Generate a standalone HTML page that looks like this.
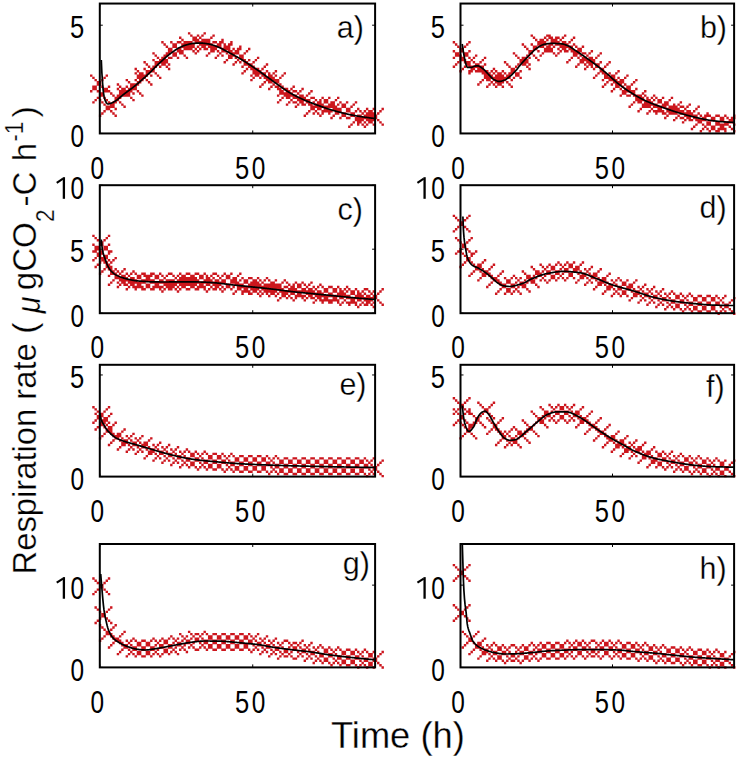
<!DOCTYPE html>
<html><head><meta charset="utf-8"><style>
html,body{margin:0;padding:0;background:#fff;overflow:hidden}
svg{display:block}
text{font-family:"Liberation Sans",sans-serif}
.thin text,text.thin{stroke:#fff;stroke-width:0.3px}
.pl{font-size:30.5px}
</style></head><body>
<svg width="742" height="758" viewBox="0 0 742 758">
<defs><filter id="bl" x="-5%" y="-5%" width="110%" height="110%"><feGaussianBlur stdDeviation="0.2"/></filter></defs>
<rect width="742" height="758" fill="#fff"/>
<g fill="#cc161e" filter="url(#bl)">
<path d="M98.92 94.47h2.4v2.4h-2.4zM101.15 94.47h2.4v2.4h-2.4zM112.28 94.47h2.4v2.4h-2.4zM116.73 94.47h2.4v2.4h-2.4zM118.95 94.47h2.4v2.4h-2.4zM121.17 94.47h2.4v2.4h-2.4zM123.4 94.47h2.4v2.4h-2.4zM125.62 94.47h2.4v2.4h-2.4zM127.85 94.47h2.4v2.4h-2.4zM141.2 94.47h2.4v2.4h-2.4zM276.93 94.47h2.4v2.4h-2.4zM283.6 94.47h2.4v2.4h-2.4zM285.83 94.47h2.4v2.4h-2.4zM288.05 94.47h2.4v2.4h-2.4zM290.28 94.47h2.4v2.4h-2.4zM292.5 94.47h2.4v2.4h-2.4zM294.73 94.47h2.4v2.4h-2.4zM299.18 94.47h2.4v2.4h-2.4zM301.4 94.47h2.4v2.4h-2.4zM305.85 94.47h2.4v2.4h-2.4zM152.33 52.2h2.4v2.4h-2.4zM165.68 52.2h2.4v2.4h-2.4zM167.9 52.2h2.4v2.4h-2.4zM172.35 52.2h2.4v2.4h-2.4zM174.58 52.2h2.4v2.4h-2.4zM179.03 52.2h2.4v2.4h-2.4zM181.25 52.2h2.4v2.4h-2.4zM194.6 52.2h2.4v2.4h-2.4zM207.95 52.2h2.4v2.4h-2.4zM219.08 52.2h2.4v2.4h-2.4zM225.75 52.2h2.4v2.4h-2.4zM230.2 52.2h2.4v2.4h-2.4zM232.43 52.2h2.4v2.4h-2.4zM234.65 52.2h2.4v2.4h-2.4zM236.88 52.2h2.4v2.4h-2.4zM243.55 52.2h2.4v2.4h-2.4zM92.25 85.58h2.4v2.4h-2.4zM94.47 85.58h2.4v2.4h-2.4zM101.15 85.58h2.4v2.4h-2.4zM107.83 85.58h2.4v2.4h-2.4zM118.95 85.58h2.4v2.4h-2.4zM125.62 85.58h2.4v2.4h-2.4zM130.08 85.58h2.4v2.4h-2.4zM132.3 85.58h2.4v2.4h-2.4zM134.53 85.58h2.4v2.4h-2.4zM259.12 85.58h2.4v2.4h-2.4zM270.25 85.58h2.4v2.4h-2.4zM274.7 85.58h2.4v2.4h-2.4zM276.93 85.58h2.4v2.4h-2.4zM281.38 85.58h2.4v2.4h-2.4zM292.5 85.58h2.4v2.4h-2.4zM145.65 63.33h2.4v2.4h-2.4zM154.55 63.33h2.4v2.4h-2.4zM156.78 63.33h2.4v2.4h-2.4zM161.23 63.33h2.4v2.4h-2.4zM163.45 63.33h2.4v2.4h-2.4zM167.9 63.33h2.4v2.4h-2.4zM232.43 63.33h2.4v2.4h-2.4zM243.55 63.33h2.4v2.4h-2.4zM245.78 63.33h2.4v2.4h-2.4zM248 63.33h2.4v2.4h-2.4zM250.23 63.33h2.4v2.4h-2.4zM265.8 63.33h2.4v2.4h-2.4zM190.15 34.4h2.4v2.4h-2.4zM196.83 34.4h2.4v2.4h-2.4zM201.28 34.4h2.4v2.4h-2.4zM212.4 34.4h2.4v2.4h-2.4zM90.03 74.45h2.4v2.4h-2.4zM105.6 74.45h2.4v2.4h-2.4zM136.75 74.45h2.4v2.4h-2.4zM138.98 74.45h2.4v2.4h-2.4zM141.2 74.45h2.4v2.4h-2.4zM143.43 74.45h2.4v2.4h-2.4zM145.65 74.45h2.4v2.4h-2.4zM150.1 74.45h2.4v2.4h-2.4zM156.78 74.45h2.4v2.4h-2.4zM250.23 74.45h2.4v2.4h-2.4zM254.68 74.45h2.4v2.4h-2.4zM256.9 74.45h2.4v2.4h-2.4zM261.35 74.45h2.4v2.4h-2.4zM263.58 74.45h2.4v2.4h-2.4zM268.03 74.45h2.4v2.4h-2.4zM270.25 74.45h2.4v2.4h-2.4zM274.7 74.45h2.4v2.4h-2.4zM281.38 74.45h2.4v2.4h-2.4zM103.38 110.05h2.4v2.4h-2.4zM110.05 110.05h2.4v2.4h-2.4zM308.08 110.05h2.4v2.4h-2.4zM314.75 110.05h2.4v2.4h-2.4zM321.43 110.05h2.4v2.4h-2.4zM323.65 110.05h2.4v2.4h-2.4zM325.88 110.05h2.4v2.4h-2.4zM328.1 110.05h2.4v2.4h-2.4zM330.33 110.05h2.4v2.4h-2.4zM334.78 110.05h2.4v2.4h-2.4zM337 110.05h2.4v2.4h-2.4zM339.23 110.05h2.4v2.4h-2.4zM345.9 110.05h2.4v2.4h-2.4zM348.12 110.05h2.4v2.4h-2.4zM354.8 110.05h2.4v2.4h-2.4zM359.25 110.05h2.4v2.4h-2.4zM363.7 110.05h2.4v2.4h-2.4zM368.15 110.05h2.4v2.4h-2.4zM370.38 110.05h2.4v2.4h-2.4zM379.28 110.05h2.4v2.4h-2.4zM354.8 118.95h2.4v2.4h-2.4zM357.03 118.95h2.4v2.4h-2.4zM359.25 118.95h2.4v2.4h-2.4zM361.48 118.95h2.4v2.4h-2.4zM365.93 118.95h2.4v2.4h-2.4zM368.15 118.95h2.4v2.4h-2.4zM370.38 118.95h2.4v2.4h-2.4zM372.6 118.95h2.4v2.4h-2.4zM377.05 118.95h2.4v2.4h-2.4zM94.47 98.92h2.4v2.4h-2.4zM98.92 98.92h2.4v2.4h-2.4zM105.6 98.92h2.4v2.4h-2.4zM114.5 98.92h2.4v2.4h-2.4zM116.73 98.92h2.4v2.4h-2.4zM132.3 98.92h2.4v2.4h-2.4zM279.15 98.92h2.4v2.4h-2.4zM290.28 98.92h2.4v2.4h-2.4zM296.95 98.92h2.4v2.4h-2.4zM299.18 98.92h2.4v2.4h-2.4zM301.4 98.92h2.4v2.4h-2.4zM303.62 98.92h2.4v2.4h-2.4zM305.85 98.92h2.4v2.4h-2.4zM308.08 98.92h2.4v2.4h-2.4zM314.75 98.92h2.4v2.4h-2.4zM319.2 98.92h2.4v2.4h-2.4zM323.65 98.92h2.4v2.4h-2.4zM325.88 98.92h2.4v2.4h-2.4zM334.78 98.92h2.4v2.4h-2.4zM165.68 45.52h2.4v2.4h-2.4zM172.35 45.52h2.4v2.4h-2.4zM174.58 45.52h2.4v2.4h-2.4zM181.25 45.52h2.4v2.4h-2.4zM183.48 45.52h2.4v2.4h-2.4zM185.7 45.52h2.4v2.4h-2.4zM187.93 45.52h2.4v2.4h-2.4zM190.15 45.52h2.4v2.4h-2.4zM192.38 45.52h2.4v2.4h-2.4zM196.83 45.52h2.4v2.4h-2.4zM201.28 45.52h2.4v2.4h-2.4zM203.5 45.52h2.4v2.4h-2.4zM207.95 45.52h2.4v2.4h-2.4zM210.18 45.52h2.4v2.4h-2.4zM212.4 45.52h2.4v2.4h-2.4zM214.63 45.52h2.4v2.4h-2.4zM216.85 45.52h2.4v2.4h-2.4zM219.08 45.52h2.4v2.4h-2.4zM223.53 45.52h2.4v2.4h-2.4zM225.75 45.52h2.4v2.4h-2.4zM227.98 45.52h2.4v2.4h-2.4zM239.1 45.52h2.4v2.4h-2.4zM352.58 121.17h2.4v2.4h-2.4zM357.03 121.17h2.4v2.4h-2.4zM359.25 121.17h2.4v2.4h-2.4zM363.7 121.17h2.4v2.4h-2.4zM368.15 121.17h2.4v2.4h-2.4zM370.38 121.17h2.4v2.4h-2.4zM379.28 121.17h2.4v2.4h-2.4zM101.15 112.28h2.4v2.4h-2.4zM112.28 112.28h2.4v2.4h-2.4zM305.85 112.28h2.4v2.4h-2.4zM312.53 112.28h2.4v2.4h-2.4zM316.98 112.28h2.4v2.4h-2.4zM321.43 112.28h2.4v2.4h-2.4zM328.1 112.28h2.4v2.4h-2.4zM334.78 112.28h2.4v2.4h-2.4zM337 112.28h2.4v2.4h-2.4zM341.45 112.28h2.4v2.4h-2.4zM343.68 112.28h2.4v2.4h-2.4zM350.35 112.28h2.4v2.4h-2.4zM352.58 112.28h2.4v2.4h-2.4zM361.48 112.28h2.4v2.4h-2.4zM365.93 112.28h2.4v2.4h-2.4zM368.15 112.28h2.4v2.4h-2.4zM370.38 112.28h2.4v2.4h-2.4zM372.6 112.28h2.4v2.4h-2.4zM377.05 112.28h2.4v2.4h-2.4zM167.9 47.75h2.4v2.4h-2.4zM170.13 47.75h2.4v2.4h-2.4zM176.8 47.75h2.4v2.4h-2.4zM179.03 47.75h2.4v2.4h-2.4zM183.48 47.75h2.4v2.4h-2.4zM185.7 47.75h2.4v2.4h-2.4zM187.93 47.75h2.4v2.4h-2.4zM190.15 47.75h2.4v2.4h-2.4zM194.6 47.75h2.4v2.4h-2.4zM199.05 47.75h2.4v2.4h-2.4zM203.5 47.75h2.4v2.4h-2.4zM205.73 47.75h2.4v2.4h-2.4zM210.18 47.75h2.4v2.4h-2.4zM212.4 47.75h2.4v2.4h-2.4zM214.63 47.75h2.4v2.4h-2.4zM221.3 47.75h2.4v2.4h-2.4zM223.53 47.75h2.4v2.4h-2.4zM225.75 47.75h2.4v2.4h-2.4zM227.98 47.75h2.4v2.4h-2.4zM232.43 47.75h2.4v2.4h-2.4zM236.88 47.75h2.4v2.4h-2.4zM239.1 47.75h2.4v2.4h-2.4zM248 47.75h2.4v2.4h-2.4zM96.7 83.35h2.4v2.4h-2.4zM98.92 83.35h2.4v2.4h-2.4zM116.73 83.35h2.4v2.4h-2.4zM130.08 83.35h2.4v2.4h-2.4zM132.3 83.35h2.4v2.4h-2.4zM134.53 83.35h2.4v2.4h-2.4zM136.75 83.35h2.4v2.4h-2.4zM150.1 83.35h2.4v2.4h-2.4zM261.35 83.35h2.4v2.4h-2.4zM272.48 83.35h2.4v2.4h-2.4zM279.15 83.35h2.4v2.4h-2.4zM181.25 38.85h2.4v2.4h-2.4zM192.38 38.85h2.4v2.4h-2.4zM194.6 38.85h2.4v2.4h-2.4zM196.83 38.85h2.4v2.4h-2.4zM201.28 38.85h2.4v2.4h-2.4zM203.5 38.85h2.4v2.4h-2.4zM205.73 38.85h2.4v2.4h-2.4zM207.95 38.85h2.4v2.4h-2.4zM221.3 38.85h2.4v2.4h-2.4zM134.53 72.22h2.4v2.4h-2.4zM138.98 72.22h2.4v2.4h-2.4zM141.2 72.22h2.4v2.4h-2.4zM145.65 72.22h2.4v2.4h-2.4zM147.88 72.22h2.4v2.4h-2.4zM154.55 72.22h2.4v2.4h-2.4zM241.33 72.22h2.4v2.4h-2.4zM252.45 72.22h2.4v2.4h-2.4zM254.68 72.22h2.4v2.4h-2.4zM256.9 72.22h2.4v2.4h-2.4zM259.12 72.22h2.4v2.4h-2.4zM261.35 72.22h2.4v2.4h-2.4zM263.58 72.22h2.4v2.4h-2.4zM268.03 72.22h2.4v2.4h-2.4zM272.48 72.22h2.4v2.4h-2.4zM283.6 72.22h2.4v2.4h-2.4zM92.25 101.15h2.4v2.4h-2.4zM101.15 101.15h2.4v2.4h-2.4zM107.83 101.15h2.4v2.4h-2.4zM112.28 101.15h2.4v2.4h-2.4zM114.5 101.15h2.4v2.4h-2.4zM118.95 101.15h2.4v2.4h-2.4zM276.93 101.15h2.4v2.4h-2.4zM288.05 101.15h2.4v2.4h-2.4zM292.5 101.15h2.4v2.4h-2.4zM294.73 101.15h2.4v2.4h-2.4zM299.18 101.15h2.4v2.4h-2.4zM301.4 101.15h2.4v2.4h-2.4zM305.85 101.15h2.4v2.4h-2.4zM308.08 101.15h2.4v2.4h-2.4zM312.53 101.15h2.4v2.4h-2.4zM316.98 101.15h2.4v2.4h-2.4zM319.2 101.15h2.4v2.4h-2.4zM323.65 101.15h2.4v2.4h-2.4zM325.88 101.15h2.4v2.4h-2.4zM330.33 101.15h2.4v2.4h-2.4zM332.55 101.15h2.4v2.4h-2.4zM339.23 101.15h2.4v2.4h-2.4zM345.9 101.15h2.4v2.4h-2.4zM354.8 101.15h2.4v2.4h-2.4zM98.92 114.5h2.4v2.4h-2.4zM114.5 114.5h2.4v2.4h-2.4zM303.62 114.5h2.4v2.4h-2.4zM319.2 114.5h2.4v2.4h-2.4zM332.55 114.5h2.4v2.4h-2.4zM341.45 114.5h2.4v2.4h-2.4zM343.68 114.5h2.4v2.4h-2.4zM350.35 114.5h2.4v2.4h-2.4zM352.58 114.5h2.4v2.4h-2.4zM357.03 114.5h2.4v2.4h-2.4zM359.25 114.5h2.4v2.4h-2.4zM363.7 114.5h2.4v2.4h-2.4zM365.93 114.5h2.4v2.4h-2.4zM368.15 114.5h2.4v2.4h-2.4zM370.38 114.5h2.4v2.4h-2.4zM372.6 114.5h2.4v2.4h-2.4zM374.83 114.5h2.4v2.4h-2.4zM90.03 90.03h2.4v2.4h-2.4zM96.7 90.03h2.4v2.4h-2.4zM103.38 90.03h2.4v2.4h-2.4zM105.6 90.03h2.4v2.4h-2.4zM107.83 90.03h2.4v2.4h-2.4zM118.95 90.03h2.4v2.4h-2.4zM121.17 90.03h2.4v2.4h-2.4zM123.4 90.03h2.4v2.4h-2.4zM125.62 90.03h2.4v2.4h-2.4zM127.85 90.03h2.4v2.4h-2.4zM130.08 90.03h2.4v2.4h-2.4zM136.75 90.03h2.4v2.4h-2.4zM279.15 90.03h2.4v2.4h-2.4zM281.38 90.03h2.4v2.4h-2.4zM285.83 90.03h2.4v2.4h-2.4zM288.05 90.03h2.4v2.4h-2.4zM292.5 90.03h2.4v2.4h-2.4zM294.73 90.03h2.4v2.4h-2.4zM299.18 90.03h2.4v2.4h-2.4zM310.3 90.03h2.4v2.4h-2.4zM167.9 49.98h2.4v2.4h-2.4zM170.13 49.98h2.4v2.4h-2.4zM176.8 49.98h2.4v2.4h-2.4zM179.03 49.98h2.4v2.4h-2.4zM181.25 49.98h2.4v2.4h-2.4zM192.38 49.98h2.4v2.4h-2.4zM196.83 49.98h2.4v2.4h-2.4zM210.18 49.98h2.4v2.4h-2.4zM212.4 49.98h2.4v2.4h-2.4zM216.85 49.98h2.4v2.4h-2.4zM221.3 49.98h2.4v2.4h-2.4zM223.53 49.98h2.4v2.4h-2.4zM227.98 49.98h2.4v2.4h-2.4zM230.2 49.98h2.4v2.4h-2.4zM234.65 49.98h2.4v2.4h-2.4zM236.88 49.98h2.4v2.4h-2.4zM245.78 49.98h2.4v2.4h-2.4zM161.23 41.07h2.4v2.4h-2.4zM170.13 41.07h2.4v2.4h-2.4zM176.8 41.07h2.4v2.4h-2.4zM179.03 41.07h2.4v2.4h-2.4zM183.48 41.07h2.4v2.4h-2.4zM185.7 41.07h2.4v2.4h-2.4zM187.93 41.07h2.4v2.4h-2.4zM190.15 41.07h2.4v2.4h-2.4zM194.6 41.07h2.4v2.4h-2.4zM196.83 41.07h2.4v2.4h-2.4zM199.05 41.07h2.4v2.4h-2.4zM201.28 41.07h2.4v2.4h-2.4zM203.5 41.07h2.4v2.4h-2.4zM205.73 41.07h2.4v2.4h-2.4zM207.95 41.07h2.4v2.4h-2.4zM212.4 41.07h2.4v2.4h-2.4zM214.63 41.07h2.4v2.4h-2.4zM219.08 41.07h2.4v2.4h-2.4zM221.3 41.07h2.4v2.4h-2.4zM230.2 41.07h2.4v2.4h-2.4zM143.43 61.1h2.4v2.4h-2.4zM154.55 61.1h2.4v2.4h-2.4zM156.78 61.1h2.4v2.4h-2.4zM159 61.1h2.4v2.4h-2.4zM161.23 61.1h2.4v2.4h-2.4zM163.45 61.1h2.4v2.4h-2.4zM165.68 61.1h2.4v2.4h-2.4zM223.53 61.1h2.4v2.4h-2.4zM234.65 61.1h2.4v2.4h-2.4zM239.1 61.1h2.4v2.4h-2.4zM243.55 61.1h2.4v2.4h-2.4zM245.78 61.1h2.4v2.4h-2.4zM252.45 61.1h2.4v2.4h-2.4zM147.88 65.55h2.4v2.4h-2.4zM152.33 65.55h2.4v2.4h-2.4zM154.55 65.55h2.4v2.4h-2.4zM159 65.55h2.4v2.4h-2.4zM165.68 65.55h2.4v2.4h-2.4zM241.33 65.55h2.4v2.4h-2.4zM248 65.55h2.4v2.4h-2.4zM250.23 65.55h2.4v2.4h-2.4zM252.45 65.55h2.4v2.4h-2.4zM263.58 65.55h2.4v2.4h-2.4zM330.33 116.73h2.4v2.4h-2.4zM339.23 116.73h2.4v2.4h-2.4zM345.9 116.73h2.4v2.4h-2.4zM348.12 116.73h2.4v2.4h-2.4zM354.8 116.73h2.4v2.4h-2.4zM357.03 116.73h2.4v2.4h-2.4zM359.25 116.73h2.4v2.4h-2.4zM361.48 116.73h2.4v2.4h-2.4zM363.7 116.73h2.4v2.4h-2.4zM365.93 116.73h2.4v2.4h-2.4zM368.15 116.73h2.4v2.4h-2.4zM370.38 116.73h2.4v2.4h-2.4zM372.6 116.73h2.4v2.4h-2.4zM374.83 116.73h2.4v2.4h-2.4zM105.6 107.83h2.4v2.4h-2.4zM107.83 107.83h2.4v2.4h-2.4zM114.5 107.83h2.4v2.4h-2.4zM310.3 107.83h2.4v2.4h-2.4zM312.53 107.83h2.4v2.4h-2.4zM316.98 107.83h2.4v2.4h-2.4zM319.2 107.83h2.4v2.4h-2.4zM323.65 107.83h2.4v2.4h-2.4zM325.88 107.83h2.4v2.4h-2.4zM332.55 107.83h2.4v2.4h-2.4zM334.78 107.83h2.4v2.4h-2.4zM337 107.83h2.4v2.4h-2.4zM339.23 107.83h2.4v2.4h-2.4zM345.9 107.83h2.4v2.4h-2.4zM348.12 107.83h2.4v2.4h-2.4zM357.03 107.83h2.4v2.4h-2.4zM365.93 107.83h2.4v2.4h-2.4zM372.6 107.83h2.4v2.4h-2.4zM381.5 107.83h2.4v2.4h-2.4zM92.25 87.8h2.4v2.4h-2.4zM94.47 87.8h2.4v2.4h-2.4zM103.38 87.8h2.4v2.4h-2.4zM105.6 87.8h2.4v2.4h-2.4zM116.73 87.8h2.4v2.4h-2.4zM121.17 87.8h2.4v2.4h-2.4zM123.4 87.8h2.4v2.4h-2.4zM127.85 87.8h2.4v2.4h-2.4zM130.08 87.8h2.4v2.4h-2.4zM132.3 87.8h2.4v2.4h-2.4zM134.53 87.8h2.4v2.4h-2.4zM268.03 87.8h2.4v2.4h-2.4zM276.93 87.8h2.4v2.4h-2.4zM279.15 87.8h2.4v2.4h-2.4zM283.6 87.8h2.4v2.4h-2.4zM285.83 87.8h2.4v2.4h-2.4zM290.28 87.8h2.4v2.4h-2.4zM301.4 87.8h2.4v2.4h-2.4zM163.45 43.3h2.4v2.4h-2.4zM172.35 43.3h2.4v2.4h-2.4zM174.58 43.3h2.4v2.4h-2.4zM181.25 43.3h2.4v2.4h-2.4zM183.48 43.3h2.4v2.4h-2.4zM185.7 43.3h2.4v2.4h-2.4zM187.93 43.3h2.4v2.4h-2.4zM190.15 43.3h2.4v2.4h-2.4zM192.38 43.3h2.4v2.4h-2.4zM199.05 43.3h2.4v2.4h-2.4zM201.28 43.3h2.4v2.4h-2.4zM203.5 43.3h2.4v2.4h-2.4zM205.73 43.3h2.4v2.4h-2.4zM207.95 43.3h2.4v2.4h-2.4zM210.18 43.3h2.4v2.4h-2.4zM216.85 43.3h2.4v2.4h-2.4zM219.08 43.3h2.4v2.4h-2.4zM223.53 43.3h2.4v2.4h-2.4zM227.98 43.3h2.4v2.4h-2.4zM230.2 43.3h2.4v2.4h-2.4zM154.55 54.42h2.4v2.4h-2.4zM163.45 54.42h2.4v2.4h-2.4zM165.68 54.42h2.4v2.4h-2.4zM172.35 54.42h2.4v2.4h-2.4zM174.58 54.42h2.4v2.4h-2.4zM183.48 54.42h2.4v2.4h-2.4zM205.73 54.42h2.4v2.4h-2.4zM216.85 54.42h2.4v2.4h-2.4zM221.3 54.42h2.4v2.4h-2.4zM227.98 54.42h2.4v2.4h-2.4zM230.2 54.42h2.4v2.4h-2.4zM232.43 54.42h2.4v2.4h-2.4zM239.1 54.42h2.4v2.4h-2.4zM241.33 54.42h2.4v2.4h-2.4zM134.53 67.78h2.4v2.4h-2.4zM143.43 67.78h2.4v2.4h-2.4zM150.1 67.78h2.4v2.4h-2.4zM152.33 67.78h2.4v2.4h-2.4zM167.9 67.78h2.4v2.4h-2.4zM245.78 67.78h2.4v2.4h-2.4zM250.23 67.78h2.4v2.4h-2.4zM252.45 67.78h2.4v2.4h-2.4zM254.68 67.78h2.4v2.4h-2.4zM256.9 67.78h2.4v2.4h-2.4zM261.35 67.78h2.4v2.4h-2.4zM96.7 96.7h2.4v2.4h-2.4zM103.38 96.7h2.4v2.4h-2.4zM114.5 96.7h2.4v2.4h-2.4zM116.73 96.7h2.4v2.4h-2.4zM118.95 96.7h2.4v2.4h-2.4zM130.08 96.7h2.4v2.4h-2.4zM281.38 96.7h2.4v2.4h-2.4zM285.83 96.7h2.4v2.4h-2.4zM288.05 96.7h2.4v2.4h-2.4zM292.5 96.7h2.4v2.4h-2.4zM294.73 96.7h2.4v2.4h-2.4zM296.95 96.7h2.4v2.4h-2.4zM299.18 96.7h2.4v2.4h-2.4zM301.4 96.7h2.4v2.4h-2.4zM303.62 96.7h2.4v2.4h-2.4zM310.3 96.7h2.4v2.4h-2.4zM312.53 96.7h2.4v2.4h-2.4zM321.43 96.7h2.4v2.4h-2.4zM328.1 96.7h2.4v2.4h-2.4zM337 96.7h2.4v2.4h-2.4zM105.6 105.6h2.4v2.4h-2.4zM107.83 105.6h2.4v2.4h-2.4zM110.05 105.6h2.4v2.4h-2.4zM112.28 105.6h2.4v2.4h-2.4zM123.4 105.6h2.4v2.4h-2.4zM294.73 105.6h2.4v2.4h-2.4zM310.3 105.6h2.4v2.4h-2.4zM312.53 105.6h2.4v2.4h-2.4zM314.75 105.6h2.4v2.4h-2.4zM316.98 105.6h2.4v2.4h-2.4zM319.2 105.6h2.4v2.4h-2.4zM321.43 105.6h2.4v2.4h-2.4zM323.65 105.6h2.4v2.4h-2.4zM325.88 105.6h2.4v2.4h-2.4zM328.1 105.6h2.4v2.4h-2.4zM330.33 105.6h2.4v2.4h-2.4zM332.55 105.6h2.4v2.4h-2.4zM334.78 105.6h2.4v2.4h-2.4zM341.45 105.6h2.4v2.4h-2.4zM343.68 105.6h2.4v2.4h-2.4zM350.35 105.6h2.4v2.4h-2.4zM136.75 70h2.4v2.4h-2.4zM145.65 70h2.4v2.4h-2.4zM147.88 70h2.4v2.4h-2.4zM150.1 70h2.4v2.4h-2.4zM152.33 70h2.4v2.4h-2.4zM243.55 70h2.4v2.4h-2.4zM252.45 70h2.4v2.4h-2.4zM254.68 70h2.4v2.4h-2.4zM256.9 70h2.4v2.4h-2.4zM259.12 70h2.4v2.4h-2.4zM265.8 70h2.4v2.4h-2.4zM274.7 70h2.4v2.4h-2.4zM156.78 56.65h2.4v2.4h-2.4zM161.23 56.65h2.4v2.4h-2.4zM163.45 56.65h2.4v2.4h-2.4zM167.9 56.65h2.4v2.4h-2.4zM170.13 56.65h2.4v2.4h-2.4zM176.8 56.65h2.4v2.4h-2.4zM185.7 56.65h2.4v2.4h-2.4zM214.63 56.65h2.4v2.4h-2.4zM227.98 56.65h2.4v2.4h-2.4zM230.2 56.65h2.4v2.4h-2.4zM234.65 56.65h2.4v2.4h-2.4zM239.1 56.65h2.4v2.4h-2.4zM241.33 56.65h2.4v2.4h-2.4zM256.9 56.65h2.4v2.4h-2.4zM103.38 103.38h2.4v2.4h-2.4zM110.05 103.38h2.4v2.4h-2.4zM112.28 103.38h2.4v2.4h-2.4zM121.17 103.38h2.4v2.4h-2.4zM285.83 103.38h2.4v2.4h-2.4zM296.95 103.38h2.4v2.4h-2.4zM301.4 103.38h2.4v2.4h-2.4zM303.62 103.38h2.4v2.4h-2.4zM308.08 103.38h2.4v2.4h-2.4zM310.3 103.38h2.4v2.4h-2.4zM314.75 103.38h2.4v2.4h-2.4zM316.98 103.38h2.4v2.4h-2.4zM319.2 103.38h2.4v2.4h-2.4zM321.43 103.38h2.4v2.4h-2.4zM328.1 103.38h2.4v2.4h-2.4zM330.33 103.38h2.4v2.4h-2.4zM332.55 103.38h2.4v2.4h-2.4zM337 103.38h2.4v2.4h-2.4zM341.45 103.38h2.4v2.4h-2.4zM343.68 103.38h2.4v2.4h-2.4zM352.58 103.38h2.4v2.4h-2.4zM350.35 123.4h2.4v2.4h-2.4zM357.03 123.4h2.4v2.4h-2.4zM361.48 123.4h2.4v2.4h-2.4zM365.93 123.4h2.4v2.4h-2.4zM372.6 123.4h2.4v2.4h-2.4zM381.5 123.4h2.4v2.4h-2.4zM98.92 92.25h2.4v2.4h-2.4zM101.15 92.25h2.4v2.4h-2.4zM110.05 92.25h2.4v2.4h-2.4zM118.95 92.25h2.4v2.4h-2.4zM121.17 92.25h2.4v2.4h-2.4zM123.4 92.25h2.4v2.4h-2.4zM125.62 92.25h2.4v2.4h-2.4zM127.85 92.25h2.4v2.4h-2.4zM132.3 92.25h2.4v2.4h-2.4zM138.98 92.25h2.4v2.4h-2.4zM279.15 92.25h2.4v2.4h-2.4zM281.38 92.25h2.4v2.4h-2.4zM283.6 92.25h2.4v2.4h-2.4zM285.83 92.25h2.4v2.4h-2.4zM288.05 92.25h2.4v2.4h-2.4zM290.28 92.25h2.4v2.4h-2.4zM296.95 92.25h2.4v2.4h-2.4zM308.08 92.25h2.4v2.4h-2.4zM96.7 81.12h2.4v2.4h-2.4zM98.92 81.12h2.4v2.4h-2.4zM127.85 81.12h2.4v2.4h-2.4zM136.75 81.12h2.4v2.4h-2.4zM138.98 81.12h2.4v2.4h-2.4zM147.88 81.12h2.4v2.4h-2.4zM263.58 81.12h2.4v2.4h-2.4zM268.03 81.12h2.4v2.4h-2.4zM270.25 81.12h2.4v2.4h-2.4zM274.7 81.12h2.4v2.4h-2.4zM276.93 81.12h2.4v2.4h-2.4zM94.47 78.9h2.4v2.4h-2.4zM101.15 78.9h2.4v2.4h-2.4zM125.62 78.9h2.4v2.4h-2.4zM134.53 78.9h2.4v2.4h-2.4zM138.98 78.9h2.4v2.4h-2.4zM141.2 78.9h2.4v2.4h-2.4zM145.65 78.9h2.4v2.4h-2.4zM250.23 78.9h2.4v2.4h-2.4zM265.8 78.9h2.4v2.4h-2.4zM268.03 78.9h2.4v2.4h-2.4zM270.25 78.9h2.4v2.4h-2.4zM272.48 78.9h2.4v2.4h-2.4zM274.7 78.9h2.4v2.4h-2.4zM276.93 78.9h2.4v2.4h-2.4zM152.33 58.88h2.4v2.4h-2.4zM159 58.88h2.4v2.4h-2.4zM161.23 58.88h2.4v2.4h-2.4zM163.45 58.88h2.4v2.4h-2.4zM165.68 58.88h2.4v2.4h-2.4zM225.75 58.88h2.4v2.4h-2.4zM236.88 58.88h2.4v2.4h-2.4zM241.33 58.88h2.4v2.4h-2.4zM243.55 58.88h2.4v2.4h-2.4zM248 58.88h2.4v2.4h-2.4zM254.68 58.88h2.4v2.4h-2.4zM92.25 76.67h2.4v2.4h-2.4zM103.38 76.67h2.4v2.4h-2.4zM136.75 76.67h2.4v2.4h-2.4zM138.98 76.67h2.4v2.4h-2.4zM141.2 76.67h2.4v2.4h-2.4zM143.43 76.67h2.4v2.4h-2.4zM159 76.67h2.4v2.4h-2.4zM252.45 76.67h2.4v2.4h-2.4zM259.12 76.67h2.4v2.4h-2.4zM263.58 76.67h2.4v2.4h-2.4zM265.8 76.67h2.4v2.4h-2.4zM268.03 76.67h2.4v2.4h-2.4zM270.25 76.67h2.4v2.4h-2.4zM272.48 76.67h2.4v2.4h-2.4zM279.15 76.67h2.4v2.4h-2.4zM179.03 36.62h2.4v2.4h-2.4zM192.38 36.62h2.4v2.4h-2.4zM194.6 36.62h2.4v2.4h-2.4zM199.05 36.62h2.4v2.4h-2.4zM210.18 36.62h2.4v2.4h-2.4zM348.12 125.62h2.4v2.4h-2.4zM363.7 125.62h2.4v2.4h-2.4zM187.93 32.17h2.4v2.4h-2.4zM203.5 32.17h2.4v2.4h-2.4z"/>
<path d="M452.7 65.55h2.4v2.4h-2.4zM463.83 65.55h2.4v2.4h-2.4zM468.28 65.55h2.4v2.4h-2.4zM470.5 65.55h2.4v2.4h-2.4zM472.73 65.55h2.4v2.4h-2.4zM474.95 65.55h2.4v2.4h-2.4zM477.18 65.55h2.4v2.4h-2.4zM479.4 65.55h2.4v2.4h-2.4zM481.63 65.55h2.4v2.4h-2.4zM508.33 65.55h2.4v2.4h-2.4zM515 65.55h2.4v2.4h-2.4zM526.12 65.55h2.4v2.4h-2.4zM575.07 65.55h2.4v2.4h-2.4zM586.2 65.55h2.4v2.4h-2.4zM590.65 65.55h2.4v2.4h-2.4zM595.1 65.55h2.4v2.4h-2.4zM597.32 65.55h2.4v2.4h-2.4zM604 65.55h2.4v2.4h-2.4zM610.67 90.03h2.4v2.4h-2.4zM621.8 90.03h2.4v2.4h-2.4zM624.02 90.03h2.4v2.4h-2.4zM626.25 90.03h2.4v2.4h-2.4zM628.48 90.03h2.4v2.4h-2.4zM630.7 90.03h2.4v2.4h-2.4zM632.92 90.03h2.4v2.4h-2.4zM644.05 90.03h2.4v2.4h-2.4zM672.98 118.95h2.4v2.4h-2.4zM684.1 118.95h2.4v2.4h-2.4zM688.55 118.95h2.4v2.4h-2.4zM690.77 118.95h2.4v2.4h-2.4zM695.23 118.95h2.4v2.4h-2.4zM697.45 118.95h2.4v2.4h-2.4zM699.67 118.95h2.4v2.4h-2.4zM701.9 118.95h2.4v2.4h-2.4zM704.12 118.95h2.4v2.4h-2.4zM710.8 118.95h2.4v2.4h-2.4zM713.02 118.95h2.4v2.4h-2.4zM719.7 118.95h2.4v2.4h-2.4zM721.92 118.95h2.4v2.4h-2.4zM728.6 118.95h2.4v2.4h-2.4zM730.82 118.95h2.4v2.4h-2.4zM695.23 123.4h2.4v2.4h-2.4zM701.9 123.4h2.4v2.4h-2.4zM706.35 123.4h2.4v2.4h-2.4zM708.57 123.4h2.4v2.4h-2.4zM715.25 123.4h2.4v2.4h-2.4zM717.48 123.4h2.4v2.4h-2.4zM719.7 123.4h2.4v2.4h-2.4zM721.92 123.4h2.4v2.4h-2.4zM724.15 123.4h2.4v2.4h-2.4zM726.38 123.4h2.4v2.4h-2.4zM733.05 123.4h2.4v2.4h-2.4zM459.38 58.88h2.4v2.4h-2.4zM461.6 58.88h2.4v2.4h-2.4zM463.83 58.88h2.4v2.4h-2.4zM470.5 58.88h2.4v2.4h-2.4zM481.63 58.88h2.4v2.4h-2.4zM519.45 58.88h2.4v2.4h-2.4zM521.67 58.88h2.4v2.4h-2.4zM523.9 58.88h2.4v2.4h-2.4zM526.12 58.88h2.4v2.4h-2.4zM537.25 58.88h2.4v2.4h-2.4zM568.4 58.88h2.4v2.4h-2.4zM579.52 58.88h2.4v2.4h-2.4zM581.75 58.88h2.4v2.4h-2.4zM583.98 58.88h2.4v2.4h-2.4zM586.2 58.88h2.4v2.4h-2.4zM588.42 58.88h2.4v2.4h-2.4zM590.65 58.88h2.4v2.4h-2.4zM592.88 58.88h2.4v2.4h-2.4zM452.7 49.98h2.4v2.4h-2.4zM459.38 49.98h2.4v2.4h-2.4zM461.6 49.98h2.4v2.4h-2.4zM468.28 49.98h2.4v2.4h-2.4zM528.35 49.98h2.4v2.4h-2.4zM530.57 49.98h2.4v2.4h-2.4zM537.25 49.98h2.4v2.4h-2.4zM543.92 49.98h2.4v2.4h-2.4zM546.15 49.98h2.4v2.4h-2.4zM548.38 49.98h2.4v2.4h-2.4zM550.6 49.98h2.4v2.4h-2.4zM559.5 49.98h2.4v2.4h-2.4zM563.95 49.98h2.4v2.4h-2.4zM566.17 49.98h2.4v2.4h-2.4zM570.62 49.98h2.4v2.4h-2.4zM572.85 49.98h2.4v2.4h-2.4zM575.07 49.98h2.4v2.4h-2.4zM577.3 49.98h2.4v2.4h-2.4zM579.52 49.98h2.4v2.4h-2.4zM590.65 49.98h2.4v2.4h-2.4zM477.18 83.35h2.4v2.4h-2.4zM488.3 83.35h2.4v2.4h-2.4zM492.75 83.35h2.4v2.4h-2.4zM497.2 83.35h2.4v2.4h-2.4zM499.43 83.35h2.4v2.4h-2.4zM508.33 83.35h2.4v2.4h-2.4zM604 83.35h2.4v2.4h-2.4zM610.67 83.35h2.4v2.4h-2.4zM615.12 83.35h2.4v2.4h-2.4zM617.35 83.35h2.4v2.4h-2.4zM619.57 83.35h2.4v2.4h-2.4zM624.02 83.35h2.4v2.4h-2.4zM630.7 83.35h2.4v2.4h-2.4zM646.27 112.28h2.4v2.4h-2.4zM655.17 112.28h2.4v2.4h-2.4zM661.85 112.28h2.4v2.4h-2.4zM664.07 112.28h2.4v2.4h-2.4zM668.52 112.28h2.4v2.4h-2.4zM670.75 112.28h2.4v2.4h-2.4zM672.98 112.28h2.4v2.4h-2.4zM675.2 112.28h2.4v2.4h-2.4zM679.65 112.28h2.4v2.4h-2.4zM681.88 112.28h2.4v2.4h-2.4zM684.1 112.28h2.4v2.4h-2.4zM686.32 112.28h2.4v2.4h-2.4zM688.55 112.28h2.4v2.4h-2.4zM690.77 112.28h2.4v2.4h-2.4zM697.45 112.28h2.4v2.4h-2.4zM706.35 112.28h2.4v2.4h-2.4zM630.7 103.38h2.4v2.4h-2.4zM641.82 103.38h2.4v2.4h-2.4zM644.05 103.38h2.4v2.4h-2.4zM646.27 103.38h2.4v2.4h-2.4zM648.5 103.38h2.4v2.4h-2.4zM650.73 103.38h2.4v2.4h-2.4zM652.95 103.38h2.4v2.4h-2.4zM655.17 103.38h2.4v2.4h-2.4zM661.85 103.38h2.4v2.4h-2.4zM664.07 103.38h2.4v2.4h-2.4zM666.3 103.38h2.4v2.4h-2.4zM672.98 103.38h2.4v2.4h-2.4zM677.42 103.38h2.4v2.4h-2.4zM688.55 103.38h2.4v2.4h-2.4zM457.15 61.1h2.4v2.4h-2.4zM463.83 61.1h2.4v2.4h-2.4zM466.05 61.1h2.4v2.4h-2.4zM468.28 61.1h2.4v2.4h-2.4zM472.73 61.1h2.4v2.4h-2.4zM479.4 61.1h2.4v2.4h-2.4zM503.88 61.1h2.4v2.4h-2.4zM519.45 61.1h2.4v2.4h-2.4zM521.67 61.1h2.4v2.4h-2.4zM523.9 61.1h2.4v2.4h-2.4zM526.12 61.1h2.4v2.4h-2.4zM566.17 61.1h2.4v2.4h-2.4zM579.52 61.1h2.4v2.4h-2.4zM581.75 61.1h2.4v2.4h-2.4zM586.2 61.1h2.4v2.4h-2.4zM588.42 61.1h2.4v2.4h-2.4zM590.65 61.1h2.4v2.4h-2.4zM592.88 61.1h2.4v2.4h-2.4zM599.55 61.1h2.4v2.4h-2.4zM608.45 61.1h2.4v2.4h-2.4zM486.08 85.58h2.4v2.4h-2.4zM494.98 85.58h2.4v2.4h-2.4zM501.65 85.58h2.4v2.4h-2.4zM510.55 85.58h2.4v2.4h-2.4zM601.77 85.58h2.4v2.4h-2.4zM615.12 85.58h2.4v2.4h-2.4zM617.35 85.58h2.4v2.4h-2.4zM621.8 85.58h2.4v2.4h-2.4zM626.25 85.58h2.4v2.4h-2.4zM628.48 85.58h2.4v2.4h-2.4zM693 125.62h2.4v2.4h-2.4zM704.12 125.62h2.4v2.4h-2.4zM710.8 125.62h2.4v2.4h-2.4zM713.02 125.62h2.4v2.4h-2.4zM719.7 125.62h2.4v2.4h-2.4zM721.92 125.62h2.4v2.4h-2.4zM728.6 125.62h2.4v2.4h-2.4zM664.07 116.73h2.4v2.4h-2.4zM675.2 116.73h2.4v2.4h-2.4zM679.65 116.73h2.4v2.4h-2.4zM681.88 116.73h2.4v2.4h-2.4zM686.32 116.73h2.4v2.4h-2.4zM688.55 116.73h2.4v2.4h-2.4zM693 116.73h2.4v2.4h-2.4zM695.23 116.73h2.4v2.4h-2.4zM701.9 116.73h2.4v2.4h-2.4zM704.12 116.73h2.4v2.4h-2.4zM710.8 116.73h2.4v2.4h-2.4zM713.02 116.73h2.4v2.4h-2.4zM719.7 116.73h2.4v2.4h-2.4zM721.92 116.73h2.4v2.4h-2.4zM726.38 116.73h2.4v2.4h-2.4zM730.82 116.73h2.4v2.4h-2.4zM733.05 116.73h2.4v2.4h-2.4zM454.93 52.2h2.4v2.4h-2.4zM457.15 52.2h2.4v2.4h-2.4zM463.83 52.2h2.4v2.4h-2.4zM466.05 52.2h2.4v2.4h-2.4zM512.77 52.2h2.4v2.4h-2.4zM528.35 52.2h2.4v2.4h-2.4zM530.57 52.2h2.4v2.4h-2.4zM541.7 52.2h2.4v2.4h-2.4zM552.82 52.2h2.4v2.4h-2.4zM557.27 52.2h2.4v2.4h-2.4zM572.85 52.2h2.4v2.4h-2.4zM575.07 52.2h2.4v2.4h-2.4zM577.3 52.2h2.4v2.4h-2.4zM581.75 52.2h2.4v2.4h-2.4zM583.98 52.2h2.4v2.4h-2.4zM588.42 52.2h2.4v2.4h-2.4zM599.55 52.2h2.4v2.4h-2.4zM479.4 81.12h2.4v2.4h-2.4zM490.53 81.12h2.4v2.4h-2.4zM494.98 81.12h2.4v2.4h-2.4zM497.2 81.12h2.4v2.4h-2.4zM499.43 81.12h2.4v2.4h-2.4zM501.65 81.12h2.4v2.4h-2.4zM506.1 81.12h2.4v2.4h-2.4zM606.23 81.12h2.4v2.4h-2.4zM612.9 81.12h2.4v2.4h-2.4zM615.12 81.12h2.4v2.4h-2.4zM617.35 81.12h2.4v2.4h-2.4zM619.57 81.12h2.4v2.4h-2.4zM621.8 81.12h2.4v2.4h-2.4zM632.92 81.12h2.4v2.4h-2.4zM461.6 67.78h2.4v2.4h-2.4zM470.5 67.78h2.4v2.4h-2.4zM472.73 67.78h2.4v2.4h-2.4zM477.18 67.78h2.4v2.4h-2.4zM479.4 67.78h2.4v2.4h-2.4zM481.63 67.78h2.4v2.4h-2.4zM492.75 67.78h2.4v2.4h-2.4zM510.55 67.78h2.4v2.4h-2.4zM512.77 67.78h2.4v2.4h-2.4zM528.35 67.78h2.4v2.4h-2.4zM583.98 67.78h2.4v2.4h-2.4zM592.88 67.78h2.4v2.4h-2.4zM599.55 67.78h2.4v2.4h-2.4zM601.77 67.78h2.4v2.4h-2.4zM481.63 78.9h2.4v2.4h-2.4zM486.08 78.9h2.4v2.4h-2.4zM488.3 78.9h2.4v2.4h-2.4zM492.75 78.9h2.4v2.4h-2.4zM494.98 78.9h2.4v2.4h-2.4zM497.2 78.9h2.4v2.4h-2.4zM499.43 78.9h2.4v2.4h-2.4zM501.65 78.9h2.4v2.4h-2.4zM503.88 78.9h2.4v2.4h-2.4zM510.55 78.9h2.4v2.4h-2.4zM601.77 78.9h2.4v2.4h-2.4zM608.45 78.9h2.4v2.4h-2.4zM610.67 78.9h2.4v2.4h-2.4zM612.9 78.9h2.4v2.4h-2.4zM615.12 78.9h2.4v2.4h-2.4zM619.57 78.9h2.4v2.4h-2.4zM621.8 78.9h2.4v2.4h-2.4zM635.15 78.9h2.4v2.4h-2.4zM459.38 70h2.4v2.4h-2.4zM468.28 70h2.4v2.4h-2.4zM470.5 70h2.4v2.4h-2.4zM474.95 70h2.4v2.4h-2.4zM477.18 70h2.4v2.4h-2.4zM479.4 70h2.4v2.4h-2.4zM481.63 70h2.4v2.4h-2.4zM483.85 70h2.4v2.4h-2.4zM486.08 70h2.4v2.4h-2.4zM490.53 70h2.4v2.4h-2.4zM494.98 70h2.4v2.4h-2.4zM501.65 70h2.4v2.4h-2.4zM510.55 70h2.4v2.4h-2.4zM512.77 70h2.4v2.4h-2.4zM519.45 70h2.4v2.4h-2.4zM599.55 70h2.4v2.4h-2.4zM601.77 70h2.4v2.4h-2.4zM617.35 70h2.4v2.4h-2.4zM628.48 105.6h2.4v2.4h-2.4zM641.82 105.6h2.4v2.4h-2.4zM644.05 105.6h2.4v2.4h-2.4zM646.27 105.6h2.4v2.4h-2.4zM648.5 105.6h2.4v2.4h-2.4zM652.95 105.6h2.4v2.4h-2.4zM655.17 105.6h2.4v2.4h-2.4zM657.4 105.6h2.4v2.4h-2.4zM659.62 105.6h2.4v2.4h-2.4zM661.85 105.6h2.4v2.4h-2.4zM664.07 105.6h2.4v2.4h-2.4zM668.52 105.6h2.4v2.4h-2.4zM670.75 105.6h2.4v2.4h-2.4zM672.98 105.6h2.4v2.4h-2.4zM675.2 105.6h2.4v2.4h-2.4zM679.65 105.6h2.4v2.4h-2.4zM681.88 105.6h2.4v2.4h-2.4zM686.32 105.6h2.4v2.4h-2.4zM697.45 105.6h2.4v2.4h-2.4zM457.15 45.52h2.4v2.4h-2.4zM463.83 45.52h2.4v2.4h-2.4zM523.9 45.52h2.4v2.4h-2.4zM532.8 45.52h2.4v2.4h-2.4zM535.02 45.52h2.4v2.4h-2.4zM539.48 45.52h2.4v2.4h-2.4zM541.7 45.52h2.4v2.4h-2.4zM546.15 45.52h2.4v2.4h-2.4zM548.38 45.52h2.4v2.4h-2.4zM552.82 45.52h2.4v2.4h-2.4zM559.5 45.52h2.4v2.4h-2.4zM561.73 45.52h2.4v2.4h-2.4zM563.95 45.52h2.4v2.4h-2.4zM566.17 45.52h2.4v2.4h-2.4zM568.4 45.52h2.4v2.4h-2.4zM570.62 45.52h2.4v2.4h-2.4zM575.07 45.52h2.4v2.4h-2.4zM581.75 45.52h2.4v2.4h-2.4zM532.8 36.62h2.4v2.4h-2.4zM543.92 36.62h2.4v2.4h-2.4zM548.38 36.62h2.4v2.4h-2.4zM550.6 36.62h2.4v2.4h-2.4zM555.05 36.62h2.4v2.4h-2.4zM557.27 36.62h2.4v2.4h-2.4zM561.73 36.62h2.4v2.4h-2.4zM572.85 36.62h2.4v2.4h-2.4zM468.28 72.22h2.4v2.4h-2.4zM481.63 72.22h2.4v2.4h-2.4zM483.85 72.22h2.4v2.4h-2.4zM486.08 72.22h2.4v2.4h-2.4zM488.3 72.22h2.4v2.4h-2.4zM492.75 72.22h2.4v2.4h-2.4zM497.2 72.22h2.4v2.4h-2.4zM499.43 72.22h2.4v2.4h-2.4zM503.88 72.22h2.4v2.4h-2.4zM508.33 72.22h2.4v2.4h-2.4zM510.55 72.22h2.4v2.4h-2.4zM515 72.22h2.4v2.4h-2.4zM517.23 72.22h2.4v2.4h-2.4zM597.32 72.22h2.4v2.4h-2.4zM601.77 72.22h2.4v2.4h-2.4zM604 72.22h2.4v2.4h-2.4zM608.45 72.22h2.4v2.4h-2.4zM615.12 72.22h2.4v2.4h-2.4zM483.85 74.45h2.4v2.4h-2.4zM486.08 74.45h2.4v2.4h-2.4zM488.3 74.45h2.4v2.4h-2.4zM490.53 74.45h2.4v2.4h-2.4zM494.98 74.45h2.4v2.4h-2.4zM497.2 74.45h2.4v2.4h-2.4zM499.43 74.45h2.4v2.4h-2.4zM501.65 74.45h2.4v2.4h-2.4zM506.1 74.45h2.4v2.4h-2.4zM508.33 74.45h2.4v2.4h-2.4zM515 74.45h2.4v2.4h-2.4zM517.23 74.45h2.4v2.4h-2.4zM595.1 74.45h2.4v2.4h-2.4zM604 74.45h2.4v2.4h-2.4zM606.23 74.45h2.4v2.4h-2.4zM610.67 74.45h2.4v2.4h-2.4zM612.9 74.45h2.4v2.4h-2.4zM626.25 74.45h2.4v2.4h-2.4zM635.15 98.92h2.4v2.4h-2.4zM637.38 98.92h2.4v2.4h-2.4zM639.6 98.92h2.4v2.4h-2.4zM641.82 98.92h2.4v2.4h-2.4zM646.27 98.92h2.4v2.4h-2.4zM648.5 98.92h2.4v2.4h-2.4zM652.95 98.92h2.4v2.4h-2.4zM657.4 98.92h2.4v2.4h-2.4zM659.62 98.92h2.4v2.4h-2.4zM668.52 98.92h2.4v2.4h-2.4zM530.57 34.4h2.4v2.4h-2.4zM546.15 34.4h2.4v2.4h-2.4zM548.38 34.4h2.4v2.4h-2.4zM563.95 34.4h2.4v2.4h-2.4zM459.38 47.75h2.4v2.4h-2.4zM461.6 47.75h2.4v2.4h-2.4zM526.12 47.75h2.4v2.4h-2.4zM532.8 47.75h2.4v2.4h-2.4zM535.02 47.75h2.4v2.4h-2.4zM543.92 47.75h2.4v2.4h-2.4zM546.15 47.75h2.4v2.4h-2.4zM548.38 47.75h2.4v2.4h-2.4zM550.6 47.75h2.4v2.4h-2.4zM557.27 47.75h2.4v2.4h-2.4zM561.73 47.75h2.4v2.4h-2.4zM563.95 47.75h2.4v2.4h-2.4zM568.4 47.75h2.4v2.4h-2.4zM570.62 47.75h2.4v2.4h-2.4zM577.3 47.75h2.4v2.4h-2.4zM579.52 47.75h2.4v2.4h-2.4zM621.8 92.25h2.4v2.4h-2.4zM624.02 92.25h2.4v2.4h-2.4zM630.7 92.25h2.4v2.4h-2.4zM632.92 92.25h2.4v2.4h-2.4zM641.82 92.25h2.4v2.4h-2.4zM637.38 110.05h2.4v2.4h-2.4zM648.5 110.05h2.4v2.4h-2.4zM652.95 110.05h2.4v2.4h-2.4zM655.17 110.05h2.4v2.4h-2.4zM657.4 110.05h2.4v2.4h-2.4zM659.62 110.05h2.4v2.4h-2.4zM661.85 110.05h2.4v2.4h-2.4zM666.3 110.05h2.4v2.4h-2.4zM668.52 110.05h2.4v2.4h-2.4zM670.75 110.05h2.4v2.4h-2.4zM672.98 110.05h2.4v2.4h-2.4zM675.2 110.05h2.4v2.4h-2.4zM677.42 110.05h2.4v2.4h-2.4zM679.65 110.05h2.4v2.4h-2.4zM681.88 110.05h2.4v2.4h-2.4zM686.32 110.05h2.4v2.4h-2.4zM688.55 110.05h2.4v2.4h-2.4zM693 110.05h2.4v2.4h-2.4zM452.7 41.07h2.4v2.4h-2.4zM468.28 41.07h2.4v2.4h-2.4zM537.25 41.07h2.4v2.4h-2.4zM539.48 41.07h2.4v2.4h-2.4zM541.7 41.07h2.4v2.4h-2.4zM543.92 41.07h2.4v2.4h-2.4zM550.6 41.07h2.4v2.4h-2.4zM552.82 41.07h2.4v2.4h-2.4zM555.05 41.07h2.4v2.4h-2.4zM557.27 41.07h2.4v2.4h-2.4zM561.73 41.07h2.4v2.4h-2.4zM563.95 41.07h2.4v2.4h-2.4zM568.4 41.07h2.4v2.4h-2.4zM483.85 76.67h2.4v2.4h-2.4zM486.08 76.67h2.4v2.4h-2.4zM488.3 76.67h2.4v2.4h-2.4zM490.53 76.67h2.4v2.4h-2.4zM492.75 76.67h2.4v2.4h-2.4zM494.98 76.67h2.4v2.4h-2.4zM497.2 76.67h2.4v2.4h-2.4zM499.43 76.67h2.4v2.4h-2.4zM501.65 76.67h2.4v2.4h-2.4zM503.88 76.67h2.4v2.4h-2.4zM506.1 76.67h2.4v2.4h-2.4zM508.33 76.67h2.4v2.4h-2.4zM512.77 76.67h2.4v2.4h-2.4zM519.45 76.67h2.4v2.4h-2.4zM592.88 76.67h2.4v2.4h-2.4zM604 76.67h2.4v2.4h-2.4zM606.23 76.67h2.4v2.4h-2.4zM608.45 76.67h2.4v2.4h-2.4zM610.67 76.67h2.4v2.4h-2.4zM612.9 76.67h2.4v2.4h-2.4zM617.35 76.67h2.4v2.4h-2.4zM624.02 76.67h2.4v2.4h-2.4zM619.57 94.47h2.4v2.4h-2.4zM626.25 94.47h2.4v2.4h-2.4zM628.48 94.47h2.4v2.4h-2.4zM632.92 94.47h2.4v2.4h-2.4zM635.15 94.47h2.4v2.4h-2.4zM637.38 94.47h2.4v2.4h-2.4zM639.6 94.47h2.4v2.4h-2.4zM644.05 94.47h2.4v2.4h-2.4zM652.95 94.47h2.4v2.4h-2.4zM454.93 63.33h2.4v2.4h-2.4zM466.05 63.33h2.4v2.4h-2.4zM468.28 63.33h2.4v2.4h-2.4zM474.95 63.33h2.4v2.4h-2.4zM477.18 63.33h2.4v2.4h-2.4zM483.85 63.33h2.4v2.4h-2.4zM506.1 63.33h2.4v2.4h-2.4zM517.23 63.33h2.4v2.4h-2.4zM521.67 63.33h2.4v2.4h-2.4zM523.9 63.33h2.4v2.4h-2.4zM528.35 63.33h2.4v2.4h-2.4zM577.3 63.33h2.4v2.4h-2.4zM583.98 63.33h2.4v2.4h-2.4zM588.42 63.33h2.4v2.4h-2.4zM590.65 63.33h2.4v2.4h-2.4zM595.1 63.33h2.4v2.4h-2.4zM597.32 63.33h2.4v2.4h-2.4zM606.23 63.33h2.4v2.4h-2.4zM666.3 114.5h2.4v2.4h-2.4zM677.42 114.5h2.4v2.4h-2.4zM684.1 114.5h2.4v2.4h-2.4zM686.32 114.5h2.4v2.4h-2.4zM688.55 114.5h2.4v2.4h-2.4zM690.77 114.5h2.4v2.4h-2.4zM693 114.5h2.4v2.4h-2.4zM695.23 114.5h2.4v2.4h-2.4zM699.67 114.5h2.4v2.4h-2.4zM704.12 114.5h2.4v2.4h-2.4zM706.35 114.5h2.4v2.4h-2.4zM708.57 114.5h2.4v2.4h-2.4zM715.25 114.5h2.4v2.4h-2.4zM717.48 114.5h2.4v2.4h-2.4zM724.15 114.5h2.4v2.4h-2.4zM733.05 114.5h2.4v2.4h-2.4zM639.6 107.83h2.4v2.4h-2.4zM650.73 107.83h2.4v2.4h-2.4zM657.4 107.83h2.4v2.4h-2.4zM659.62 107.83h2.4v2.4h-2.4zM666.3 107.83h2.4v2.4h-2.4zM668.52 107.83h2.4v2.4h-2.4zM670.75 107.83h2.4v2.4h-2.4zM672.98 107.83h2.4v2.4h-2.4zM675.2 107.83h2.4v2.4h-2.4zM677.42 107.83h2.4v2.4h-2.4zM684.1 107.83h2.4v2.4h-2.4zM695.23 107.83h2.4v2.4h-2.4zM632.92 101.15h2.4v2.4h-2.4zM637.38 101.15h2.4v2.4h-2.4zM639.6 101.15h2.4v2.4h-2.4zM644.05 101.15h2.4v2.4h-2.4zM646.27 101.15h2.4v2.4h-2.4zM648.5 101.15h2.4v2.4h-2.4zM650.73 101.15h2.4v2.4h-2.4zM657.4 101.15h2.4v2.4h-2.4zM659.62 101.15h2.4v2.4h-2.4zM664.07 101.15h2.4v2.4h-2.4zM666.3 101.15h2.4v2.4h-2.4zM679.65 101.15h2.4v2.4h-2.4zM452.7 56.65h2.4v2.4h-2.4zM459.38 56.65h2.4v2.4h-2.4zM461.6 56.65h2.4v2.4h-2.4zM468.28 56.65h2.4v2.4h-2.4zM472.73 56.65h2.4v2.4h-2.4zM483.85 56.65h2.4v2.4h-2.4zM517.23 56.65h2.4v2.4h-2.4zM521.67 56.65h2.4v2.4h-2.4zM523.9 56.65h2.4v2.4h-2.4zM528.35 56.65h2.4v2.4h-2.4zM535.02 56.65h2.4v2.4h-2.4zM570.62 56.65h2.4v2.4h-2.4zM577.3 56.65h2.4v2.4h-2.4zM581.75 56.65h2.4v2.4h-2.4zM583.98 56.65h2.4v2.4h-2.4zM588.42 56.65h2.4v2.4h-2.4zM590.65 56.65h2.4v2.4h-2.4zM595.1 56.65h2.4v2.4h-2.4zM690.77 127.85h2.4v2.4h-2.4zM701.9 127.85h2.4v2.4h-2.4zM706.35 127.85h2.4v2.4h-2.4zM710.8 127.85h2.4v2.4h-2.4zM713.02 127.85h2.4v2.4h-2.4zM717.48 127.85h2.4v2.4h-2.4zM719.7 127.85h2.4v2.4h-2.4zM721.92 127.85h2.4v2.4h-2.4zM724.15 127.85h2.4v2.4h-2.4zM730.82 127.85h2.4v2.4h-2.4zM635.15 96.7h2.4v2.4h-2.4zM637.38 96.7h2.4v2.4h-2.4zM639.6 96.7h2.4v2.4h-2.4zM641.82 96.7h2.4v2.4h-2.4zM646.27 96.7h2.4v2.4h-2.4zM650.73 96.7h2.4v2.4h-2.4zM655.17 96.7h2.4v2.4h-2.4zM661.85 96.7h2.4v2.4h-2.4zM670.75 96.7h2.4v2.4h-2.4zM612.9 87.8h2.4v2.4h-2.4zM619.57 87.8h2.4v2.4h-2.4zM624.02 87.8h2.4v2.4h-2.4zM626.25 87.8h2.4v2.4h-2.4zM628.48 87.8h2.4v2.4h-2.4zM635.15 87.8h2.4v2.4h-2.4zM681.88 121.17h2.4v2.4h-2.4zM697.45 121.17h2.4v2.4h-2.4zM699.67 121.17h2.4v2.4h-2.4zM706.35 121.17h2.4v2.4h-2.4zM708.57 121.17h2.4v2.4h-2.4zM715.25 121.17h2.4v2.4h-2.4zM717.48 121.17h2.4v2.4h-2.4zM724.15 121.17h2.4v2.4h-2.4zM726.38 121.17h2.4v2.4h-2.4zM728.6 121.17h2.4v2.4h-2.4zM730.82 121.17h2.4v2.4h-2.4zM535.02 38.85h2.4v2.4h-2.4zM539.48 38.85h2.4v2.4h-2.4zM541.7 38.85h2.4v2.4h-2.4zM546.15 38.85h2.4v2.4h-2.4zM550.6 38.85h2.4v2.4h-2.4zM552.82 38.85h2.4v2.4h-2.4zM555.05 38.85h2.4v2.4h-2.4zM559.5 38.85h2.4v2.4h-2.4zM570.62 38.85h2.4v2.4h-2.4zM454.93 54.42h2.4v2.4h-2.4zM457.15 54.42h2.4v2.4h-2.4zM459.38 54.42h2.4v2.4h-2.4zM463.83 54.42h2.4v2.4h-2.4zM466.05 54.42h2.4v2.4h-2.4zM474.95 54.42h2.4v2.4h-2.4zM515 54.42h2.4v2.4h-2.4zM526.12 54.42h2.4v2.4h-2.4zM532.8 54.42h2.4v2.4h-2.4zM539.48 54.42h2.4v2.4h-2.4zM555.05 54.42h2.4v2.4h-2.4zM572.85 54.42h2.4v2.4h-2.4zM575.07 54.42h2.4v2.4h-2.4zM579.52 54.42h2.4v2.4h-2.4zM586.2 54.42h2.4v2.4h-2.4zM597.32 54.42h2.4v2.4h-2.4zM454.93 43.3h2.4v2.4h-2.4zM466.05 43.3h2.4v2.4h-2.4zM521.67 43.3h2.4v2.4h-2.4zM530.57 43.3h2.4v2.4h-2.4zM537.25 43.3h2.4v2.4h-2.4zM539.48 43.3h2.4v2.4h-2.4zM541.7 43.3h2.4v2.4h-2.4zM543.92 43.3h2.4v2.4h-2.4zM548.38 43.3h2.4v2.4h-2.4zM550.6 43.3h2.4v2.4h-2.4zM555.05 43.3h2.4v2.4h-2.4zM557.27 43.3h2.4v2.4h-2.4zM559.5 43.3h2.4v2.4h-2.4zM561.73 43.3h2.4v2.4h-2.4zM563.95 43.3h2.4v2.4h-2.4zM566.17 43.3h2.4v2.4h-2.4zM572.85 43.3h2.4v2.4h-2.4zM699.67 130.08h2.4v2.4h-2.4zM708.57 130.08h2.4v2.4h-2.4zM715.25 130.08h2.4v2.4h-2.4zM717.48 130.08h2.4v2.4h-2.4zM724.15 130.08h2.4v2.4h-2.4zM733.05 130.08h2.4v2.4h-2.4z"/>
<path d="M112.28 279.15h2.4v2.4h-2.4zM118.95 279.15h2.4v2.4h-2.4zM121.17 279.15h2.4v2.4h-2.4zM123.4 279.15h2.4v2.4h-2.4zM125.62 279.15h2.4v2.4h-2.4zM127.85 279.15h2.4v2.4h-2.4zM130.08 279.15h2.4v2.4h-2.4zM132.3 279.15h2.4v2.4h-2.4zM134.53 279.15h2.4v2.4h-2.4zM141.2 279.15h2.4v2.4h-2.4zM143.43 279.15h2.4v2.4h-2.4zM145.65 279.15h2.4v2.4h-2.4zM147.88 279.15h2.4v2.4h-2.4zM150.1 279.15h2.4v2.4h-2.4zM152.33 279.15h2.4v2.4h-2.4zM159 279.15h2.4v2.4h-2.4zM161.23 279.15h2.4v2.4h-2.4zM165.68 279.15h2.4v2.4h-2.4zM167.9 279.15h2.4v2.4h-2.4zM170.13 279.15h2.4v2.4h-2.4zM172.35 279.15h2.4v2.4h-2.4zM176.8 279.15h2.4v2.4h-2.4zM179.03 279.15h2.4v2.4h-2.4zM181.25 279.15h2.4v2.4h-2.4zM183.48 279.15h2.4v2.4h-2.4zM185.7 279.15h2.4v2.4h-2.4zM187.93 279.15h2.4v2.4h-2.4zM190.15 279.15h2.4v2.4h-2.4zM192.38 279.15h2.4v2.4h-2.4zM194.6 279.15h2.4v2.4h-2.4zM196.83 279.15h2.4v2.4h-2.4zM203.5 279.15h2.4v2.4h-2.4zM205.73 279.15h2.4v2.4h-2.4zM207.95 279.15h2.4v2.4h-2.4zM210.18 279.15h2.4v2.4h-2.4zM214.63 279.15h2.4v2.4h-2.4zM216.85 279.15h2.4v2.4h-2.4zM221.3 279.15h2.4v2.4h-2.4zM223.53 279.15h2.4v2.4h-2.4zM230.2 279.15h2.4v2.4h-2.4zM232.43 279.15h2.4v2.4h-2.4zM234.65 279.15h2.4v2.4h-2.4zM239.1 279.15h2.4v2.4h-2.4zM243.55 279.15h2.4v2.4h-2.4zM245.78 279.15h2.4v2.4h-2.4zM252.45 279.15h2.4v2.4h-2.4zM254.68 279.15h2.4v2.4h-2.4zM259.12 279.15h2.4v2.4h-2.4zM263.58 279.15h2.4v2.4h-2.4zM268.03 279.15h2.4v2.4h-2.4zM274.7 279.15h2.4v2.4h-2.4zM283.6 279.15h2.4v2.4h-2.4zM232.43 292.5h2.4v2.4h-2.4zM241.33 292.5h2.4v2.4h-2.4zM248 292.5h2.4v2.4h-2.4zM250.23 292.5h2.4v2.4h-2.4zM256.9 292.5h2.4v2.4h-2.4zM261.35 292.5h2.4v2.4h-2.4zM265.8 292.5h2.4v2.4h-2.4zM270.25 292.5h2.4v2.4h-2.4zM272.48 292.5h2.4v2.4h-2.4zM276.93 292.5h2.4v2.4h-2.4zM281.38 292.5h2.4v2.4h-2.4zM283.6 292.5h2.4v2.4h-2.4zM285.83 292.5h2.4v2.4h-2.4zM290.28 292.5h2.4v2.4h-2.4zM292.5 292.5h2.4v2.4h-2.4zM296.95 292.5h2.4v2.4h-2.4zM299.18 292.5h2.4v2.4h-2.4zM305.85 292.5h2.4v2.4h-2.4zM308.08 292.5h2.4v2.4h-2.4zM310.3 292.5h2.4v2.4h-2.4zM312.53 292.5h2.4v2.4h-2.4zM314.75 292.5h2.4v2.4h-2.4zM316.98 292.5h2.4v2.4h-2.4zM319.2 292.5h2.4v2.4h-2.4zM321.43 292.5h2.4v2.4h-2.4zM328.1 292.5h2.4v2.4h-2.4zM330.33 292.5h2.4v2.4h-2.4zM337 292.5h2.4v2.4h-2.4zM339.23 292.5h2.4v2.4h-2.4zM341.45 292.5h2.4v2.4h-2.4zM343.68 292.5h2.4v2.4h-2.4zM350.35 292.5h2.4v2.4h-2.4zM352.58 292.5h2.4v2.4h-2.4zM357.03 292.5h2.4v2.4h-2.4zM359.25 292.5h2.4v2.4h-2.4zM363.7 292.5h2.4v2.4h-2.4zM370.38 292.5h2.4v2.4h-2.4zM377.05 292.5h2.4v2.4h-2.4zM110.05 281.38h2.4v2.4h-2.4zM116.73 281.38h2.4v2.4h-2.4zM121.17 281.38h2.4v2.4h-2.4zM123.4 281.38h2.4v2.4h-2.4zM127.85 281.38h2.4v2.4h-2.4zM130.08 281.38h2.4v2.4h-2.4zM132.3 281.38h2.4v2.4h-2.4zM134.53 281.38h2.4v2.4h-2.4zM136.75 281.38h2.4v2.4h-2.4zM138.98 281.38h2.4v2.4h-2.4zM141.2 281.38h2.4v2.4h-2.4zM143.43 281.38h2.4v2.4h-2.4zM150.1 281.38h2.4v2.4h-2.4zM152.33 281.38h2.4v2.4h-2.4zM154.55 281.38h2.4v2.4h-2.4zM156.78 281.38h2.4v2.4h-2.4zM159 281.38h2.4v2.4h-2.4zM161.23 281.38h2.4v2.4h-2.4zM163.45 281.38h2.4v2.4h-2.4zM165.68 281.38h2.4v2.4h-2.4zM167.9 281.38h2.4v2.4h-2.4zM170.13 281.38h2.4v2.4h-2.4zM172.35 281.38h2.4v2.4h-2.4zM174.58 281.38h2.4v2.4h-2.4zM176.8 281.38h2.4v2.4h-2.4zM179.03 281.38h2.4v2.4h-2.4zM181.25 281.38h2.4v2.4h-2.4zM183.48 281.38h2.4v2.4h-2.4zM185.7 281.38h2.4v2.4h-2.4zM187.93 281.38h2.4v2.4h-2.4zM190.15 281.38h2.4v2.4h-2.4zM192.38 281.38h2.4v2.4h-2.4zM194.6 281.38h2.4v2.4h-2.4zM196.83 281.38h2.4v2.4h-2.4zM199.05 281.38h2.4v2.4h-2.4zM201.28 281.38h2.4v2.4h-2.4zM203.5 281.38h2.4v2.4h-2.4zM205.73 281.38h2.4v2.4h-2.4zM207.95 281.38h2.4v2.4h-2.4zM210.18 281.38h2.4v2.4h-2.4zM212.4 281.38h2.4v2.4h-2.4zM214.63 281.38h2.4v2.4h-2.4zM216.85 281.38h2.4v2.4h-2.4zM219.08 281.38h2.4v2.4h-2.4zM221.3 281.38h2.4v2.4h-2.4zM223.53 281.38h2.4v2.4h-2.4zM230.2 281.38h2.4v2.4h-2.4zM232.43 281.38h2.4v2.4h-2.4zM234.65 281.38h2.4v2.4h-2.4zM236.88 281.38h2.4v2.4h-2.4zM243.55 281.38h2.4v2.4h-2.4zM245.78 281.38h2.4v2.4h-2.4zM250.23 281.38h2.4v2.4h-2.4zM252.45 281.38h2.4v2.4h-2.4zM254.68 281.38h2.4v2.4h-2.4zM256.9 281.38h2.4v2.4h-2.4zM261.35 281.38h2.4v2.4h-2.4zM270.25 281.38h2.4v2.4h-2.4zM272.48 281.38h2.4v2.4h-2.4zM281.38 281.38h2.4v2.4h-2.4zM285.83 281.38h2.4v2.4h-2.4zM294.73 281.38h2.4v2.4h-2.4zM301.4 281.38h2.4v2.4h-2.4zM310.3 281.38h2.4v2.4h-2.4zM92.25 259.12h2.4v2.4h-2.4zM101.15 259.12h2.4v2.4h-2.4zM103.38 259.12h2.4v2.4h-2.4zM107.83 259.12h2.4v2.4h-2.4zM112.28 259.12h2.4v2.4h-2.4zM125.62 288.05h2.4v2.4h-2.4zM134.53 288.05h2.4v2.4h-2.4zM141.2 288.05h2.4v2.4h-2.4zM143.43 288.05h2.4v2.4h-2.4zM150.1 288.05h2.4v2.4h-2.4zM152.33 288.05h2.4v2.4h-2.4zM159 288.05h2.4v2.4h-2.4zM163.45 288.05h2.4v2.4h-2.4zM167.9 288.05h2.4v2.4h-2.4zM170.13 288.05h2.4v2.4h-2.4zM174.58 288.05h2.4v2.4h-2.4zM179.03 288.05h2.4v2.4h-2.4zM185.7 288.05h2.4v2.4h-2.4zM187.93 288.05h2.4v2.4h-2.4zM194.6 288.05h2.4v2.4h-2.4zM196.83 288.05h2.4v2.4h-2.4zM203.5 288.05h2.4v2.4h-2.4zM207.95 288.05h2.4v2.4h-2.4zM212.4 288.05h2.4v2.4h-2.4zM214.63 288.05h2.4v2.4h-2.4zM219.08 288.05h2.4v2.4h-2.4zM223.53 288.05h2.4v2.4h-2.4zM230.2 288.05h2.4v2.4h-2.4zM236.88 288.05h2.4v2.4h-2.4zM239.1 288.05h2.4v2.4h-2.4zM243.55 288.05h2.4v2.4h-2.4zM245.78 288.05h2.4v2.4h-2.4zM250.23 288.05h2.4v2.4h-2.4zM252.45 288.05h2.4v2.4h-2.4zM254.68 288.05h2.4v2.4h-2.4zM256.9 288.05h2.4v2.4h-2.4zM261.35 288.05h2.4v2.4h-2.4zM263.58 288.05h2.4v2.4h-2.4zM265.8 288.05h2.4v2.4h-2.4zM268.03 288.05h2.4v2.4h-2.4zM270.25 288.05h2.4v2.4h-2.4zM272.48 288.05h2.4v2.4h-2.4zM274.7 288.05h2.4v2.4h-2.4zM276.93 288.05h2.4v2.4h-2.4zM279.15 288.05h2.4v2.4h-2.4zM281.38 288.05h2.4v2.4h-2.4zM288.05 288.05h2.4v2.4h-2.4zM290.28 288.05h2.4v2.4h-2.4zM292.5 288.05h2.4v2.4h-2.4zM294.73 288.05h2.4v2.4h-2.4zM301.4 288.05h2.4v2.4h-2.4zM303.62 288.05h2.4v2.4h-2.4zM308.08 288.05h2.4v2.4h-2.4zM310.3 288.05h2.4v2.4h-2.4zM314.75 288.05h2.4v2.4h-2.4zM323.65 288.05h2.4v2.4h-2.4zM325.88 288.05h2.4v2.4h-2.4zM332.55 288.05h2.4v2.4h-2.4zM334.78 288.05h2.4v2.4h-2.4zM339.23 288.05h2.4v2.4h-2.4zM343.68 288.05h2.4v2.4h-2.4zM348.12 288.05h2.4v2.4h-2.4zM354.8 288.05h2.4v2.4h-2.4zM363.7 288.05h2.4v2.4h-2.4zM365.93 288.05h2.4v2.4h-2.4zM381.5 288.05h2.4v2.4h-2.4zM259.12 294.73h2.4v2.4h-2.4zM268.03 294.73h2.4v2.4h-2.4zM274.7 294.73h2.4v2.4h-2.4zM281.38 294.73h2.4v2.4h-2.4zM283.6 294.73h2.4v2.4h-2.4zM288.05 294.73h2.4v2.4h-2.4zM294.73 294.73h2.4v2.4h-2.4zM296.95 294.73h2.4v2.4h-2.4zM299.18 294.73h2.4v2.4h-2.4zM301.4 294.73h2.4v2.4h-2.4zM303.62 294.73h2.4v2.4h-2.4zM308.08 294.73h2.4v2.4h-2.4zM310.3 294.73h2.4v2.4h-2.4zM314.75 294.73h2.4v2.4h-2.4zM316.98 294.73h2.4v2.4h-2.4zM319.2 294.73h2.4v2.4h-2.4zM321.43 294.73h2.4v2.4h-2.4zM323.65 294.73h2.4v2.4h-2.4zM325.88 294.73h2.4v2.4h-2.4zM328.1 294.73h2.4v2.4h-2.4zM330.33 294.73h2.4v2.4h-2.4zM332.55 294.73h2.4v2.4h-2.4zM334.78 294.73h2.4v2.4h-2.4zM337 294.73h2.4v2.4h-2.4zM339.23 294.73h2.4v2.4h-2.4zM341.45 294.73h2.4v2.4h-2.4zM343.68 294.73h2.4v2.4h-2.4zM345.9 294.73h2.4v2.4h-2.4zM348.12 294.73h2.4v2.4h-2.4zM354.8 294.73h2.4v2.4h-2.4zM357.03 294.73h2.4v2.4h-2.4zM359.25 294.73h2.4v2.4h-2.4zM361.48 294.73h2.4v2.4h-2.4zM365.93 294.73h2.4v2.4h-2.4zM368.15 294.73h2.4v2.4h-2.4zM372.6 294.73h2.4v2.4h-2.4zM374.83 294.73h2.4v2.4h-2.4zM116.73 285.83h2.4v2.4h-2.4zM127.85 285.83h2.4v2.4h-2.4zM132.3 285.83h2.4v2.4h-2.4zM134.53 285.83h2.4v2.4h-2.4zM136.75 285.83h2.4v2.4h-2.4zM138.98 285.83h2.4v2.4h-2.4zM141.2 285.83h2.4v2.4h-2.4zM145.65 285.83h2.4v2.4h-2.4zM147.88 285.83h2.4v2.4h-2.4zM152.33 285.83h2.4v2.4h-2.4zM154.55 285.83h2.4v2.4h-2.4zM156.78 285.83h2.4v2.4h-2.4zM159 285.83h2.4v2.4h-2.4zM161.23 285.83h2.4v2.4h-2.4zM165.68 285.83h2.4v2.4h-2.4zM167.9 285.83h2.4v2.4h-2.4zM170.13 285.83h2.4v2.4h-2.4zM172.35 285.83h2.4v2.4h-2.4zM176.8 285.83h2.4v2.4h-2.4zM181.25 285.83h2.4v2.4h-2.4zM183.48 285.83h2.4v2.4h-2.4zM190.15 285.83h2.4v2.4h-2.4zM192.38 285.83h2.4v2.4h-2.4zM196.83 285.83h2.4v2.4h-2.4zM199.05 285.83h2.4v2.4h-2.4zM201.28 285.83h2.4v2.4h-2.4zM203.5 285.83h2.4v2.4h-2.4zM210.18 285.83h2.4v2.4h-2.4zM214.63 285.83h2.4v2.4h-2.4zM216.85 285.83h2.4v2.4h-2.4zM221.3 285.83h2.4v2.4h-2.4zM225.75 285.83h2.4v2.4h-2.4zM227.98 285.83h2.4v2.4h-2.4zM232.43 285.83h2.4v2.4h-2.4zM236.88 285.83h2.4v2.4h-2.4zM239.1 285.83h2.4v2.4h-2.4zM241.33 285.83h2.4v2.4h-2.4zM243.55 285.83h2.4v2.4h-2.4zM245.78 285.83h2.4v2.4h-2.4zM248 285.83h2.4v2.4h-2.4zM250.23 285.83h2.4v2.4h-2.4zM252.45 285.83h2.4v2.4h-2.4zM254.68 285.83h2.4v2.4h-2.4zM256.9 285.83h2.4v2.4h-2.4zM259.12 285.83h2.4v2.4h-2.4zM261.35 285.83h2.4v2.4h-2.4zM263.58 285.83h2.4v2.4h-2.4zM265.8 285.83h2.4v2.4h-2.4zM268.03 285.83h2.4v2.4h-2.4zM270.25 285.83h2.4v2.4h-2.4zM272.48 285.83h2.4v2.4h-2.4zM274.7 285.83h2.4v2.4h-2.4zM276.93 285.83h2.4v2.4h-2.4zM279.15 285.83h2.4v2.4h-2.4zM283.6 285.83h2.4v2.4h-2.4zM285.83 285.83h2.4v2.4h-2.4zM290.28 285.83h2.4v2.4h-2.4zM292.5 285.83h2.4v2.4h-2.4zM296.95 285.83h2.4v2.4h-2.4zM299.18 285.83h2.4v2.4h-2.4zM305.85 285.83h2.4v2.4h-2.4zM312.53 285.83h2.4v2.4h-2.4zM316.98 285.83h2.4v2.4h-2.4zM321.43 285.83h2.4v2.4h-2.4zM328.1 285.83h2.4v2.4h-2.4zM330.33 285.83h2.4v2.4h-2.4zM337 285.83h2.4v2.4h-2.4zM345.9 285.83h2.4v2.4h-2.4zM98.92 261.35h2.4v2.4h-2.4zM103.38 261.35h2.4v2.4h-2.4zM105.6 261.35h2.4v2.4h-2.4zM110.05 261.35h2.4v2.4h-2.4zM161.23 290.28h2.4v2.4h-2.4zM176.8 290.28h2.4v2.4h-2.4zM205.73 290.28h2.4v2.4h-2.4zM221.3 290.28h2.4v2.4h-2.4zM234.65 290.28h2.4v2.4h-2.4zM241.33 290.28h2.4v2.4h-2.4zM243.55 290.28h2.4v2.4h-2.4zM245.78 290.28h2.4v2.4h-2.4zM248 290.28h2.4v2.4h-2.4zM252.45 290.28h2.4v2.4h-2.4zM254.68 290.28h2.4v2.4h-2.4zM259.12 290.28h2.4v2.4h-2.4zM263.58 290.28h2.4v2.4h-2.4zM265.8 290.28h2.4v2.4h-2.4zM268.03 290.28h2.4v2.4h-2.4zM270.25 290.28h2.4v2.4h-2.4zM272.48 290.28h2.4v2.4h-2.4zM274.7 290.28h2.4v2.4h-2.4zM279.15 290.28h2.4v2.4h-2.4zM281.38 290.28h2.4v2.4h-2.4zM283.6 290.28h2.4v2.4h-2.4zM285.83 290.28h2.4v2.4h-2.4zM288.05 290.28h2.4v2.4h-2.4zM290.28 290.28h2.4v2.4h-2.4zM292.5 290.28h2.4v2.4h-2.4zM294.73 290.28h2.4v2.4h-2.4zM296.95 290.28h2.4v2.4h-2.4zM299.18 290.28h2.4v2.4h-2.4zM301.4 290.28h2.4v2.4h-2.4zM303.62 290.28h2.4v2.4h-2.4zM305.85 290.28h2.4v2.4h-2.4zM308.08 290.28h2.4v2.4h-2.4zM310.3 290.28h2.4v2.4h-2.4zM312.53 290.28h2.4v2.4h-2.4zM316.98 290.28h2.4v2.4h-2.4zM319.2 290.28h2.4v2.4h-2.4zM323.65 290.28h2.4v2.4h-2.4zM325.88 290.28h2.4v2.4h-2.4zM332.55 290.28h2.4v2.4h-2.4zM334.78 290.28h2.4v2.4h-2.4zM339.23 290.28h2.4v2.4h-2.4zM341.45 290.28h2.4v2.4h-2.4zM345.9 290.28h2.4v2.4h-2.4zM350.35 290.28h2.4v2.4h-2.4zM352.58 290.28h2.4v2.4h-2.4zM357.03 290.28h2.4v2.4h-2.4zM361.48 290.28h2.4v2.4h-2.4zM368.15 290.28h2.4v2.4h-2.4zM372.6 290.28h2.4v2.4h-2.4zM379.28 290.28h2.4v2.4h-2.4zM279.15 296.95h2.4v2.4h-2.4zM285.83 296.95h2.4v2.4h-2.4zM290.28 296.95h2.4v2.4h-2.4zM294.73 296.95h2.4v2.4h-2.4zM301.4 296.95h2.4v2.4h-2.4zM305.85 296.95h2.4v2.4h-2.4zM310.3 296.95h2.4v2.4h-2.4zM312.53 296.95h2.4v2.4h-2.4zM316.98 296.95h2.4v2.4h-2.4zM319.2 296.95h2.4v2.4h-2.4zM323.65 296.95h2.4v2.4h-2.4zM325.88 296.95h2.4v2.4h-2.4zM332.55 296.95h2.4v2.4h-2.4zM334.78 296.95h2.4v2.4h-2.4zM339.23 296.95h2.4v2.4h-2.4zM341.45 296.95h2.4v2.4h-2.4zM345.9 296.95h2.4v2.4h-2.4zM348.12 296.95h2.4v2.4h-2.4zM350.35 296.95h2.4v2.4h-2.4zM352.58 296.95h2.4v2.4h-2.4zM354.8 296.95h2.4v2.4h-2.4zM357.03 296.95h2.4v2.4h-2.4zM359.25 296.95h2.4v2.4h-2.4zM361.48 296.95h2.4v2.4h-2.4zM363.7 296.95h2.4v2.4h-2.4zM365.93 296.95h2.4v2.4h-2.4zM368.15 296.95h2.4v2.4h-2.4zM370.38 296.95h2.4v2.4h-2.4zM372.6 296.95h2.4v2.4h-2.4zM374.83 296.95h2.4v2.4h-2.4zM107.83 283.6h2.4v2.4h-2.4zM118.95 283.6h2.4v2.4h-2.4zM123.4 283.6h2.4v2.4h-2.4zM125.62 283.6h2.4v2.4h-2.4zM130.08 283.6h2.4v2.4h-2.4zM132.3 283.6h2.4v2.4h-2.4zM136.75 283.6h2.4v2.4h-2.4zM138.98 283.6h2.4v2.4h-2.4zM145.65 283.6h2.4v2.4h-2.4zM147.88 283.6h2.4v2.4h-2.4zM154.55 283.6h2.4v2.4h-2.4zM156.78 283.6h2.4v2.4h-2.4zM163.45 283.6h2.4v2.4h-2.4zM165.68 283.6h2.4v2.4h-2.4zM167.9 283.6h2.4v2.4h-2.4zM170.13 283.6h2.4v2.4h-2.4zM172.35 283.6h2.4v2.4h-2.4zM174.58 283.6h2.4v2.4h-2.4zM179.03 283.6h2.4v2.4h-2.4zM181.25 283.6h2.4v2.4h-2.4zM183.48 283.6h2.4v2.4h-2.4zM185.7 283.6h2.4v2.4h-2.4zM187.93 283.6h2.4v2.4h-2.4zM190.15 283.6h2.4v2.4h-2.4zM192.38 283.6h2.4v2.4h-2.4zM194.6 283.6h2.4v2.4h-2.4zM199.05 283.6h2.4v2.4h-2.4zM201.28 283.6h2.4v2.4h-2.4zM205.73 283.6h2.4v2.4h-2.4zM207.95 283.6h2.4v2.4h-2.4zM212.4 283.6h2.4v2.4h-2.4zM214.63 283.6h2.4v2.4h-2.4zM216.85 283.6h2.4v2.4h-2.4zM219.08 283.6h2.4v2.4h-2.4zM225.75 283.6h2.4v2.4h-2.4zM227.98 283.6h2.4v2.4h-2.4zM234.65 283.6h2.4v2.4h-2.4zM236.88 283.6h2.4v2.4h-2.4zM239.1 283.6h2.4v2.4h-2.4zM241.33 283.6h2.4v2.4h-2.4zM248 283.6h2.4v2.4h-2.4zM250.23 283.6h2.4v2.4h-2.4zM252.45 283.6h2.4v2.4h-2.4zM254.68 283.6h2.4v2.4h-2.4zM256.9 283.6h2.4v2.4h-2.4zM259.12 283.6h2.4v2.4h-2.4zM263.58 283.6h2.4v2.4h-2.4zM265.8 283.6h2.4v2.4h-2.4zM268.03 283.6h2.4v2.4h-2.4zM270.25 283.6h2.4v2.4h-2.4zM272.48 283.6h2.4v2.4h-2.4zM274.7 283.6h2.4v2.4h-2.4zM276.93 283.6h2.4v2.4h-2.4zM279.15 283.6h2.4v2.4h-2.4zM288.05 283.6h2.4v2.4h-2.4zM292.5 283.6h2.4v2.4h-2.4zM296.95 283.6h2.4v2.4h-2.4zM299.18 283.6h2.4v2.4h-2.4zM303.62 283.6h2.4v2.4h-2.4zM308.08 283.6h2.4v2.4h-2.4zM319.2 283.6h2.4v2.4h-2.4zM107.83 274.7h2.4v2.4h-2.4zM114.5 274.7h2.4v2.4h-2.4zM116.73 274.7h2.4v2.4h-2.4zM121.17 274.7h2.4v2.4h-2.4zM123.4 274.7h2.4v2.4h-2.4zM127.85 274.7h2.4v2.4h-2.4zM136.75 274.7h2.4v2.4h-2.4zM138.98 274.7h2.4v2.4h-2.4zM143.43 274.7h2.4v2.4h-2.4zM145.65 274.7h2.4v2.4h-2.4zM147.88 274.7h2.4v2.4h-2.4zM150.1 274.7h2.4v2.4h-2.4zM154.55 274.7h2.4v2.4h-2.4zM156.78 274.7h2.4v2.4h-2.4zM161.23 274.7h2.4v2.4h-2.4zM165.68 274.7h2.4v2.4h-2.4zM172.35 274.7h2.4v2.4h-2.4zM176.8 274.7h2.4v2.4h-2.4zM181.25 274.7h2.4v2.4h-2.4zM183.48 274.7h2.4v2.4h-2.4zM190.15 274.7h2.4v2.4h-2.4zM192.38 274.7h2.4v2.4h-2.4zM199.05 274.7h2.4v2.4h-2.4zM201.28 274.7h2.4v2.4h-2.4zM205.73 274.7h2.4v2.4h-2.4zM210.18 274.7h2.4v2.4h-2.4zM216.85 274.7h2.4v2.4h-2.4zM221.3 274.7h2.4v2.4h-2.4zM225.75 274.7h2.4v2.4h-2.4zM227.98 274.7h2.4v2.4h-2.4zM236.88 274.7h2.4v2.4h-2.4zM98.92 272.48h2.4v2.4h-2.4zM110.05 272.48h2.4v2.4h-2.4zM112.28 272.48h2.4v2.4h-2.4zM114.5 272.48h2.4v2.4h-2.4zM118.95 272.48h2.4v2.4h-2.4zM125.62 272.48h2.4v2.4h-2.4zM130.08 272.48h2.4v2.4h-2.4zM134.53 272.48h2.4v2.4h-2.4zM141.2 272.48h2.4v2.4h-2.4zM143.43 272.48h2.4v2.4h-2.4zM150.1 272.48h2.4v2.4h-2.4zM152.33 272.48h2.4v2.4h-2.4zM159 272.48h2.4v2.4h-2.4zM167.9 272.48h2.4v2.4h-2.4zM170.13 272.48h2.4v2.4h-2.4zM179.03 272.48h2.4v2.4h-2.4zM185.7 272.48h2.4v2.4h-2.4zM187.93 272.48h2.4v2.4h-2.4zM194.6 272.48h2.4v2.4h-2.4zM196.83 272.48h2.4v2.4h-2.4zM203.5 272.48h2.4v2.4h-2.4zM212.4 272.48h2.4v2.4h-2.4zM214.63 272.48h2.4v2.4h-2.4zM223.53 272.48h2.4v2.4h-2.4zM230.2 272.48h2.4v2.4h-2.4zM239.1 272.48h2.4v2.4h-2.4zM114.5 276.93h2.4v2.4h-2.4zM116.73 276.93h2.4v2.4h-2.4zM118.95 276.93h2.4v2.4h-2.4zM121.17 276.93h2.4v2.4h-2.4zM123.4 276.93h2.4v2.4h-2.4zM125.62 276.93h2.4v2.4h-2.4zM130.08 276.93h2.4v2.4h-2.4zM132.3 276.93h2.4v2.4h-2.4zM136.75 276.93h2.4v2.4h-2.4zM138.98 276.93h2.4v2.4h-2.4zM145.65 276.93h2.4v2.4h-2.4zM147.88 276.93h2.4v2.4h-2.4zM154.55 276.93h2.4v2.4h-2.4zM156.78 276.93h2.4v2.4h-2.4zM163.45 276.93h2.4v2.4h-2.4zM174.58 276.93h2.4v2.4h-2.4zM179.03 276.93h2.4v2.4h-2.4zM181.25 276.93h2.4v2.4h-2.4zM183.48 276.93h2.4v2.4h-2.4zM185.7 276.93h2.4v2.4h-2.4zM187.93 276.93h2.4v2.4h-2.4zM190.15 276.93h2.4v2.4h-2.4zM192.38 276.93h2.4v2.4h-2.4zM194.6 276.93h2.4v2.4h-2.4zM199.05 276.93h2.4v2.4h-2.4zM201.28 276.93h2.4v2.4h-2.4zM205.73 276.93h2.4v2.4h-2.4zM207.95 276.93h2.4v2.4h-2.4zM212.4 276.93h2.4v2.4h-2.4zM219.08 276.93h2.4v2.4h-2.4zM225.75 276.93h2.4v2.4h-2.4zM227.98 276.93h2.4v2.4h-2.4zM232.43 276.93h2.4v2.4h-2.4zM234.65 276.93h2.4v2.4h-2.4zM241.33 276.93h2.4v2.4h-2.4zM248 276.93h2.4v2.4h-2.4zM250.23 276.93h2.4v2.4h-2.4zM256.9 276.93h2.4v2.4h-2.4zM265.8 276.93h2.4v2.4h-2.4zM312.53 301.4h2.4v2.4h-2.4zM321.43 301.4h2.4v2.4h-2.4zM328.1 301.4h2.4v2.4h-2.4zM330.33 301.4h2.4v2.4h-2.4zM337 301.4h2.4v2.4h-2.4zM341.45 301.4h2.4v2.4h-2.4zM345.9 301.4h2.4v2.4h-2.4zM348.12 301.4h2.4v2.4h-2.4zM350.35 301.4h2.4v2.4h-2.4zM352.58 301.4h2.4v2.4h-2.4zM354.8 301.4h2.4v2.4h-2.4zM361.48 301.4h2.4v2.4h-2.4zM365.93 301.4h2.4v2.4h-2.4zM368.15 301.4h2.4v2.4h-2.4zM372.6 301.4h2.4v2.4h-2.4zM379.28 301.4h2.4v2.4h-2.4zM94.47 256.9h2.4v2.4h-2.4zM98.92 256.9h2.4v2.4h-2.4zM101.15 256.9h2.4v2.4h-2.4zM103.38 256.9h2.4v2.4h-2.4zM105.6 256.9h2.4v2.4h-2.4zM114.5 256.9h2.4v2.4h-2.4zM103.38 268.03h2.4v2.4h-2.4zM107.83 268.03h2.4v2.4h-2.4zM110.05 268.03h2.4v2.4h-2.4zM114.5 268.03h2.4v2.4h-2.4zM123.4 268.03h2.4v2.4h-2.4zM92.25 250.23h2.4v2.4h-2.4zM94.47 250.23h2.4v2.4h-2.4zM98.92 250.23h2.4v2.4h-2.4zM101.15 250.23h2.4v2.4h-2.4zM107.83 250.23h2.4v2.4h-2.4zM110.05 250.23h2.4v2.4h-2.4zM101.15 270.25h2.4v2.4h-2.4zM110.05 270.25h2.4v2.4h-2.4zM112.28 270.25h2.4v2.4h-2.4zM116.73 270.25h2.4v2.4h-2.4zM121.17 270.25h2.4v2.4h-2.4zM132.3 270.25h2.4v2.4h-2.4zM276.93 299.18h2.4v2.4h-2.4zM292.5 299.18h2.4v2.4h-2.4zM303.62 299.18h2.4v2.4h-2.4zM314.75 299.18h2.4v2.4h-2.4zM319.2 299.18h2.4v2.4h-2.4zM321.43 299.18h2.4v2.4h-2.4zM323.65 299.18h2.4v2.4h-2.4zM325.88 299.18h2.4v2.4h-2.4zM328.1 299.18h2.4v2.4h-2.4zM330.33 299.18h2.4v2.4h-2.4zM332.55 299.18h2.4v2.4h-2.4zM334.78 299.18h2.4v2.4h-2.4zM337 299.18h2.4v2.4h-2.4zM343.68 299.18h2.4v2.4h-2.4zM350.35 299.18h2.4v2.4h-2.4zM352.58 299.18h2.4v2.4h-2.4zM357.03 299.18h2.4v2.4h-2.4zM359.25 299.18h2.4v2.4h-2.4zM363.7 299.18h2.4v2.4h-2.4zM365.93 299.18h2.4v2.4h-2.4zM368.15 299.18h2.4v2.4h-2.4zM370.38 299.18h2.4v2.4h-2.4zM377.05 299.18h2.4v2.4h-2.4zM92.25 243.55h2.4v2.4h-2.4zM98.92 243.55h2.4v2.4h-2.4zM101.15 243.55h2.4v2.4h-2.4zM107.83 243.55h2.4v2.4h-2.4zM96.7 252.45h2.4v2.4h-2.4zM98.92 252.45h2.4v2.4h-2.4zM101.15 252.45h2.4v2.4h-2.4zM107.83 252.45h2.4v2.4h-2.4zM94.47 265.8h2.4v2.4h-2.4zM105.6 265.8h2.4v2.4h-2.4zM107.83 265.8h2.4v2.4h-2.4zM110.05 265.8h2.4v2.4h-2.4zM339.23 303.62h2.4v2.4h-2.4zM348.12 303.62h2.4v2.4h-2.4zM354.8 303.62h2.4v2.4h-2.4zM359.25 303.62h2.4v2.4h-2.4zM363.7 303.62h2.4v2.4h-2.4zM365.93 303.62h2.4v2.4h-2.4zM370.38 303.62h2.4v2.4h-2.4zM381.5 303.62h2.4v2.4h-2.4zM98.92 241.33h2.4v2.4h-2.4zM101.15 241.33h2.4v2.4h-2.4zM92.25 234.65h2.4v2.4h-2.4zM107.83 234.65h2.4v2.4h-2.4zM96.7 263.58h2.4v2.4h-2.4zM105.6 263.58h2.4v2.4h-2.4zM107.83 263.58h2.4v2.4h-2.4zM94.47 248h2.4v2.4h-2.4zM96.7 248h2.4v2.4h-2.4zM103.38 248h2.4v2.4h-2.4zM105.6 248h2.4v2.4h-2.4zM94.47 245.78h2.4v2.4h-2.4zM96.7 245.78h2.4v2.4h-2.4zM103.38 245.78h2.4v2.4h-2.4zM105.6 245.78h2.4v2.4h-2.4zM96.7 254.68h2.4v2.4h-2.4zM98.92 254.68h2.4v2.4h-2.4zM103.38 254.68h2.4v2.4h-2.4zM105.6 254.68h2.4v2.4h-2.4zM357.03 305.85h2.4v2.4h-2.4zM372.6 305.85h2.4v2.4h-2.4zM94.47 236.88h2.4v2.4h-2.4zM105.6 236.88h2.4v2.4h-2.4zM96.7 239.1h2.4v2.4h-2.4zM103.38 239.1h2.4v2.4h-2.4z"/>
<path d="M646.27 303.62h2.4v2.4h-2.4zM657.4 303.62h2.4v2.4h-2.4zM661.85 303.62h2.4v2.4h-2.4zM668.52 303.62h2.4v2.4h-2.4zM675.2 303.62h2.4v2.4h-2.4zM677.42 303.62h2.4v2.4h-2.4zM684.1 303.62h2.4v2.4h-2.4zM688.55 303.62h2.4v2.4h-2.4zM690.77 303.62h2.4v2.4h-2.4zM697.45 303.62h2.4v2.4h-2.4zM699.67 303.62h2.4v2.4h-2.4zM706.35 303.62h2.4v2.4h-2.4zM708.57 303.62h2.4v2.4h-2.4zM715.25 303.62h2.4v2.4h-2.4zM717.48 303.62h2.4v2.4h-2.4zM724.15 303.62h2.4v2.4h-2.4zM726.38 303.62h2.4v2.4h-2.4zM610.67 294.73h2.4v2.4h-2.4zM619.57 294.73h2.4v2.4h-2.4zM626.25 294.73h2.4v2.4h-2.4zM632.92 294.73h2.4v2.4h-2.4zM635.15 294.73h2.4v2.4h-2.4zM639.6 294.73h2.4v2.4h-2.4zM644.05 294.73h2.4v2.4h-2.4zM646.27 294.73h2.4v2.4h-2.4zM652.95 294.73h2.4v2.4h-2.4zM655.17 294.73h2.4v2.4h-2.4zM659.62 294.73h2.4v2.4h-2.4zM666.3 294.73h2.4v2.4h-2.4zM675.2 294.73h2.4v2.4h-2.4zM677.42 294.73h2.4v2.4h-2.4zM681.88 294.73h2.4v2.4h-2.4zM686.32 294.73h2.4v2.4h-2.4zM690.77 294.73h2.4v2.4h-2.4zM697.45 294.73h2.4v2.4h-2.4zM699.67 294.73h2.4v2.4h-2.4zM706.35 294.73h2.4v2.4h-2.4zM708.57 294.73h2.4v2.4h-2.4zM715.25 294.73h2.4v2.4h-2.4zM724.15 294.73h2.4v2.4h-2.4zM477.18 279.15h2.4v2.4h-2.4zM492.75 279.15h2.4v2.4h-2.4zM494.98 279.15h2.4v2.4h-2.4zM497.2 279.15h2.4v2.4h-2.4zM506.1 279.15h2.4v2.4h-2.4zM508.33 279.15h2.4v2.4h-2.4zM517.23 279.15h2.4v2.4h-2.4zM523.9 279.15h2.4v2.4h-2.4zM528.35 279.15h2.4v2.4h-2.4zM530.57 279.15h2.4v2.4h-2.4zM532.8 279.15h2.4v2.4h-2.4zM539.48 279.15h2.4v2.4h-2.4zM543.92 279.15h2.4v2.4h-2.4zM548.38 279.15h2.4v2.4h-2.4zM555.05 279.15h2.4v2.4h-2.4zM563.95 279.15h2.4v2.4h-2.4zM577.3 279.15h2.4v2.4h-2.4zM588.42 279.15h2.4v2.4h-2.4zM595.1 279.15h2.4v2.4h-2.4zM599.55 279.15h2.4v2.4h-2.4zM601.77 279.15h2.4v2.4h-2.4zM604 279.15h2.4v2.4h-2.4zM610.67 279.15h2.4v2.4h-2.4zM615.12 279.15h2.4v2.4h-2.4zM619.57 279.15h2.4v2.4h-2.4zM626.25 279.15h2.4v2.4h-2.4zM635.15 279.15h2.4v2.4h-2.4zM472.73 270.25h2.4v2.4h-2.4zM479.4 270.25h2.4v2.4h-2.4zM483.85 270.25h2.4v2.4h-2.4zM486.08 270.25h2.4v2.4h-2.4zM501.65 270.25h2.4v2.4h-2.4zM521.67 270.25h2.4v2.4h-2.4zM535.02 270.25h2.4v2.4h-2.4zM537.25 270.25h2.4v2.4h-2.4zM541.7 270.25h2.4v2.4h-2.4zM546.15 270.25h2.4v2.4h-2.4zM548.38 270.25h2.4v2.4h-2.4zM555.05 270.25h2.4v2.4h-2.4zM557.27 270.25h2.4v2.4h-2.4zM563.95 270.25h2.4v2.4h-2.4zM566.17 270.25h2.4v2.4h-2.4zM572.85 270.25h2.4v2.4h-2.4zM575.07 270.25h2.4v2.4h-2.4zM579.52 270.25h2.4v2.4h-2.4zM586.2 270.25h2.4v2.4h-2.4zM597.32 270.25h2.4v2.4h-2.4zM497.2 290.28h2.4v2.4h-2.4zM506.1 290.28h2.4v2.4h-2.4zM508.33 290.28h2.4v2.4h-2.4zM512.77 290.28h2.4v2.4h-2.4zM517.23 290.28h2.4v2.4h-2.4zM528.35 290.28h2.4v2.4h-2.4zM604 290.28h2.4v2.4h-2.4zM615.12 290.28h2.4v2.4h-2.4zM621.8 290.28h2.4v2.4h-2.4zM624.02 290.28h2.4v2.4h-2.4zM630.7 290.28h2.4v2.4h-2.4zM635.15 290.28h2.4v2.4h-2.4zM637.38 290.28h2.4v2.4h-2.4zM641.82 290.28h2.4v2.4h-2.4zM648.5 290.28h2.4v2.4h-2.4zM655.17 290.28h2.4v2.4h-2.4zM659.62 290.28h2.4v2.4h-2.4zM670.75 290.28h2.4v2.4h-2.4zM630.7 296.95h2.4v2.4h-2.4zM641.82 296.95h2.4v2.4h-2.4zM648.5 296.95h2.4v2.4h-2.4zM652.95 296.95h2.4v2.4h-2.4zM655.17 296.95h2.4v2.4h-2.4zM661.85 296.95h2.4v2.4h-2.4zM664.07 296.95h2.4v2.4h-2.4zM668.52 296.95h2.4v2.4h-2.4zM675.2 296.95h2.4v2.4h-2.4zM677.42 296.95h2.4v2.4h-2.4zM684.1 296.95h2.4v2.4h-2.4zM693 296.95h2.4v2.4h-2.4zM695.23 296.95h2.4v2.4h-2.4zM701.9 296.95h2.4v2.4h-2.4zM704.12 296.95h2.4v2.4h-2.4zM710.8 296.95h2.4v2.4h-2.4zM713.02 296.95h2.4v2.4h-2.4zM717.48 296.95h2.4v2.4h-2.4zM721.92 296.95h2.4v2.4h-2.4zM733.05 296.95h2.4v2.4h-2.4zM470.5 272.48h2.4v2.4h-2.4zM481.63 272.48h2.4v2.4h-2.4zM483.85 272.48h2.4v2.4h-2.4zM486.08 272.48h2.4v2.4h-2.4zM488.3 272.48h2.4v2.4h-2.4zM499.43 272.48h2.4v2.4h-2.4zM523.9 272.48h2.4v2.4h-2.4zM535.02 272.48h2.4v2.4h-2.4zM537.25 272.48h2.4v2.4h-2.4zM539.48 272.48h2.4v2.4h-2.4zM546.15 272.48h2.4v2.4h-2.4zM548.38 272.48h2.4v2.4h-2.4zM555.05 272.48h2.4v2.4h-2.4zM557.27 272.48h2.4v2.4h-2.4zM561.73 272.48h2.4v2.4h-2.4zM568.4 272.48h2.4v2.4h-2.4zM570.62 272.48h2.4v2.4h-2.4zM577.3 272.48h2.4v2.4h-2.4zM581.75 272.48h2.4v2.4h-2.4zM583.98 272.48h2.4v2.4h-2.4zM588.42 272.48h2.4v2.4h-2.4zM592.88 272.48h2.4v2.4h-2.4zM595.1 272.48h2.4v2.4h-2.4zM608.45 272.48h2.4v2.4h-2.4zM468.28 274.7h2.4v2.4h-2.4zM481.63 274.7h2.4v2.4h-2.4zM483.85 274.7h2.4v2.4h-2.4zM488.3 274.7h2.4v2.4h-2.4zM490.53 274.7h2.4v2.4h-2.4zM497.2 274.7h2.4v2.4h-2.4zM512.77 274.7h2.4v2.4h-2.4zM526.12 274.7h2.4v2.4h-2.4zM528.35 274.7h2.4v2.4h-2.4zM532.8 274.7h2.4v2.4h-2.4zM537.25 274.7h2.4v2.4h-2.4zM539.48 274.7h2.4v2.4h-2.4zM543.92 274.7h2.4v2.4h-2.4zM550.6 274.7h2.4v2.4h-2.4zM552.82 274.7h2.4v2.4h-2.4zM559.5 274.7h2.4v2.4h-2.4zM568.4 274.7h2.4v2.4h-2.4zM570.62 274.7h2.4v2.4h-2.4zM579.52 274.7h2.4v2.4h-2.4zM581.75 274.7h2.4v2.4h-2.4zM583.98 274.7h2.4v2.4h-2.4zM590.65 274.7h2.4v2.4h-2.4zM592.88 274.7h2.4v2.4h-2.4zM595.1 274.7h2.4v2.4h-2.4zM606.23 274.7h2.4v2.4h-2.4zM664.07 308.08h2.4v2.4h-2.4zM672.98 308.08h2.4v2.4h-2.4zM679.65 308.08h2.4v2.4h-2.4zM684.1 308.08h2.4v2.4h-2.4zM688.55 308.08h2.4v2.4h-2.4zM693 308.08h2.4v2.4h-2.4zM695.23 308.08h2.4v2.4h-2.4zM701.9 308.08h2.4v2.4h-2.4zM704.12 308.08h2.4v2.4h-2.4zM710.8 308.08h2.4v2.4h-2.4zM713.02 308.08h2.4v2.4h-2.4zM721.92 308.08h2.4v2.4h-2.4zM728.6 308.08h2.4v2.4h-2.4zM490.53 281.38h2.4v2.4h-2.4zM497.2 281.38h2.4v2.4h-2.4zM499.43 281.38h2.4v2.4h-2.4zM506.1 281.38h2.4v2.4h-2.4zM508.33 281.38h2.4v2.4h-2.4zM515 281.38h2.4v2.4h-2.4zM519.45 281.38h2.4v2.4h-2.4zM521.67 281.38h2.4v2.4h-2.4zM526.12 281.38h2.4v2.4h-2.4zM530.57 281.38h2.4v2.4h-2.4zM532.8 281.38h2.4v2.4h-2.4zM546.15 281.38h2.4v2.4h-2.4zM575.07 281.38h2.4v2.4h-2.4zM586.2 281.38h2.4v2.4h-2.4zM590.65 281.38h2.4v2.4h-2.4zM597.32 281.38h2.4v2.4h-2.4zM599.55 281.38h2.4v2.4h-2.4zM601.77 281.38h2.4v2.4h-2.4zM606.23 281.38h2.4v2.4h-2.4zM612.9 281.38h2.4v2.4h-2.4zM621.8 281.38h2.4v2.4h-2.4zM624.02 281.38h2.4v2.4h-2.4zM632.92 281.38h2.4v2.4h-2.4zM457.15 250.23h2.4v2.4h-2.4zM459.38 250.23h2.4v2.4h-2.4zM468.28 250.23h2.4v2.4h-2.4zM474.95 250.23h2.4v2.4h-2.4zM494.98 292.5h2.4v2.4h-2.4zM503.88 292.5h2.4v2.4h-2.4zM510.55 292.5h2.4v2.4h-2.4zM519.45 292.5h2.4v2.4h-2.4zM601.77 292.5h2.4v2.4h-2.4zM612.9 292.5h2.4v2.4h-2.4zM617.35 292.5h2.4v2.4h-2.4zM621.8 292.5h2.4v2.4h-2.4zM624.02 292.5h2.4v2.4h-2.4zM632.92 292.5h2.4v2.4h-2.4zM635.15 292.5h2.4v2.4h-2.4zM637.38 292.5h2.4v2.4h-2.4zM644.05 292.5h2.4v2.4h-2.4zM646.27 292.5h2.4v2.4h-2.4zM650.73 292.5h2.4v2.4h-2.4zM657.4 292.5h2.4v2.4h-2.4zM664.07 292.5h2.4v2.4h-2.4zM668.52 292.5h2.4v2.4h-2.4zM672.98 292.5h2.4v2.4h-2.4zM679.65 292.5h2.4v2.4h-2.4zM688.55 292.5h2.4v2.4h-2.4zM479.4 276.93h2.4v2.4h-2.4zM490.53 276.93h2.4v2.4h-2.4zM492.75 276.93h2.4v2.4h-2.4zM494.98 276.93h2.4v2.4h-2.4zM503.88 276.93h2.4v2.4h-2.4zM510.55 276.93h2.4v2.4h-2.4zM515 276.93h2.4v2.4h-2.4zM519.45 276.93h2.4v2.4h-2.4zM526.12 276.93h2.4v2.4h-2.4zM528.35 276.93h2.4v2.4h-2.4zM530.57 276.93h2.4v2.4h-2.4zM535.02 276.93h2.4v2.4h-2.4zM541.7 276.93h2.4v2.4h-2.4zM550.6 276.93h2.4v2.4h-2.4zM552.82 276.93h2.4v2.4h-2.4zM557.27 276.93h2.4v2.4h-2.4zM561.73 276.93h2.4v2.4h-2.4zM566.17 276.93h2.4v2.4h-2.4zM572.85 276.93h2.4v2.4h-2.4zM579.52 276.93h2.4v2.4h-2.4zM581.75 276.93h2.4v2.4h-2.4zM586.2 276.93h2.4v2.4h-2.4zM590.65 276.93h2.4v2.4h-2.4zM592.88 276.93h2.4v2.4h-2.4zM597.32 276.93h2.4v2.4h-2.4zM601.77 276.93h2.4v2.4h-2.4zM604 276.93h2.4v2.4h-2.4zM617.35 276.93h2.4v2.4h-2.4zM474.95 268.03h2.4v2.4h-2.4zM477.18 268.03h2.4v2.4h-2.4zM481.63 268.03h2.4v2.4h-2.4zM488.3 268.03h2.4v2.4h-2.4zM532.8 268.03h2.4v2.4h-2.4zM543.92 268.03h2.4v2.4h-2.4zM550.6 268.03h2.4v2.4h-2.4zM552.82 268.03h2.4v2.4h-2.4zM559.5 268.03h2.4v2.4h-2.4zM563.95 268.03h2.4v2.4h-2.4zM566.17 268.03h2.4v2.4h-2.4zM572.85 268.03h2.4v2.4h-2.4zM575.07 268.03h2.4v2.4h-2.4zM577.3 268.03h2.4v2.4h-2.4zM583.98 268.03h2.4v2.4h-2.4zM588.42 268.03h2.4v2.4h-2.4zM599.55 268.03h2.4v2.4h-2.4zM461.6 245.78h2.4v2.4h-2.4zM463.83 245.78h2.4v2.4h-2.4zM681.88 310.3h2.4v2.4h-2.4zM690.77 310.3h2.4v2.4h-2.4zM697.45 310.3h2.4v2.4h-2.4zM699.67 310.3h2.4v2.4h-2.4zM706.35 310.3h2.4v2.4h-2.4zM708.57 310.3h2.4v2.4h-2.4zM715.25 310.3h2.4v2.4h-2.4zM719.7 310.3h2.4v2.4h-2.4zM724.15 310.3h2.4v2.4h-2.4zM730.82 310.3h2.4v2.4h-2.4zM637.38 301.4h2.4v2.4h-2.4zM648.5 301.4h2.4v2.4h-2.4zM652.95 301.4h2.4v2.4h-2.4zM659.62 301.4h2.4v2.4h-2.4zM666.3 301.4h2.4v2.4h-2.4zM670.75 301.4h2.4v2.4h-2.4zM672.98 301.4h2.4v2.4h-2.4zM679.65 301.4h2.4v2.4h-2.4zM681.88 301.4h2.4v2.4h-2.4zM688.55 301.4h2.4v2.4h-2.4zM690.77 301.4h2.4v2.4h-2.4zM697.45 301.4h2.4v2.4h-2.4zM699.67 301.4h2.4v2.4h-2.4zM706.35 301.4h2.4v2.4h-2.4zM708.57 301.4h2.4v2.4h-2.4zM715.25 301.4h2.4v2.4h-2.4zM717.48 301.4h2.4v2.4h-2.4zM721.92 301.4h2.4v2.4h-2.4zM728.6 301.4h2.4v2.4h-2.4zM655.17 305.85h2.4v2.4h-2.4zM666.3 305.85h2.4v2.4h-2.4zM670.75 305.85h2.4v2.4h-2.4zM675.2 305.85h2.4v2.4h-2.4zM677.42 305.85h2.4v2.4h-2.4zM686.32 305.85h2.4v2.4h-2.4zM693 305.85h2.4v2.4h-2.4zM695.23 305.85h2.4v2.4h-2.4zM701.9 305.85h2.4v2.4h-2.4zM704.12 305.85h2.4v2.4h-2.4zM710.8 305.85h2.4v2.4h-2.4zM713.02 305.85h2.4v2.4h-2.4zM719.7 305.85h2.4v2.4h-2.4zM724.15 305.85h2.4v2.4h-2.4zM726.38 305.85h2.4v2.4h-2.4zM717.48 312.53h2.4v2.4h-2.4zM733.05 312.53h2.4v2.4h-2.4zM499.43 288.05h2.4v2.4h-2.4zM506.1 288.05h2.4v2.4h-2.4zM508.33 288.05h2.4v2.4h-2.4zM515 288.05h2.4v2.4h-2.4zM526.12 288.05h2.4v2.4h-2.4zM592.88 288.05h2.4v2.4h-2.4zM606.23 288.05h2.4v2.4h-2.4zM608.45 288.05h2.4v2.4h-2.4zM612.9 288.05h2.4v2.4h-2.4zM617.35 288.05h2.4v2.4h-2.4zM619.57 288.05h2.4v2.4h-2.4zM626.25 288.05h2.4v2.4h-2.4zM628.48 288.05h2.4v2.4h-2.4zM632.92 288.05h2.4v2.4h-2.4zM639.6 288.05h2.4v2.4h-2.4zM646.27 288.05h2.4v2.4h-2.4zM650.73 288.05h2.4v2.4h-2.4zM661.85 288.05h2.4v2.4h-2.4zM488.3 283.6h2.4v2.4h-2.4zM499.43 283.6h2.4v2.4h-2.4zM501.65 283.6h2.4v2.4h-2.4zM503.88 283.6h2.4v2.4h-2.4zM510.55 283.6h2.4v2.4h-2.4zM512.77 283.6h2.4v2.4h-2.4zM519.45 283.6h2.4v2.4h-2.4zM521.67 283.6h2.4v2.4h-2.4zM523.9 283.6h2.4v2.4h-2.4zM535.02 283.6h2.4v2.4h-2.4zM583.98 283.6h2.4v2.4h-2.4zM597.32 283.6h2.4v2.4h-2.4zM599.55 283.6h2.4v2.4h-2.4zM604 283.6h2.4v2.4h-2.4zM608.45 283.6h2.4v2.4h-2.4zM610.67 283.6h2.4v2.4h-2.4zM615.12 283.6h2.4v2.4h-2.4zM621.8 283.6h2.4v2.4h-2.4zM624.02 283.6h2.4v2.4h-2.4zM628.48 283.6h2.4v2.4h-2.4zM630.7 283.6h2.4v2.4h-2.4zM644.05 283.6h2.4v2.4h-2.4zM463.83 254.68h2.4v2.4h-2.4zM470.5 254.68h2.4v2.4h-2.4zM486.08 285.83h2.4v2.4h-2.4zM501.65 285.83h2.4v2.4h-2.4zM503.88 285.83h2.4v2.4h-2.4zM510.55 285.83h2.4v2.4h-2.4zM512.77 285.83h2.4v2.4h-2.4zM517.23 285.83h2.4v2.4h-2.4zM521.67 285.83h2.4v2.4h-2.4zM523.9 285.83h2.4v2.4h-2.4zM537.25 285.83h2.4v2.4h-2.4zM595.1 285.83h2.4v2.4h-2.4zM606.23 285.83h2.4v2.4h-2.4zM608.45 285.83h2.4v2.4h-2.4zM610.67 285.83h2.4v2.4h-2.4zM617.35 285.83h2.4v2.4h-2.4zM619.57 285.83h2.4v2.4h-2.4zM626.25 285.83h2.4v2.4h-2.4zM628.48 285.83h2.4v2.4h-2.4zM630.7 285.83h2.4v2.4h-2.4zM637.38 285.83h2.4v2.4h-2.4zM641.82 285.83h2.4v2.4h-2.4zM652.95 285.83h2.4v2.4h-2.4zM461.6 263.58h2.4v2.4h-2.4zM472.73 263.58h2.4v2.4h-2.4zM477.18 263.58h2.4v2.4h-2.4zM479.4 263.58h2.4v2.4h-2.4zM492.75 263.58h2.4v2.4h-2.4zM539.48 263.58h2.4v2.4h-2.4zM548.38 263.58h2.4v2.4h-2.4zM555.05 263.58h2.4v2.4h-2.4zM559.5 263.58h2.4v2.4h-2.4zM563.95 263.58h2.4v2.4h-2.4zM568.4 263.58h2.4v2.4h-2.4zM570.62 263.58h2.4v2.4h-2.4zM579.52 263.58h2.4v2.4h-2.4zM461.6 243.55h2.4v2.4h-2.4zM463.83 243.55h2.4v2.4h-2.4zM628.48 299.18h2.4v2.4h-2.4zM639.6 299.18h2.4v2.4h-2.4zM644.05 299.18h2.4v2.4h-2.4zM650.73 299.18h2.4v2.4h-2.4zM657.4 299.18h2.4v2.4h-2.4zM661.85 299.18h2.4v2.4h-2.4zM664.07 299.18h2.4v2.4h-2.4zM670.75 299.18h2.4v2.4h-2.4zM672.98 299.18h2.4v2.4h-2.4zM679.65 299.18h2.4v2.4h-2.4zM681.88 299.18h2.4v2.4h-2.4zM686.32 299.18h2.4v2.4h-2.4zM693 299.18h2.4v2.4h-2.4zM695.23 299.18h2.4v2.4h-2.4zM701.9 299.18h2.4v2.4h-2.4zM704.12 299.18h2.4v2.4h-2.4zM710.8 299.18h2.4v2.4h-2.4zM713.02 299.18h2.4v2.4h-2.4zM719.7 299.18h2.4v2.4h-2.4zM730.82 299.18h2.4v2.4h-2.4zM454.93 227.98h2.4v2.4h-2.4zM466.05 227.98h2.4v2.4h-2.4zM459.38 265.8h2.4v2.4h-2.4zM474.95 265.8h2.4v2.4h-2.4zM477.18 265.8h2.4v2.4h-2.4zM479.4 265.8h2.4v2.4h-2.4zM490.53 265.8h2.4v2.4h-2.4zM530.57 265.8h2.4v2.4h-2.4zM541.7 265.8h2.4v2.4h-2.4zM546.15 265.8h2.4v2.4h-2.4zM550.6 265.8h2.4v2.4h-2.4zM552.82 265.8h2.4v2.4h-2.4zM561.73 265.8h2.4v2.4h-2.4zM568.4 265.8h2.4v2.4h-2.4zM570.62 265.8h2.4v2.4h-2.4zM575.07 265.8h2.4v2.4h-2.4zM577.3 265.8h2.4v2.4h-2.4zM590.65 265.8h2.4v2.4h-2.4zM454.93 216.85h2.4v2.4h-2.4zM466.05 216.85h2.4v2.4h-2.4zM454.93 236.88h2.4v2.4h-2.4zM470.5 236.88h2.4v2.4h-2.4zM463.83 261.35h2.4v2.4h-2.4zM470.5 261.35h2.4v2.4h-2.4zM481.63 261.35h2.4v2.4h-2.4zM557.27 261.35h2.4v2.4h-2.4zM566.17 261.35h2.4v2.4h-2.4zM572.85 261.35h2.4v2.4h-2.4zM581.75 261.35h2.4v2.4h-2.4zM454.93 252.45h2.4v2.4h-2.4zM461.6 252.45h2.4v2.4h-2.4zM470.5 252.45h2.4v2.4h-2.4zM472.73 252.45h2.4v2.4h-2.4zM457.15 239.1h2.4v2.4h-2.4zM468.28 239.1h2.4v2.4h-2.4zM466.05 259.12h2.4v2.4h-2.4zM468.28 259.12h2.4v2.4h-2.4zM483.85 259.12h2.4v2.4h-2.4zM459.38 223.53h2.4v2.4h-2.4zM461.6 223.53h2.4v2.4h-2.4zM466.05 256.9h2.4v2.4h-2.4zM468.28 256.9h2.4v2.4h-2.4zM457.15 219.08h2.4v2.4h-2.4zM463.83 219.08h2.4v2.4h-2.4zM459.38 221.3h2.4v2.4h-2.4zM461.6 221.3h2.4v2.4h-2.4zM459.38 241.33h2.4v2.4h-2.4zM466.05 241.33h2.4v2.4h-2.4zM452.7 214.63h2.4v2.4h-2.4zM468.28 214.63h2.4v2.4h-2.4zM457.15 225.75h2.4v2.4h-2.4zM463.83 225.75h2.4v2.4h-2.4zM452.7 230.2h2.4v2.4h-2.4zM468.28 230.2h2.4v2.4h-2.4zM459.38 248h2.4v2.4h-2.4zM466.05 248h2.4v2.4h-2.4z"/>
<path d="M223.53 470.5h2.4v2.4h-2.4zM232.43 470.5h2.4v2.4h-2.4zM239.1 470.5h2.4v2.4h-2.4zM241.33 470.5h2.4v2.4h-2.4zM248 470.5h2.4v2.4h-2.4zM250.23 470.5h2.4v2.4h-2.4zM256.9 470.5h2.4v2.4h-2.4zM259.12 470.5h2.4v2.4h-2.4zM265.8 470.5h2.4v2.4h-2.4zM270.25 470.5h2.4v2.4h-2.4zM274.7 470.5h2.4v2.4h-2.4zM279.15 470.5h2.4v2.4h-2.4zM281.38 470.5h2.4v2.4h-2.4zM288.05 470.5h2.4v2.4h-2.4zM290.28 470.5h2.4v2.4h-2.4zM296.95 470.5h2.4v2.4h-2.4zM299.18 470.5h2.4v2.4h-2.4zM305.85 470.5h2.4v2.4h-2.4zM308.08 470.5h2.4v2.4h-2.4zM314.75 470.5h2.4v2.4h-2.4zM316.98 470.5h2.4v2.4h-2.4zM323.65 470.5h2.4v2.4h-2.4zM325.88 470.5h2.4v2.4h-2.4zM332.55 470.5h2.4v2.4h-2.4zM334.78 470.5h2.4v2.4h-2.4zM341.45 470.5h2.4v2.4h-2.4zM343.68 470.5h2.4v2.4h-2.4zM350.35 470.5h2.4v2.4h-2.4zM352.58 470.5h2.4v2.4h-2.4zM359.25 470.5h2.4v2.4h-2.4zM361.48 470.5h2.4v2.4h-2.4zM370.38 470.5h2.4v2.4h-2.4zM377.05 470.5h2.4v2.4h-2.4zM143.43 457.15h2.4v2.4h-2.4zM154.55 457.15h2.4v2.4h-2.4zM159 457.15h2.4v2.4h-2.4zM165.68 457.15h2.4v2.4h-2.4zM172.35 457.15h2.4v2.4h-2.4zM176.8 457.15h2.4v2.4h-2.4zM179.03 457.15h2.4v2.4h-2.4zM185.7 457.15h2.4v2.4h-2.4zM187.93 457.15h2.4v2.4h-2.4zM194.6 457.15h2.4v2.4h-2.4zM196.83 457.15h2.4v2.4h-2.4zM201.28 457.15h2.4v2.4h-2.4zM207.95 457.15h2.4v2.4h-2.4zM210.18 457.15h2.4v2.4h-2.4zM216.85 457.15h2.4v2.4h-2.4zM219.08 457.15h2.4v2.4h-2.4zM225.75 457.15h2.4v2.4h-2.4zM234.65 457.15h2.4v2.4h-2.4zM236.88 457.15h2.4v2.4h-2.4zM243.55 457.15h2.4v2.4h-2.4zM245.78 457.15h2.4v2.4h-2.4zM252.45 457.15h2.4v2.4h-2.4zM254.68 457.15h2.4v2.4h-2.4zM261.35 457.15h2.4v2.4h-2.4zM263.58 457.15h2.4v2.4h-2.4zM268.03 457.15h2.4v2.4h-2.4zM272.48 457.15h2.4v2.4h-2.4zM276.93 457.15h2.4v2.4h-2.4zM283.6 457.15h2.4v2.4h-2.4zM285.83 457.15h2.4v2.4h-2.4zM292.5 457.15h2.4v2.4h-2.4zM294.73 457.15h2.4v2.4h-2.4zM301.4 457.15h2.4v2.4h-2.4zM303.62 457.15h2.4v2.4h-2.4zM310.3 457.15h2.4v2.4h-2.4zM312.53 457.15h2.4v2.4h-2.4zM319.2 457.15h2.4v2.4h-2.4zM321.43 457.15h2.4v2.4h-2.4zM328.1 457.15h2.4v2.4h-2.4zM330.33 457.15h2.4v2.4h-2.4zM337 457.15h2.4v2.4h-2.4zM339.23 457.15h2.4v2.4h-2.4zM345.9 457.15h2.4v2.4h-2.4zM348.12 457.15h2.4v2.4h-2.4zM354.8 457.15h2.4v2.4h-2.4zM357.03 457.15h2.4v2.4h-2.4zM363.7 457.15h2.4v2.4h-2.4zM372.6 457.15h2.4v2.4h-2.4zM196.83 468.28h2.4v2.4h-2.4zM205.73 468.28h2.4v2.4h-2.4zM212.4 468.28h2.4v2.4h-2.4zM214.63 468.28h2.4v2.4h-2.4zM221.3 468.28h2.4v2.4h-2.4zM225.75 468.28h2.4v2.4h-2.4zM230.2 468.28h2.4v2.4h-2.4zM234.65 468.28h2.4v2.4h-2.4zM236.88 468.28h2.4v2.4h-2.4zM243.55 468.28h2.4v2.4h-2.4zM245.78 468.28h2.4v2.4h-2.4zM252.45 468.28h2.4v2.4h-2.4zM254.68 468.28h2.4v2.4h-2.4zM261.35 468.28h2.4v2.4h-2.4zM263.58 468.28h2.4v2.4h-2.4zM272.48 468.28h2.4v2.4h-2.4zM279.15 468.28h2.4v2.4h-2.4zM281.38 468.28h2.4v2.4h-2.4zM288.05 468.28h2.4v2.4h-2.4zM290.28 468.28h2.4v2.4h-2.4zM296.95 468.28h2.4v2.4h-2.4zM299.18 468.28h2.4v2.4h-2.4zM305.85 468.28h2.4v2.4h-2.4zM308.08 468.28h2.4v2.4h-2.4zM314.75 468.28h2.4v2.4h-2.4zM316.98 468.28h2.4v2.4h-2.4zM323.65 468.28h2.4v2.4h-2.4zM325.88 468.28h2.4v2.4h-2.4zM332.55 468.28h2.4v2.4h-2.4zM334.78 468.28h2.4v2.4h-2.4zM341.45 468.28h2.4v2.4h-2.4zM343.68 468.28h2.4v2.4h-2.4zM350.35 468.28h2.4v2.4h-2.4zM352.58 468.28h2.4v2.4h-2.4zM359.25 468.28h2.4v2.4h-2.4zM361.48 468.28h2.4v2.4h-2.4zM368.15 468.28h2.4v2.4h-2.4zM372.6 468.28h2.4v2.4h-2.4zM374.83 468.28h2.4v2.4h-2.4zM152.33 459.38h2.4v2.4h-2.4zM163.45 459.38h2.4v2.4h-2.4zM167.9 459.38h2.4v2.4h-2.4zM174.58 459.38h2.4v2.4h-2.4zM181.25 459.38h2.4v2.4h-2.4zM185.7 459.38h2.4v2.4h-2.4zM187.93 459.38h2.4v2.4h-2.4zM194.6 459.38h2.4v2.4h-2.4zM196.83 459.38h2.4v2.4h-2.4zM203.5 459.38h2.4v2.4h-2.4zM205.73 459.38h2.4v2.4h-2.4zM212.4 459.38h2.4v2.4h-2.4zM214.63 459.38h2.4v2.4h-2.4zM221.3 459.38h2.4v2.4h-2.4zM223.53 459.38h2.4v2.4h-2.4zM227.98 459.38h2.4v2.4h-2.4zM234.65 459.38h2.4v2.4h-2.4zM236.88 459.38h2.4v2.4h-2.4zM243.55 459.38h2.4v2.4h-2.4zM245.78 459.38h2.4v2.4h-2.4zM252.45 459.38h2.4v2.4h-2.4zM254.68 459.38h2.4v2.4h-2.4zM261.35 459.38h2.4v2.4h-2.4zM263.58 459.38h2.4v2.4h-2.4zM270.25 459.38h2.4v2.4h-2.4zM279.15 459.38h2.4v2.4h-2.4zM281.38 459.38h2.4v2.4h-2.4zM288.05 459.38h2.4v2.4h-2.4zM290.28 459.38h2.4v2.4h-2.4zM296.95 459.38h2.4v2.4h-2.4zM299.18 459.38h2.4v2.4h-2.4zM305.85 459.38h2.4v2.4h-2.4zM308.08 459.38h2.4v2.4h-2.4zM314.75 459.38h2.4v2.4h-2.4zM316.98 459.38h2.4v2.4h-2.4zM323.65 459.38h2.4v2.4h-2.4zM325.88 459.38h2.4v2.4h-2.4zM332.55 459.38h2.4v2.4h-2.4zM334.78 459.38h2.4v2.4h-2.4zM341.45 459.38h2.4v2.4h-2.4zM343.68 459.38h2.4v2.4h-2.4zM350.35 459.38h2.4v2.4h-2.4zM352.58 459.38h2.4v2.4h-2.4zM359.25 459.38h2.4v2.4h-2.4zM361.48 459.38h2.4v2.4h-2.4zM365.93 459.38h2.4v2.4h-2.4zM370.38 459.38h2.4v2.4h-2.4zM381.5 459.38h2.4v2.4h-2.4zM179.03 466.05h2.4v2.4h-2.4zM187.93 466.05h2.4v2.4h-2.4zM194.6 466.05h2.4v2.4h-2.4zM199.05 466.05h2.4v2.4h-2.4zM203.5 466.05h2.4v2.4h-2.4zM207.95 466.05h2.4v2.4h-2.4zM210.18 466.05h2.4v2.4h-2.4zM216.85 466.05h2.4v2.4h-2.4zM219.08 466.05h2.4v2.4h-2.4zM227.98 466.05h2.4v2.4h-2.4zM234.65 466.05h2.4v2.4h-2.4zM236.88 466.05h2.4v2.4h-2.4zM243.55 466.05h2.4v2.4h-2.4zM245.78 466.05h2.4v2.4h-2.4zM252.45 466.05h2.4v2.4h-2.4zM254.68 466.05h2.4v2.4h-2.4zM261.35 466.05h2.4v2.4h-2.4zM263.58 466.05h2.4v2.4h-2.4zM270.25 466.05h2.4v2.4h-2.4zM274.7 466.05h2.4v2.4h-2.4zM276.93 466.05h2.4v2.4h-2.4zM283.6 466.05h2.4v2.4h-2.4zM285.83 466.05h2.4v2.4h-2.4zM292.5 466.05h2.4v2.4h-2.4zM294.73 466.05h2.4v2.4h-2.4zM301.4 466.05h2.4v2.4h-2.4zM303.62 466.05h2.4v2.4h-2.4zM310.3 466.05h2.4v2.4h-2.4zM312.53 466.05h2.4v2.4h-2.4zM319.2 466.05h2.4v2.4h-2.4zM321.43 466.05h2.4v2.4h-2.4zM328.1 466.05h2.4v2.4h-2.4zM330.33 466.05h2.4v2.4h-2.4zM337 466.05h2.4v2.4h-2.4zM339.23 466.05h2.4v2.4h-2.4zM345.9 466.05h2.4v2.4h-2.4zM348.12 466.05h2.4v2.4h-2.4zM354.8 466.05h2.4v2.4h-2.4zM357.03 466.05h2.4v2.4h-2.4zM363.7 466.05h2.4v2.4h-2.4zM365.93 466.05h2.4v2.4h-2.4zM372.6 466.05h2.4v2.4h-2.4zM374.83 466.05h2.4v2.4h-2.4zM268.03 472.73h2.4v2.4h-2.4zM276.93 472.73h2.4v2.4h-2.4zM283.6 472.73h2.4v2.4h-2.4zM285.83 472.73h2.4v2.4h-2.4zM292.5 472.73h2.4v2.4h-2.4zM294.73 472.73h2.4v2.4h-2.4zM301.4 472.73h2.4v2.4h-2.4zM303.62 472.73h2.4v2.4h-2.4zM310.3 472.73h2.4v2.4h-2.4zM312.53 472.73h2.4v2.4h-2.4zM319.2 472.73h2.4v2.4h-2.4zM321.43 472.73h2.4v2.4h-2.4zM328.1 472.73h2.4v2.4h-2.4zM330.33 472.73h2.4v2.4h-2.4zM337 472.73h2.4v2.4h-2.4zM339.23 472.73h2.4v2.4h-2.4zM345.9 472.73h2.4v2.4h-2.4zM348.12 472.73h2.4v2.4h-2.4zM354.8 472.73h2.4v2.4h-2.4zM357.03 472.73h2.4v2.4h-2.4zM363.7 472.73h2.4v2.4h-2.4zM368.15 472.73h2.4v2.4h-2.4zM372.6 472.73h2.4v2.4h-2.4zM379.28 472.73h2.4v2.4h-2.4zM112.28 439.35h2.4v2.4h-2.4zM118.95 439.35h2.4v2.4h-2.4zM123.4 439.35h2.4v2.4h-2.4zM125.62 439.35h2.4v2.4h-2.4zM130.08 439.35h2.4v2.4h-2.4zM136.75 439.35h2.4v2.4h-2.4zM147.88 439.35h2.4v2.4h-2.4zM96.7 426h2.4v2.4h-2.4zM103.38 426h2.4v2.4h-2.4zM107.83 426h2.4v2.4h-2.4zM110.05 426h2.4v2.4h-2.4zM365.93 474.95h2.4v2.4h-2.4zM381.5 474.95h2.4v2.4h-2.4zM134.53 452.7h2.4v2.4h-2.4zM147.88 452.7h2.4v2.4h-2.4zM150.1 452.7h2.4v2.4h-2.4zM154.55 452.7h2.4v2.4h-2.4zM159 452.7h2.4v2.4h-2.4zM161.23 452.7h2.4v2.4h-2.4zM167.9 452.7h2.4v2.4h-2.4zM170.13 452.7h2.4v2.4h-2.4zM174.58 452.7h2.4v2.4h-2.4zM181.25 452.7h2.4v2.4h-2.4zM190.15 452.7h2.4v2.4h-2.4zM192.38 452.7h2.4v2.4h-2.4zM196.83 452.7h2.4v2.4h-2.4zM201.28 452.7h2.4v2.4h-2.4zM205.73 452.7h2.4v2.4h-2.4zM212.4 452.7h2.4v2.4h-2.4zM214.63 452.7h2.4v2.4h-2.4zM221.3 452.7h2.4v2.4h-2.4zM230.2 452.7h2.4v2.4h-2.4zM94.47 408.2h2.4v2.4h-2.4zM105.6 408.2h2.4v2.4h-2.4zM94.47 428.23h2.4v2.4h-2.4zM105.6 428.23h2.4v2.4h-2.4zM107.83 428.23h2.4v2.4h-2.4zM110.05 428.23h2.4v2.4h-2.4zM123.4 428.23h2.4v2.4h-2.4zM145.65 454.93h2.4v2.4h-2.4zM156.78 454.93h2.4v2.4h-2.4zM163.45 454.93h2.4v2.4h-2.4zM167.9 454.93h2.4v2.4h-2.4zM170.13 454.93h2.4v2.4h-2.4zM176.8 454.93h2.4v2.4h-2.4zM179.03 454.93h2.4v2.4h-2.4zM183.48 454.93h2.4v2.4h-2.4zM190.15 454.93h2.4v2.4h-2.4zM192.38 454.93h2.4v2.4h-2.4zM199.05 454.93h2.4v2.4h-2.4zM207.95 454.93h2.4v2.4h-2.4zM210.18 454.93h2.4v2.4h-2.4zM216.85 454.93h2.4v2.4h-2.4zM219.08 454.93h2.4v2.4h-2.4zM223.53 454.93h2.4v2.4h-2.4zM227.98 454.93h2.4v2.4h-2.4zM232.43 454.93h2.4v2.4h-2.4zM239.1 454.93h2.4v2.4h-2.4zM241.33 454.93h2.4v2.4h-2.4zM248 454.93h2.4v2.4h-2.4zM250.23 454.93h2.4v2.4h-2.4zM256.9 454.93h2.4v2.4h-2.4zM259.12 454.93h2.4v2.4h-2.4zM265.8 454.93h2.4v2.4h-2.4zM274.7 454.93h2.4v2.4h-2.4zM161.23 461.6h2.4v2.4h-2.4zM172.35 461.6h2.4v2.4h-2.4zM176.8 461.6h2.4v2.4h-2.4zM183.48 461.6h2.4v2.4h-2.4zM190.15 461.6h2.4v2.4h-2.4zM192.38 461.6h2.4v2.4h-2.4zM199.05 461.6h2.4v2.4h-2.4zM203.5 461.6h2.4v2.4h-2.4zM205.73 461.6h2.4v2.4h-2.4zM212.4 461.6h2.4v2.4h-2.4zM214.63 461.6h2.4v2.4h-2.4zM221.3 461.6h2.4v2.4h-2.4zM223.53 461.6h2.4v2.4h-2.4zM230.2 461.6h2.4v2.4h-2.4zM232.43 461.6h2.4v2.4h-2.4zM239.1 461.6h2.4v2.4h-2.4zM241.33 461.6h2.4v2.4h-2.4zM248 461.6h2.4v2.4h-2.4zM250.23 461.6h2.4v2.4h-2.4zM256.9 461.6h2.4v2.4h-2.4zM259.12 461.6h2.4v2.4h-2.4zM265.8 461.6h2.4v2.4h-2.4zM268.03 461.6h2.4v2.4h-2.4zM272.48 461.6h2.4v2.4h-2.4zM279.15 461.6h2.4v2.4h-2.4zM281.38 461.6h2.4v2.4h-2.4zM288.05 461.6h2.4v2.4h-2.4zM290.28 461.6h2.4v2.4h-2.4zM296.95 461.6h2.4v2.4h-2.4zM299.18 461.6h2.4v2.4h-2.4zM305.85 461.6h2.4v2.4h-2.4zM308.08 461.6h2.4v2.4h-2.4zM314.75 461.6h2.4v2.4h-2.4zM316.98 461.6h2.4v2.4h-2.4zM323.65 461.6h2.4v2.4h-2.4zM325.88 461.6h2.4v2.4h-2.4zM332.55 461.6h2.4v2.4h-2.4zM334.78 461.6h2.4v2.4h-2.4zM341.45 461.6h2.4v2.4h-2.4zM343.68 461.6h2.4v2.4h-2.4zM350.35 461.6h2.4v2.4h-2.4zM352.58 461.6h2.4v2.4h-2.4zM359.25 461.6h2.4v2.4h-2.4zM361.48 461.6h2.4v2.4h-2.4zM368.15 461.6h2.4v2.4h-2.4zM379.28 461.6h2.4v2.4h-2.4zM170.13 463.83h2.4v2.4h-2.4zM181.25 463.83h2.4v2.4h-2.4zM185.7 463.83h2.4v2.4h-2.4zM190.15 463.83h2.4v2.4h-2.4zM192.38 463.83h2.4v2.4h-2.4zM201.28 463.83h2.4v2.4h-2.4zM207.95 463.83h2.4v2.4h-2.4zM210.18 463.83h2.4v2.4h-2.4zM216.85 463.83h2.4v2.4h-2.4zM219.08 463.83h2.4v2.4h-2.4zM225.75 463.83h2.4v2.4h-2.4zM230.2 463.83h2.4v2.4h-2.4zM232.43 463.83h2.4v2.4h-2.4zM239.1 463.83h2.4v2.4h-2.4zM241.33 463.83h2.4v2.4h-2.4zM248 463.83h2.4v2.4h-2.4zM250.23 463.83h2.4v2.4h-2.4zM256.9 463.83h2.4v2.4h-2.4zM259.12 463.83h2.4v2.4h-2.4zM265.8 463.83h2.4v2.4h-2.4zM268.03 463.83h2.4v2.4h-2.4zM274.7 463.83h2.4v2.4h-2.4zM276.93 463.83h2.4v2.4h-2.4zM283.6 463.83h2.4v2.4h-2.4zM285.83 463.83h2.4v2.4h-2.4zM292.5 463.83h2.4v2.4h-2.4zM294.73 463.83h2.4v2.4h-2.4zM301.4 463.83h2.4v2.4h-2.4zM303.62 463.83h2.4v2.4h-2.4zM310.3 463.83h2.4v2.4h-2.4zM312.53 463.83h2.4v2.4h-2.4zM319.2 463.83h2.4v2.4h-2.4zM321.43 463.83h2.4v2.4h-2.4zM328.1 463.83h2.4v2.4h-2.4zM330.33 463.83h2.4v2.4h-2.4zM337 463.83h2.4v2.4h-2.4zM339.23 463.83h2.4v2.4h-2.4zM345.9 463.83h2.4v2.4h-2.4zM348.12 463.83h2.4v2.4h-2.4zM354.8 463.83h2.4v2.4h-2.4zM357.03 463.83h2.4v2.4h-2.4zM363.7 463.83h2.4v2.4h-2.4zM365.93 463.83h2.4v2.4h-2.4zM370.38 463.83h2.4v2.4h-2.4zM377.05 463.83h2.4v2.4h-2.4zM107.83 443.8h2.4v2.4h-2.4zM121.17 443.8h2.4v2.4h-2.4zM123.4 443.8h2.4v2.4h-2.4zM127.85 443.8h2.4v2.4h-2.4zM132.3 443.8h2.4v2.4h-2.4zM134.53 443.8h2.4v2.4h-2.4zM141.2 443.8h2.4v2.4h-2.4zM143.43 443.8h2.4v2.4h-2.4zM145.65 443.8h2.4v2.4h-2.4zM152.33 443.8h2.4v2.4h-2.4zM156.78 443.8h2.4v2.4h-2.4zM167.9 443.8h2.4v2.4h-2.4zM116.73 448.25h2.4v2.4h-2.4zM127.85 448.25h2.4v2.4h-2.4zM132.3 448.25h2.4v2.4h-2.4zM138.98 448.25h2.4v2.4h-2.4zM145.65 448.25h2.4v2.4h-2.4zM150.1 448.25h2.4v2.4h-2.4zM152.33 448.25h2.4v2.4h-2.4zM156.78 448.25h2.4v2.4h-2.4zM163.45 448.25h2.4v2.4h-2.4zM170.13 448.25h2.4v2.4h-2.4zM174.58 448.25h2.4v2.4h-2.4zM185.7 448.25h2.4v2.4h-2.4zM96.7 417.1h2.4v2.4h-2.4zM98.92 417.1h2.4v2.4h-2.4zM103.38 417.1h2.4v2.4h-2.4zM105.6 417.1h2.4v2.4h-2.4zM125.62 450.48h2.4v2.4h-2.4zM136.75 450.48h2.4v2.4h-2.4zM141.2 450.48h2.4v2.4h-2.4zM147.88 450.48h2.4v2.4h-2.4zM150.1 450.48h2.4v2.4h-2.4zM152.33 450.48h2.4v2.4h-2.4zM159 450.48h2.4v2.4h-2.4zM161.23 450.48h2.4v2.4h-2.4zM165.68 450.48h2.4v2.4h-2.4zM172.35 450.48h2.4v2.4h-2.4zM179.03 450.48h2.4v2.4h-2.4zM183.48 450.48h2.4v2.4h-2.4zM187.93 450.48h2.4v2.4h-2.4zM194.6 450.48h2.4v2.4h-2.4zM203.5 450.48h2.4v2.4h-2.4zM103.38 432.68h2.4v2.4h-2.4zM110.05 432.68h2.4v2.4h-2.4zM112.28 432.68h2.4v2.4h-2.4zM116.73 432.68h2.4v2.4h-2.4zM118.95 432.68h2.4v2.4h-2.4zM132.3 432.68h2.4v2.4h-2.4zM98.92 437.13h2.4v2.4h-2.4zM114.5 437.13h2.4v2.4h-2.4zM116.73 437.13h2.4v2.4h-2.4zM121.17 437.13h2.4v2.4h-2.4zM127.85 437.13h2.4v2.4h-2.4zM134.53 437.13h2.4v2.4h-2.4zM138.98 437.13h2.4v2.4h-2.4zM150.1 437.13h2.4v2.4h-2.4zM94.47 419.33h2.4v2.4h-2.4zM101.15 419.33h2.4v2.4h-2.4zM103.38 419.33h2.4v2.4h-2.4zM105.6 419.33h2.4v2.4h-2.4zM118.95 446.03h2.4v2.4h-2.4zM130.08 446.03h2.4v2.4h-2.4zM136.75 446.03h2.4v2.4h-2.4zM141.2 446.03h2.4v2.4h-2.4zM143.43 446.03h2.4v2.4h-2.4zM147.88 446.03h2.4v2.4h-2.4zM154.55 446.03h2.4v2.4h-2.4zM161.23 446.03h2.4v2.4h-2.4zM165.68 446.03h2.4v2.4h-2.4zM176.8 446.03h2.4v2.4h-2.4zM110.05 441.58h2.4v2.4h-2.4zM121.17 441.58h2.4v2.4h-2.4zM123.4 441.58h2.4v2.4h-2.4zM125.62 441.58h2.4v2.4h-2.4zM132.3 441.58h2.4v2.4h-2.4zM134.53 441.58h2.4v2.4h-2.4zM138.98 441.58h2.4v2.4h-2.4zM143.43 441.58h2.4v2.4h-2.4zM145.65 441.58h2.4v2.4h-2.4zM159 441.58h2.4v2.4h-2.4zM92.25 421.55h2.4v2.4h-2.4zM98.92 421.55h2.4v2.4h-2.4zM101.15 421.55h2.4v2.4h-2.4zM103.38 421.55h2.4v2.4h-2.4zM107.83 421.55h2.4v2.4h-2.4zM114.5 421.55h2.4v2.4h-2.4zM92.25 405.98h2.4v2.4h-2.4zM107.83 405.98h2.4v2.4h-2.4zM105.6 430.45h2.4v2.4h-2.4zM107.83 430.45h2.4v2.4h-2.4zM110.05 430.45h2.4v2.4h-2.4zM121.17 430.45h2.4v2.4h-2.4zM94.47 412.65h2.4v2.4h-2.4zM98.92 412.65h2.4v2.4h-2.4zM101.15 412.65h2.4v2.4h-2.4zM110.05 412.65h2.4v2.4h-2.4zM101.15 434.9h2.4v2.4h-2.4zM112.28 434.9h2.4v2.4h-2.4zM114.5 434.9h2.4v2.4h-2.4zM116.73 434.9h2.4v2.4h-2.4zM118.95 434.9h2.4v2.4h-2.4zM125.62 434.9h2.4v2.4h-2.4zM130.08 434.9h2.4v2.4h-2.4zM141.2 434.9h2.4v2.4h-2.4zM96.7 414.88h2.4v2.4h-2.4zM98.92 414.88h2.4v2.4h-2.4zM101.15 414.88h2.4v2.4h-2.4zM107.83 414.88h2.4v2.4h-2.4zM98.92 423.78h2.4v2.4h-2.4zM101.15 423.78h2.4v2.4h-2.4zM105.6 423.78h2.4v2.4h-2.4zM112.28 423.78h2.4v2.4h-2.4zM96.7 410.43h2.4v2.4h-2.4zM103.38 410.43h2.4v2.4h-2.4z"/>
<path d="M610.67 450.48h2.4v2.4h-2.4zM624.02 450.48h2.4v2.4h-2.4zM626.25 450.48h2.4v2.4h-2.4zM630.7 450.48h2.4v2.4h-2.4zM635.15 450.48h2.4v2.4h-2.4zM637.38 450.48h2.4v2.4h-2.4zM641.82 450.48h2.4v2.4h-2.4zM646.27 450.48h2.4v2.4h-2.4zM648.5 450.48h2.4v2.4h-2.4zM655.17 450.48h2.4v2.4h-2.4zM661.85 450.48h2.4v2.4h-2.4zM670.75 450.48h2.4v2.4h-2.4zM466.05 428.23h2.4v2.4h-2.4zM468.28 428.23h2.4v2.4h-2.4zM490.53 428.23h2.4v2.4h-2.4zM494.98 428.23h2.4v2.4h-2.4zM497.2 428.23h2.4v2.4h-2.4zM510.55 428.23h2.4v2.4h-2.4zM515 428.23h2.4v2.4h-2.4zM526.12 428.23h2.4v2.4h-2.4zM528.35 428.23h2.4v2.4h-2.4zM530.57 428.23h2.4v2.4h-2.4zM588.42 428.23h2.4v2.4h-2.4zM595.1 428.23h2.4v2.4h-2.4zM597.32 428.23h2.4v2.4h-2.4zM604 428.23h2.4v2.4h-2.4zM648.5 463.83h2.4v2.4h-2.4zM657.4 463.83h2.4v2.4h-2.4zM659.62 463.83h2.4v2.4h-2.4zM668.52 463.83h2.4v2.4h-2.4zM675.2 463.83h2.4v2.4h-2.4zM679.65 463.83h2.4v2.4h-2.4zM681.88 463.83h2.4v2.4h-2.4zM688.55 463.83h2.4v2.4h-2.4zM690.77 463.83h2.4v2.4h-2.4zM697.45 463.83h2.4v2.4h-2.4zM699.67 463.83h2.4v2.4h-2.4zM706.35 463.83h2.4v2.4h-2.4zM708.57 463.83h2.4v2.4h-2.4zM713.02 463.83h2.4v2.4h-2.4zM719.7 463.83h2.4v2.4h-2.4zM721.92 463.83h2.4v2.4h-2.4zM728.6 463.83h2.4v2.4h-2.4zM619.57 454.93h2.4v2.4h-2.4zM630.7 454.93h2.4v2.4h-2.4zM635.15 454.93h2.4v2.4h-2.4zM641.82 454.93h2.4v2.4h-2.4zM644.05 454.93h2.4v2.4h-2.4zM646.27 454.93h2.4v2.4h-2.4zM650.73 454.93h2.4v2.4h-2.4zM657.4 454.93h2.4v2.4h-2.4zM659.62 454.93h2.4v2.4h-2.4zM666.3 454.93h2.4v2.4h-2.4zM672.98 454.93h2.4v2.4h-2.4zM677.42 454.93h2.4v2.4h-2.4zM681.88 454.93h2.4v2.4h-2.4zM688.55 454.93h2.4v2.4h-2.4zM697.45 454.93h2.4v2.4h-2.4zM457.15 419.33h2.4v2.4h-2.4zM463.83 419.33h2.4v2.4h-2.4zM474.95 419.33h2.4v2.4h-2.4zM477.18 419.33h2.4v2.4h-2.4zM488.3 419.33h2.4v2.4h-2.4zM499.43 419.33h2.4v2.4h-2.4zM521.67 419.33h2.4v2.4h-2.4zM537.25 419.33h2.4v2.4h-2.4zM539.48 419.33h2.4v2.4h-2.4zM541.7 419.33h2.4v2.4h-2.4zM548.38 419.33h2.4v2.4h-2.4zM552.82 419.33h2.4v2.4h-2.4zM557.27 419.33h2.4v2.4h-2.4zM563.95 419.33h2.4v2.4h-2.4zM568.4 419.33h2.4v2.4h-2.4zM572.85 419.33h2.4v2.4h-2.4zM579.52 419.33h2.4v2.4h-2.4zM581.75 419.33h2.4v2.4h-2.4zM583.98 419.33h2.4v2.4h-2.4zM586.2 419.33h2.4v2.4h-2.4zM597.32 419.33h2.4v2.4h-2.4zM452.7 397.08h2.4v2.4h-2.4zM468.28 397.08h2.4v2.4h-2.4zM459.38 417.1h2.4v2.4h-2.4zM461.6 417.1h2.4v2.4h-2.4zM474.95 417.1h2.4v2.4h-2.4zM477.18 417.1h2.4v2.4h-2.4zM486.08 417.1h2.4v2.4h-2.4zM492.75 417.1h2.4v2.4h-2.4zM501.65 417.1h2.4v2.4h-2.4zM537.25 417.1h2.4v2.4h-2.4zM539.48 417.1h2.4v2.4h-2.4zM543.92 417.1h2.4v2.4h-2.4zM550.6 417.1h2.4v2.4h-2.4zM559.5 417.1h2.4v2.4h-2.4zM561.73 417.1h2.4v2.4h-2.4zM570.62 417.1h2.4v2.4h-2.4zM577.3 417.1h2.4v2.4h-2.4zM581.75 417.1h2.4v2.4h-2.4zM583.98 417.1h2.4v2.4h-2.4zM599.55 417.1h2.4v2.4h-2.4zM637.38 461.6h2.4v2.4h-2.4zM650.73 461.6h2.4v2.4h-2.4zM652.95 461.6h2.4v2.4h-2.4zM657.4 461.6h2.4v2.4h-2.4zM659.62 461.6h2.4v2.4h-2.4zM666.3 461.6h2.4v2.4h-2.4zM670.75 461.6h2.4v2.4h-2.4zM672.98 461.6h2.4v2.4h-2.4zM679.65 461.6h2.4v2.4h-2.4zM681.88 461.6h2.4v2.4h-2.4zM688.55 461.6h2.4v2.4h-2.4zM690.77 461.6h2.4v2.4h-2.4zM695.23 461.6h2.4v2.4h-2.4zM701.9 461.6h2.4v2.4h-2.4zM704.12 461.6h2.4v2.4h-2.4zM710.8 461.6h2.4v2.4h-2.4zM719.7 461.6h2.4v2.4h-2.4zM721.92 461.6h2.4v2.4h-2.4zM730.82 461.6h2.4v2.4h-2.4zM454.93 421.55h2.4v2.4h-2.4zM459.38 421.55h2.4v2.4h-2.4zM466.05 421.55h2.4v2.4h-2.4zM472.73 421.55h2.4v2.4h-2.4zM474.95 421.55h2.4v2.4h-2.4zM479.4 421.55h2.4v2.4h-2.4zM490.53 421.55h2.4v2.4h-2.4zM497.2 421.55h2.4v2.4h-2.4zM523.9 421.55h2.4v2.4h-2.4zM535.02 421.55h2.4v2.4h-2.4zM539.48 421.55h2.4v2.4h-2.4zM541.7 421.55h2.4v2.4h-2.4zM555.05 421.55h2.4v2.4h-2.4zM566.17 421.55h2.4v2.4h-2.4zM579.52 421.55h2.4v2.4h-2.4zM581.75 421.55h2.4v2.4h-2.4zM586.2 421.55h2.4v2.4h-2.4zM588.42 421.55h2.4v2.4h-2.4zM595.1 421.55h2.4v2.4h-2.4zM452.7 412.65h2.4v2.4h-2.4zM457.15 412.65h2.4v2.4h-2.4zM463.83 412.65h2.4v2.4h-2.4zM468.28 412.65h2.4v2.4h-2.4zM470.5 412.65h2.4v2.4h-2.4zM481.63 412.65h2.4v2.4h-2.4zM488.3 412.65h2.4v2.4h-2.4zM532.8 412.65h2.4v2.4h-2.4zM543.92 412.65h2.4v2.4h-2.4zM546.15 412.65h2.4v2.4h-2.4zM548.38 412.65h2.4v2.4h-2.4zM555.05 412.65h2.4v2.4h-2.4zM557.27 412.65h2.4v2.4h-2.4zM563.95 412.65h2.4v2.4h-2.4zM566.17 412.65h2.4v2.4h-2.4zM572.85 412.65h2.4v2.4h-2.4zM575.07 412.65h2.4v2.4h-2.4zM577.3 412.65h2.4v2.4h-2.4zM588.42 412.65h2.4v2.4h-2.4zM503.88 446.03h2.4v2.4h-2.4zM519.45 446.03h2.4v2.4h-2.4zM601.77 446.03h2.4v2.4h-2.4zM615.12 446.03h2.4v2.4h-2.4zM617.35 446.03h2.4v2.4h-2.4zM621.8 446.03h2.4v2.4h-2.4zM626.25 446.03h2.4v2.4h-2.4zM628.48 446.03h2.4v2.4h-2.4zM632.92 446.03h2.4v2.4h-2.4zM637.38 446.03h2.4v2.4h-2.4zM639.6 446.03h2.4v2.4h-2.4zM652.95 446.03h2.4v2.4h-2.4zM646.27 466.05h2.4v2.4h-2.4zM655.17 466.05h2.4v2.4h-2.4zM661.85 466.05h2.4v2.4h-2.4zM666.3 466.05h2.4v2.4h-2.4zM670.75 466.05h2.4v2.4h-2.4zM677.42 466.05h2.4v2.4h-2.4zM684.1 466.05h2.4v2.4h-2.4zM686.32 466.05h2.4v2.4h-2.4zM693 466.05h2.4v2.4h-2.4zM697.45 466.05h2.4v2.4h-2.4zM699.67 466.05h2.4v2.4h-2.4zM706.35 466.05h2.4v2.4h-2.4zM708.57 466.05h2.4v2.4h-2.4zM715.25 466.05h2.4v2.4h-2.4zM717.48 466.05h2.4v2.4h-2.4zM724.15 466.05h2.4v2.4h-2.4zM726.38 466.05h2.4v2.4h-2.4zM452.7 423.78h2.4v2.4h-2.4zM461.6 423.78h2.4v2.4h-2.4zM468.28 423.78h2.4v2.4h-2.4zM470.5 423.78h2.4v2.4h-2.4zM472.73 423.78h2.4v2.4h-2.4zM481.63 423.78h2.4v2.4h-2.4zM492.75 423.78h2.4v2.4h-2.4zM494.98 423.78h2.4v2.4h-2.4zM526.12 423.78h2.4v2.4h-2.4zM532.8 423.78h2.4v2.4h-2.4zM543.92 423.78h2.4v2.4h-2.4zM577.3 423.78h2.4v2.4h-2.4zM588.42 423.78h2.4v2.4h-2.4zM590.65 423.78h2.4v2.4h-2.4zM592.88 423.78h2.4v2.4h-2.4zM608.45 423.78h2.4v2.4h-2.4zM639.6 459.38h2.4v2.4h-2.4zM650.73 459.38h2.4v2.4h-2.4zM652.95 459.38h2.4v2.4h-2.4zM655.17 459.38h2.4v2.4h-2.4zM661.85 459.38h2.4v2.4h-2.4zM664.07 459.38h2.4v2.4h-2.4zM670.75 459.38h2.4v2.4h-2.4zM672.98 459.38h2.4v2.4h-2.4zM677.42 459.38h2.4v2.4h-2.4zM684.1 459.38h2.4v2.4h-2.4zM686.32 459.38h2.4v2.4h-2.4zM693 459.38h2.4v2.4h-2.4zM701.9 459.38h2.4v2.4h-2.4zM704.12 459.38h2.4v2.4h-2.4zM708.57 459.38h2.4v2.4h-2.4zM713.02 459.38h2.4v2.4h-2.4zM717.48 459.38h2.4v2.4h-2.4zM724.15 459.38h2.4v2.4h-2.4zM733.05 459.38h2.4v2.4h-2.4zM461.6 434.9h2.4v2.4h-2.4zM472.73 434.9h2.4v2.4h-2.4zM501.65 434.9h2.4v2.4h-2.4zM503.88 434.9h2.4v2.4h-2.4zM508.33 434.9h2.4v2.4h-2.4zM515 434.9h2.4v2.4h-2.4zM519.45 434.9h2.4v2.4h-2.4zM521.67 434.9h2.4v2.4h-2.4zM537.25 434.9h2.4v2.4h-2.4zM597.32 434.9h2.4v2.4h-2.4zM604 434.9h2.4v2.4h-2.4zM606.23 434.9h2.4v2.4h-2.4zM610.67 434.9h2.4v2.4h-2.4zM612.9 434.9h2.4v2.4h-2.4zM626.25 434.9h2.4v2.4h-2.4zM672.98 470.5h2.4v2.4h-2.4zM681.88 470.5h2.4v2.4h-2.4zM688.55 470.5h2.4v2.4h-2.4zM693 470.5h2.4v2.4h-2.4zM697.45 470.5h2.4v2.4h-2.4zM701.9 470.5h2.4v2.4h-2.4zM704.12 470.5h2.4v2.4h-2.4zM713.02 470.5h2.4v2.4h-2.4zM719.7 470.5h2.4v2.4h-2.4zM721.92 470.5h2.4v2.4h-2.4zM728.6 470.5h2.4v2.4h-2.4zM463.83 426h2.4v2.4h-2.4zM468.28 426h2.4v2.4h-2.4zM470.5 426h2.4v2.4h-2.4zM483.85 426h2.4v2.4h-2.4zM492.75 426h2.4v2.4h-2.4zM494.98 426h2.4v2.4h-2.4zM512.77 426h2.4v2.4h-2.4zM528.35 426h2.4v2.4h-2.4zM530.57 426h2.4v2.4h-2.4zM546.15 426h2.4v2.4h-2.4zM575.07 426h2.4v2.4h-2.4zM590.65 426h2.4v2.4h-2.4zM592.88 426h2.4v2.4h-2.4zM595.1 426h2.4v2.4h-2.4zM606.23 426h2.4v2.4h-2.4zM459.38 437.13h2.4v2.4h-2.4zM474.95 437.13h2.4v2.4h-2.4zM501.65 437.13h2.4v2.4h-2.4zM503.88 437.13h2.4v2.4h-2.4zM510.55 437.13h2.4v2.4h-2.4zM512.77 437.13h2.4v2.4h-2.4zM517.23 437.13h2.4v2.4h-2.4zM523.9 437.13h2.4v2.4h-2.4zM595.1 437.13h2.4v2.4h-2.4zM606.23 437.13h2.4v2.4h-2.4zM608.45 437.13h2.4v2.4h-2.4zM610.67 437.13h2.4v2.4h-2.4zM612.9 437.13h2.4v2.4h-2.4zM624.02 437.13h2.4v2.4h-2.4zM690.77 472.73h2.4v2.4h-2.4zM699.67 472.73h2.4v2.4h-2.4zM706.35 472.73h2.4v2.4h-2.4zM710.8 472.73h2.4v2.4h-2.4zM715.25 472.73h2.4v2.4h-2.4zM719.7 472.73h2.4v2.4h-2.4zM721.92 472.73h2.4v2.4h-2.4zM730.82 472.73h2.4v2.4h-2.4zM452.7 408.2h2.4v2.4h-2.4zM457.15 408.2h2.4v2.4h-2.4zM463.83 408.2h2.4v2.4h-2.4zM468.28 408.2h2.4v2.4h-2.4zM483.85 408.2h2.4v2.4h-2.4zM486.08 408.2h2.4v2.4h-2.4zM541.7 408.2h2.4v2.4h-2.4zM552.82 408.2h2.4v2.4h-2.4zM559.5 408.2h2.4v2.4h-2.4zM561.73 408.2h2.4v2.4h-2.4zM568.4 408.2h2.4v2.4h-2.4zM579.52 408.2h2.4v2.4h-2.4zM497.2 441.58h2.4v2.4h-2.4zM508.33 441.58h2.4v2.4h-2.4zM512.77 441.58h2.4v2.4h-2.4zM515 441.58h2.4v2.4h-2.4zM528.35 441.58h2.4v2.4h-2.4zM606.23 441.58h2.4v2.4h-2.4zM612.9 441.58h2.4v2.4h-2.4zM617.35 441.58h2.4v2.4h-2.4zM619.57 441.58h2.4v2.4h-2.4zM621.8 441.58h2.4v2.4h-2.4zM628.48 441.58h2.4v2.4h-2.4zM632.92 441.58h2.4v2.4h-2.4zM644.05 441.58h2.4v2.4h-2.4zM466.05 430.45h2.4v2.4h-2.4zM468.28 430.45h2.4v2.4h-2.4zM488.3 430.45h2.4v2.4h-2.4zM497.2 430.45h2.4v2.4h-2.4zM499.43 430.45h2.4v2.4h-2.4zM503.88 430.45h2.4v2.4h-2.4zM508.33 430.45h2.4v2.4h-2.4zM517.23 430.45h2.4v2.4h-2.4zM519.45 430.45h2.4v2.4h-2.4zM523.9 430.45h2.4v2.4h-2.4zM526.12 430.45h2.4v2.4h-2.4zM532.8 430.45h2.4v2.4h-2.4zM586.2 430.45h2.4v2.4h-2.4zM597.32 430.45h2.4v2.4h-2.4zM599.55 430.45h2.4v2.4h-2.4zM601.77 430.45h2.4v2.4h-2.4zM617.35 430.45h2.4v2.4h-2.4zM463.83 432.68h2.4v2.4h-2.4zM470.5 432.68h2.4v2.4h-2.4zM486.08 432.68h2.4v2.4h-2.4zM499.43 432.68h2.4v2.4h-2.4zM501.65 432.68h2.4v2.4h-2.4zM506.1 432.68h2.4v2.4h-2.4zM517.23 432.68h2.4v2.4h-2.4zM519.45 432.68h2.4v2.4h-2.4zM521.67 432.68h2.4v2.4h-2.4zM523.9 432.68h2.4v2.4h-2.4zM535.02 432.68h2.4v2.4h-2.4zM583.98 432.68h2.4v2.4h-2.4zM599.55 432.68h2.4v2.4h-2.4zM601.77 432.68h2.4v2.4h-2.4zM604 432.68h2.4v2.4h-2.4zM615.12 432.68h2.4v2.4h-2.4zM664.07 468.28h2.4v2.4h-2.4zM675.2 468.28h2.4v2.4h-2.4zM679.65 468.28h2.4v2.4h-2.4zM684.1 468.28h2.4v2.4h-2.4zM686.32 468.28h2.4v2.4h-2.4zM695.23 468.28h2.4v2.4h-2.4zM701.9 468.28h2.4v2.4h-2.4zM704.12 468.28h2.4v2.4h-2.4zM710.8 468.28h2.4v2.4h-2.4zM715.25 468.28h2.4v2.4h-2.4zM717.48 468.28h2.4v2.4h-2.4zM724.15 468.28h2.4v2.4h-2.4zM726.38 468.28h2.4v2.4h-2.4zM459.38 414.88h2.4v2.4h-2.4zM461.6 414.88h2.4v2.4h-2.4zM472.73 414.88h2.4v2.4h-2.4zM479.4 414.88h2.4v2.4h-2.4zM490.53 414.88h2.4v2.4h-2.4zM535.02 414.88h2.4v2.4h-2.4zM541.7 414.88h2.4v2.4h-2.4zM546.15 414.88h2.4v2.4h-2.4zM548.38 414.88h2.4v2.4h-2.4zM552.82 414.88h2.4v2.4h-2.4zM559.5 414.88h2.4v2.4h-2.4zM561.73 414.88h2.4v2.4h-2.4zM568.4 414.88h2.4v2.4h-2.4zM572.85 414.88h2.4v2.4h-2.4zM575.07 414.88h2.4v2.4h-2.4zM579.52 414.88h2.4v2.4h-2.4zM586.2 414.88h2.4v2.4h-2.4zM628.48 457.15h2.4v2.4h-2.4zM641.82 457.15h2.4v2.4h-2.4zM644.05 457.15h2.4v2.4h-2.4zM648.5 457.15h2.4v2.4h-2.4zM652.95 457.15h2.4v2.4h-2.4zM655.17 457.15h2.4v2.4h-2.4zM661.85 457.15h2.4v2.4h-2.4zM664.07 457.15h2.4v2.4h-2.4zM668.52 457.15h2.4v2.4h-2.4zM675.2 457.15h2.4v2.4h-2.4zM684.1 457.15h2.4v2.4h-2.4zM686.32 457.15h2.4v2.4h-2.4zM690.77 457.15h2.4v2.4h-2.4zM695.23 457.15h2.4v2.4h-2.4zM699.67 457.15h2.4v2.4h-2.4zM706.35 457.15h2.4v2.4h-2.4zM715.25 457.15h2.4v2.4h-2.4zM612.9 448.25h2.4v2.4h-2.4zM624.02 448.25h2.4v2.4h-2.4zM626.25 448.25h2.4v2.4h-2.4zM628.48 448.25h2.4v2.4h-2.4zM635.15 448.25h2.4v2.4h-2.4zM637.38 448.25h2.4v2.4h-2.4zM639.6 448.25h2.4v2.4h-2.4zM650.73 448.25h2.4v2.4h-2.4zM499.43 439.35h2.4v2.4h-2.4zM506.1 439.35h2.4v2.4h-2.4zM510.55 439.35h2.4v2.4h-2.4zM512.77 439.35h2.4v2.4h-2.4zM515 439.35h2.4v2.4h-2.4zM526.12 439.35h2.4v2.4h-2.4zM592.88 439.35h2.4v2.4h-2.4zM608.45 439.35h2.4v2.4h-2.4zM610.67 439.35h2.4v2.4h-2.4zM615.12 439.35h2.4v2.4h-2.4zM619.57 439.35h2.4v2.4h-2.4zM621.8 439.35h2.4v2.4h-2.4zM635.15 439.35h2.4v2.4h-2.4zM708.57 474.95h2.4v2.4h-2.4zM717.48 474.95h2.4v2.4h-2.4zM724.15 474.95h2.4v2.4h-2.4zM733.05 474.95h2.4v2.4h-2.4zM454.93 410.43h2.4v2.4h-2.4zM466.05 410.43h2.4v2.4h-2.4zM468.28 410.43h2.4v2.4h-2.4zM483.85 410.43h2.4v2.4h-2.4zM486.08 410.43h2.4v2.4h-2.4zM530.57 410.43h2.4v2.4h-2.4zM543.92 410.43h2.4v2.4h-2.4zM546.15 410.43h2.4v2.4h-2.4zM550.6 410.43h2.4v2.4h-2.4zM555.05 410.43h2.4v2.4h-2.4zM557.27 410.43h2.4v2.4h-2.4zM563.95 410.43h2.4v2.4h-2.4zM566.17 410.43h2.4v2.4h-2.4zM570.62 410.43h2.4v2.4h-2.4zM575.07 410.43h2.4v2.4h-2.4zM577.3 410.43h2.4v2.4h-2.4zM590.65 410.43h2.4v2.4h-2.4zM494.98 443.8h2.4v2.4h-2.4zM506.1 443.8h2.4v2.4h-2.4zM510.55 443.8h2.4v2.4h-2.4zM517.23 443.8h2.4v2.4h-2.4zM604 443.8h2.4v2.4h-2.4zM615.12 443.8h2.4v2.4h-2.4zM617.35 443.8h2.4v2.4h-2.4zM619.57 443.8h2.4v2.4h-2.4zM624.02 443.8h2.4v2.4h-2.4zM630.7 443.8h2.4v2.4h-2.4zM641.82 443.8h2.4v2.4h-2.4zM459.38 405.98h2.4v2.4h-2.4zM461.6 405.98h2.4v2.4h-2.4zM481.63 405.98h2.4v2.4h-2.4zM488.3 405.98h2.4v2.4h-2.4zM539.48 405.98h2.4v2.4h-2.4zM550.6 405.98h2.4v2.4h-2.4zM555.05 405.98h2.4v2.4h-2.4zM559.5 405.98h2.4v2.4h-2.4zM561.73 405.98h2.4v2.4h-2.4zM566.17 405.98h2.4v2.4h-2.4zM570.62 405.98h2.4v2.4h-2.4zM581.75 405.98h2.4v2.4h-2.4zM621.8 452.7h2.4v2.4h-2.4zM632.92 452.7h2.4v2.4h-2.4zM639.6 452.7h2.4v2.4h-2.4zM644.05 452.7h2.4v2.4h-2.4zM646.27 452.7h2.4v2.4h-2.4zM648.5 452.7h2.4v2.4h-2.4zM657.4 452.7h2.4v2.4h-2.4zM659.62 452.7h2.4v2.4h-2.4zM664.07 452.7h2.4v2.4h-2.4zM668.52 452.7h2.4v2.4h-2.4zM679.65 452.7h2.4v2.4h-2.4zM459.38 403.75h2.4v2.4h-2.4zM461.6 403.75h2.4v2.4h-2.4zM479.4 403.75h2.4v2.4h-2.4zM490.53 403.75h2.4v2.4h-2.4zM548.38 403.75h2.4v2.4h-2.4zM557.27 403.75h2.4v2.4h-2.4zM563.95 403.75h2.4v2.4h-2.4zM572.85 403.75h2.4v2.4h-2.4zM454.93 399.3h2.4v2.4h-2.4zM466.05 399.3h2.4v2.4h-2.4zM457.15 401.53h2.4v2.4h-2.4zM463.83 401.53h2.4v2.4h-2.4zM477.18 401.53h2.4v2.4h-2.4zM492.75 401.53h2.4v2.4h-2.4z"/>
<path d="M116.73 652.95h2.4v2.4h-2.4zM127.85 652.95h2.4v2.4h-2.4zM132.3 652.95h2.4v2.4h-2.4zM136.75 652.95h2.4v2.4h-2.4zM138.98 652.95h2.4v2.4h-2.4zM145.65 652.95h2.4v2.4h-2.4zM147.88 652.95h2.4v2.4h-2.4zM152.33 652.95h2.4v2.4h-2.4zM156.78 652.95h2.4v2.4h-2.4zM161.23 652.95h2.4v2.4h-2.4zM167.9 652.95h2.4v2.4h-2.4zM176.8 652.95h2.4v2.4h-2.4zM259.12 652.95h2.4v2.4h-2.4zM270.25 652.95h2.4v2.4h-2.4zM274.7 652.95h2.4v2.4h-2.4zM281.38 652.95h2.4v2.4h-2.4zM288.05 652.95h2.4v2.4h-2.4zM299.18 652.95h2.4v2.4h-2.4zM305.85 652.95h2.4v2.4h-2.4zM310.3 652.95h2.4v2.4h-2.4zM312.53 652.95h2.4v2.4h-2.4zM319.2 652.95h2.4v2.4h-2.4zM321.43 652.95h2.4v2.4h-2.4zM328.1 652.95h2.4v2.4h-2.4zM330.33 652.95h2.4v2.4h-2.4zM334.78 652.95h2.4v2.4h-2.4zM341.45 652.95h2.4v2.4h-2.4zM343.68 652.95h2.4v2.4h-2.4zM350.35 652.95h2.4v2.4h-2.4zM352.58 652.95h2.4v2.4h-2.4zM359.25 652.95h2.4v2.4h-2.4zM368.15 652.95h2.4v2.4h-2.4zM370.38 652.95h2.4v2.4h-2.4zM379.28 652.95h2.4v2.4h-2.4zM96.7 619.57h2.4v2.4h-2.4zM107.83 619.57h2.4v2.4h-2.4zM125.62 655.17h2.4v2.4h-2.4zM134.53 655.17h2.4v2.4h-2.4zM141.2 655.17h2.4v2.4h-2.4zM143.43 655.17h2.4v2.4h-2.4zM150.1 655.17h2.4v2.4h-2.4zM159 655.17h2.4v2.4h-2.4zM268.03 655.17h2.4v2.4h-2.4zM279.15 655.17h2.4v2.4h-2.4zM283.6 655.17h2.4v2.4h-2.4zM285.83 655.17h2.4v2.4h-2.4zM290.28 655.17h2.4v2.4h-2.4zM296.95 655.17h2.4v2.4h-2.4zM301.4 655.17h2.4v2.4h-2.4zM308.08 655.17h2.4v2.4h-2.4zM314.75 655.17h2.4v2.4h-2.4zM319.2 655.17h2.4v2.4h-2.4zM321.43 655.17h2.4v2.4h-2.4zM328.1 655.17h2.4v2.4h-2.4zM330.33 655.17h2.4v2.4h-2.4zM337 655.17h2.4v2.4h-2.4zM339.23 655.17h2.4v2.4h-2.4zM345.9 655.17h2.4v2.4h-2.4zM348.12 655.17h2.4v2.4h-2.4zM354.8 655.17h2.4v2.4h-2.4zM357.03 655.17h2.4v2.4h-2.4zM361.48 655.17h2.4v2.4h-2.4zM368.15 655.17h2.4v2.4h-2.4zM370.38 655.17h2.4v2.4h-2.4zM377.05 655.17h2.4v2.4h-2.4zM112.28 641.82h2.4v2.4h-2.4zM118.95 641.82h2.4v2.4h-2.4zM121.17 641.82h2.4v2.4h-2.4zM127.85 641.82h2.4v2.4h-2.4zM136.75 641.82h2.4v2.4h-2.4zM138.98 641.82h2.4v2.4h-2.4zM145.65 641.82h2.4v2.4h-2.4zM147.88 641.82h2.4v2.4h-2.4zM156.78 641.82h2.4v2.4h-2.4zM163.45 641.82h2.4v2.4h-2.4zM165.68 641.82h2.4v2.4h-2.4zM172.35 641.82h2.4v2.4h-2.4zM176.8 641.82h2.4v2.4h-2.4zM179.03 641.82h2.4v2.4h-2.4zM185.7 641.82h2.4v2.4h-2.4zM187.93 641.82h2.4v2.4h-2.4zM192.38 641.82h2.4v2.4h-2.4zM199.05 641.82h2.4v2.4h-2.4zM203.5 641.82h2.4v2.4h-2.4zM205.73 641.82h2.4v2.4h-2.4zM212.4 641.82h2.4v2.4h-2.4zM214.63 641.82h2.4v2.4h-2.4zM221.3 641.82h2.4v2.4h-2.4zM223.53 641.82h2.4v2.4h-2.4zM230.2 641.82h2.4v2.4h-2.4zM232.43 641.82h2.4v2.4h-2.4zM239.1 641.82h2.4v2.4h-2.4zM241.33 641.82h2.4v2.4h-2.4zM248 641.82h2.4v2.4h-2.4zM250.23 641.82h2.4v2.4h-2.4zM256.9 641.82h2.4v2.4h-2.4zM259.12 641.82h2.4v2.4h-2.4zM263.58 641.82h2.4v2.4h-2.4zM270.25 641.82h2.4v2.4h-2.4zM276.93 641.82h2.4v2.4h-2.4zM281.38 641.82h2.4v2.4h-2.4zM288.05 641.82h2.4v2.4h-2.4zM292.5 641.82h2.4v2.4h-2.4zM294.73 641.82h2.4v2.4h-2.4zM299.18 641.82h2.4v2.4h-2.4zM310.3 641.82h2.4v2.4h-2.4zM110.05 644.05h2.4v2.4h-2.4zM121.17 644.05h2.4v2.4h-2.4zM123.4 644.05h2.4v2.4h-2.4zM125.62 644.05h2.4v2.4h-2.4zM130.08 644.05h2.4v2.4h-2.4zM136.75 644.05h2.4v2.4h-2.4zM138.98 644.05h2.4v2.4h-2.4zM145.65 644.05h2.4v2.4h-2.4zM147.88 644.05h2.4v2.4h-2.4zM154.55 644.05h2.4v2.4h-2.4zM159 644.05h2.4v2.4h-2.4zM161.23 644.05h2.4v2.4h-2.4zM167.9 644.05h2.4v2.4h-2.4zM170.13 644.05h2.4v2.4h-2.4zM176.8 644.05h2.4v2.4h-2.4zM179.03 644.05h2.4v2.4h-2.4zM183.48 644.05h2.4v2.4h-2.4zM190.15 644.05h2.4v2.4h-2.4zM201.28 644.05h2.4v2.4h-2.4zM207.95 644.05h2.4v2.4h-2.4zM210.18 644.05h2.4v2.4h-2.4zM216.85 644.05h2.4v2.4h-2.4zM219.08 644.05h2.4v2.4h-2.4zM225.75 644.05h2.4v2.4h-2.4zM227.98 644.05h2.4v2.4h-2.4zM234.65 644.05h2.4v2.4h-2.4zM236.88 644.05h2.4v2.4h-2.4zM243.55 644.05h2.4v2.4h-2.4zM245.78 644.05h2.4v2.4h-2.4zM252.45 644.05h2.4v2.4h-2.4zM256.9 644.05h2.4v2.4h-2.4zM259.12 644.05h2.4v2.4h-2.4zM265.8 644.05h2.4v2.4h-2.4zM268.03 644.05h2.4v2.4h-2.4zM272.48 644.05h2.4v2.4h-2.4zM279.15 644.05h2.4v2.4h-2.4zM290.28 644.05h2.4v2.4h-2.4zM296.95 644.05h2.4v2.4h-2.4zM303.62 644.05h2.4v2.4h-2.4zM308.08 644.05h2.4v2.4h-2.4zM319.2 644.05h2.4v2.4h-2.4zM92.25 592.88h2.4v2.4h-2.4zM107.83 592.88h2.4v2.4h-2.4zM107.83 646.27h2.4v2.4h-2.4zM123.4 646.27h2.4v2.4h-2.4zM125.62 646.27h2.4v2.4h-2.4zM132.3 646.27h2.4v2.4h-2.4zM134.53 646.27h2.4v2.4h-2.4zM141.2 646.27h2.4v2.4h-2.4zM143.43 646.27h2.4v2.4h-2.4zM150.1 646.27h2.4v2.4h-2.4zM152.33 646.27h2.4v2.4h-2.4zM159 646.27h2.4v2.4h-2.4zM161.23 646.27h2.4v2.4h-2.4zM167.9 646.27h2.4v2.4h-2.4zM170.13 646.27h2.4v2.4h-2.4zM174.58 646.27h2.4v2.4h-2.4zM181.25 646.27h2.4v2.4h-2.4zM187.93 646.27h2.4v2.4h-2.4zM192.38 646.27h2.4v2.4h-2.4zM199.05 646.27h2.4v2.4h-2.4zM203.5 646.27h2.4v2.4h-2.4zM207.95 646.27h2.4v2.4h-2.4zM210.18 646.27h2.4v2.4h-2.4zM216.85 646.27h2.4v2.4h-2.4zM219.08 646.27h2.4v2.4h-2.4zM225.75 646.27h2.4v2.4h-2.4zM227.98 646.27h2.4v2.4h-2.4zM234.65 646.27h2.4v2.4h-2.4zM236.88 646.27h2.4v2.4h-2.4zM243.55 646.27h2.4v2.4h-2.4zM245.78 646.27h2.4v2.4h-2.4zM254.68 646.27h2.4v2.4h-2.4zM261.35 646.27h2.4v2.4h-2.4zM265.8 646.27h2.4v2.4h-2.4zM268.03 646.27h2.4v2.4h-2.4zM274.7 646.27h2.4v2.4h-2.4zM276.93 646.27h2.4v2.4h-2.4zM281.38 646.27h2.4v2.4h-2.4zM288.05 646.27h2.4v2.4h-2.4zM292.5 646.27h2.4v2.4h-2.4zM294.73 646.27h2.4v2.4h-2.4zM299.18 646.27h2.4v2.4h-2.4zM305.85 646.27h2.4v2.4h-2.4zM312.53 646.27h2.4v2.4h-2.4zM316.98 646.27h2.4v2.4h-2.4zM321.43 646.27h2.4v2.4h-2.4zM328.1 646.27h2.4v2.4h-2.4zM337 646.27h2.4v2.4h-2.4zM103.38 635.15h2.4v2.4h-2.4zM110.05 635.15h2.4v2.4h-2.4zM112.28 635.15h2.4v2.4h-2.4zM118.95 635.15h2.4v2.4h-2.4zM170.13 635.15h2.4v2.4h-2.4zM181.25 635.15h2.4v2.4h-2.4zM185.7 635.15h2.4v2.4h-2.4zM192.38 635.15h2.4v2.4h-2.4zM199.05 635.15h2.4v2.4h-2.4zM207.95 635.15h2.4v2.4h-2.4zM210.18 635.15h2.4v2.4h-2.4zM216.85 635.15h2.4v2.4h-2.4zM219.08 635.15h2.4v2.4h-2.4zM225.75 635.15h2.4v2.4h-2.4zM227.98 635.15h2.4v2.4h-2.4zM234.65 635.15h2.4v2.4h-2.4zM236.88 635.15h2.4v2.4h-2.4zM243.55 635.15h2.4v2.4h-2.4zM245.78 635.15h2.4v2.4h-2.4zM250.23 635.15h2.4v2.4h-2.4zM254.68 635.15h2.4v2.4h-2.4zM265.8 635.15h2.4v2.4h-2.4zM118.95 650.73h2.4v2.4h-2.4zM130.08 650.73h2.4v2.4h-2.4zM136.75 650.73h2.4v2.4h-2.4zM138.98 650.73h2.4v2.4h-2.4zM145.65 650.73h2.4v2.4h-2.4zM147.88 650.73h2.4v2.4h-2.4zM154.55 650.73h2.4v2.4h-2.4zM163.45 650.73h2.4v2.4h-2.4zM165.68 650.73h2.4v2.4h-2.4zM170.13 650.73h2.4v2.4h-2.4zM174.58 650.73h2.4v2.4h-2.4zM185.7 650.73h2.4v2.4h-2.4zM250.23 650.73h2.4v2.4h-2.4zM261.35 650.73h2.4v2.4h-2.4zM265.8 650.73h2.4v2.4h-2.4zM272.48 650.73h2.4v2.4h-2.4zM279.15 650.73h2.4v2.4h-2.4zM283.6 650.73h2.4v2.4h-2.4zM285.83 650.73h2.4v2.4h-2.4zM290.28 650.73h2.4v2.4h-2.4zM296.95 650.73h2.4v2.4h-2.4zM301.4 650.73h2.4v2.4h-2.4zM303.62 650.73h2.4v2.4h-2.4zM310.3 650.73h2.4v2.4h-2.4zM312.53 650.73h2.4v2.4h-2.4zM316.98 650.73h2.4v2.4h-2.4zM323.65 650.73h2.4v2.4h-2.4zM325.88 650.73h2.4v2.4h-2.4zM332.55 650.73h2.4v2.4h-2.4zM341.45 650.73h2.4v2.4h-2.4zM343.68 650.73h2.4v2.4h-2.4zM350.35 650.73h2.4v2.4h-2.4zM352.58 650.73h2.4v2.4h-2.4zM357.03 650.73h2.4v2.4h-2.4zM361.48 650.73h2.4v2.4h-2.4zM365.93 650.73h2.4v2.4h-2.4zM372.6 650.73h2.4v2.4h-2.4zM381.5 650.73h2.4v2.4h-2.4zM312.53 661.85h2.4v2.4h-2.4zM321.43 661.85h2.4v2.4h-2.4zM328.1 661.85h2.4v2.4h-2.4zM332.55 661.85h2.4v2.4h-2.4zM337 661.85h2.4v2.4h-2.4zM341.45 661.85h2.4v2.4h-2.4zM343.68 661.85h2.4v2.4h-2.4zM350.35 661.85h2.4v2.4h-2.4zM352.58 661.85h2.4v2.4h-2.4zM361.48 661.85h2.4v2.4h-2.4zM368.15 661.85h2.4v2.4h-2.4zM370.38 661.85h2.4v2.4h-2.4zM377.05 661.85h2.4v2.4h-2.4zM121.17 648.5h2.4v2.4h-2.4zM127.85 648.5h2.4v2.4h-2.4zM132.3 648.5h2.4v2.4h-2.4zM134.53 648.5h2.4v2.4h-2.4zM141.2 648.5h2.4v2.4h-2.4zM143.43 648.5h2.4v2.4h-2.4zM150.1 648.5h2.4v2.4h-2.4zM152.33 648.5h2.4v2.4h-2.4zM156.78 648.5h2.4v2.4h-2.4zM163.45 648.5h2.4v2.4h-2.4zM165.68 648.5h2.4v2.4h-2.4zM172.35 648.5h2.4v2.4h-2.4zM179.03 648.5h2.4v2.4h-2.4zM183.48 648.5h2.4v2.4h-2.4zM194.6 648.5h2.4v2.4h-2.4zM196.83 648.5h2.4v2.4h-2.4zM205.73 648.5h2.4v2.4h-2.4zM212.4 648.5h2.4v2.4h-2.4zM214.63 648.5h2.4v2.4h-2.4zM221.3 648.5h2.4v2.4h-2.4zM223.53 648.5h2.4v2.4h-2.4zM230.2 648.5h2.4v2.4h-2.4zM232.43 648.5h2.4v2.4h-2.4zM239.1 648.5h2.4v2.4h-2.4zM241.33 648.5h2.4v2.4h-2.4zM248 648.5h2.4v2.4h-2.4zM252.45 648.5h2.4v2.4h-2.4zM256.9 648.5h2.4v2.4h-2.4zM263.58 648.5h2.4v2.4h-2.4zM270.25 648.5h2.4v2.4h-2.4zM274.7 648.5h2.4v2.4h-2.4zM276.93 648.5h2.4v2.4h-2.4zM283.6 648.5h2.4v2.4h-2.4zM285.83 648.5h2.4v2.4h-2.4zM292.5 648.5h2.4v2.4h-2.4zM294.73 648.5h2.4v2.4h-2.4zM301.4 648.5h2.4v2.4h-2.4zM303.62 648.5h2.4v2.4h-2.4zM308.08 648.5h2.4v2.4h-2.4zM314.75 648.5h2.4v2.4h-2.4zM323.65 648.5h2.4v2.4h-2.4zM325.88 648.5h2.4v2.4h-2.4zM330.33 648.5h2.4v2.4h-2.4zM334.78 648.5h2.4v2.4h-2.4zM339.23 648.5h2.4v2.4h-2.4zM345.9 648.5h2.4v2.4h-2.4zM348.12 648.5h2.4v2.4h-2.4zM354.8 648.5h2.4v2.4h-2.4zM363.7 648.5h2.4v2.4h-2.4zM98.92 639.6h2.4v2.4h-2.4zM114.5 639.6h2.4v2.4h-2.4zM116.73 639.6h2.4v2.4h-2.4zM118.95 639.6h2.4v2.4h-2.4zM125.62 639.6h2.4v2.4h-2.4zM130.08 639.6h2.4v2.4h-2.4zM134.53 639.6h2.4v2.4h-2.4zM141.2 639.6h2.4v2.4h-2.4zM143.43 639.6h2.4v2.4h-2.4zM150.1 639.6h2.4v2.4h-2.4zM154.55 639.6h2.4v2.4h-2.4zM159 639.6h2.4v2.4h-2.4zM163.45 639.6h2.4v2.4h-2.4zM165.68 639.6h2.4v2.4h-2.4zM174.58 639.6h2.4v2.4h-2.4zM181.25 639.6h2.4v2.4h-2.4zM185.7 639.6h2.4v2.4h-2.4zM187.93 639.6h2.4v2.4h-2.4zM194.6 639.6h2.4v2.4h-2.4zM196.83 639.6h2.4v2.4h-2.4zM203.5 639.6h2.4v2.4h-2.4zM205.73 639.6h2.4v2.4h-2.4zM212.4 639.6h2.4v2.4h-2.4zM214.63 639.6h2.4v2.4h-2.4zM221.3 639.6h2.4v2.4h-2.4zM223.53 639.6h2.4v2.4h-2.4zM230.2 639.6h2.4v2.4h-2.4zM232.43 639.6h2.4v2.4h-2.4zM239.1 639.6h2.4v2.4h-2.4zM241.33 639.6h2.4v2.4h-2.4zM248 639.6h2.4v2.4h-2.4zM250.23 639.6h2.4v2.4h-2.4zM254.68 639.6h2.4v2.4h-2.4zM261.35 639.6h2.4v2.4h-2.4zM268.03 639.6h2.4v2.4h-2.4zM272.48 639.6h2.4v2.4h-2.4zM283.6 639.6h2.4v2.4h-2.4zM285.83 639.6h2.4v2.4h-2.4zM301.4 639.6h2.4v2.4h-2.4zM303.62 659.62h2.4v2.4h-2.4zM314.75 659.62h2.4v2.4h-2.4zM319.2 659.62h2.4v2.4h-2.4zM323.65 659.62h2.4v2.4h-2.4zM325.88 659.62h2.4v2.4h-2.4zM334.78 659.62h2.4v2.4h-2.4zM341.45 659.62h2.4v2.4h-2.4zM343.68 659.62h2.4v2.4h-2.4zM350.35 659.62h2.4v2.4h-2.4zM352.58 659.62h2.4v2.4h-2.4zM359.25 659.62h2.4v2.4h-2.4zM363.7 659.62h2.4v2.4h-2.4zM365.93 659.62h2.4v2.4h-2.4zM372.6 659.62h2.4v2.4h-2.4zM374.83 659.62h2.4v2.4h-2.4zM101.15 637.38h2.4v2.4h-2.4zM112.28 637.38h2.4v2.4h-2.4zM114.5 637.38h2.4v2.4h-2.4zM116.73 637.38h2.4v2.4h-2.4zM132.3 637.38h2.4v2.4h-2.4zM152.33 637.38h2.4v2.4h-2.4zM161.23 637.38h2.4v2.4h-2.4zM167.9 637.38h2.4v2.4h-2.4zM172.35 637.38h2.4v2.4h-2.4zM176.8 637.38h2.4v2.4h-2.4zM183.48 637.38h2.4v2.4h-2.4zM190.15 637.38h2.4v2.4h-2.4zM194.6 637.38h2.4v2.4h-2.4zM196.83 637.38h2.4v2.4h-2.4zM201.28 637.38h2.4v2.4h-2.4zM207.95 637.38h2.4v2.4h-2.4zM210.18 637.38h2.4v2.4h-2.4zM216.85 637.38h2.4v2.4h-2.4zM219.08 637.38h2.4v2.4h-2.4zM225.75 637.38h2.4v2.4h-2.4zM227.98 637.38h2.4v2.4h-2.4zM234.65 637.38h2.4v2.4h-2.4zM236.88 637.38h2.4v2.4h-2.4zM243.55 637.38h2.4v2.4h-2.4zM245.78 637.38h2.4v2.4h-2.4zM252.45 637.38h2.4v2.4h-2.4zM259.12 637.38h2.4v2.4h-2.4zM263.58 637.38h2.4v2.4h-2.4zM274.7 637.38h2.4v2.4h-2.4zM96.7 608.45h2.4v2.4h-2.4zM107.83 608.45h2.4v2.4h-2.4zM276.93 657.4h2.4v2.4h-2.4zM292.5 657.4h2.4v2.4h-2.4zM294.73 657.4h2.4v2.4h-2.4zM305.85 657.4h2.4v2.4h-2.4zM310.3 657.4h2.4v2.4h-2.4zM316.98 657.4h2.4v2.4h-2.4zM323.65 657.4h2.4v2.4h-2.4zM325.88 657.4h2.4v2.4h-2.4zM332.55 657.4h2.4v2.4h-2.4zM337 657.4h2.4v2.4h-2.4zM339.23 657.4h2.4v2.4h-2.4zM345.9 657.4h2.4v2.4h-2.4zM348.12 657.4h2.4v2.4h-2.4zM354.8 657.4h2.4v2.4h-2.4zM357.03 657.4h2.4v2.4h-2.4zM363.7 657.4h2.4v2.4h-2.4zM365.93 657.4h2.4v2.4h-2.4zM372.6 657.4h2.4v2.4h-2.4zM374.83 657.4h2.4v2.4h-2.4zM105.6 632.92h2.4v2.4h-2.4zM107.83 632.92h2.4v2.4h-2.4zM110.05 632.92h2.4v2.4h-2.4zM121.17 632.92h2.4v2.4h-2.4zM179.03 632.92h2.4v2.4h-2.4zM190.15 632.92h2.4v2.4h-2.4zM194.6 632.92h2.4v2.4h-2.4zM196.83 632.92h2.4v2.4h-2.4zM201.28 632.92h2.4v2.4h-2.4zM205.73 632.92h2.4v2.4h-2.4zM212.4 632.92h2.4v2.4h-2.4zM214.63 632.92h2.4v2.4h-2.4zM221.3 632.92h2.4v2.4h-2.4zM223.53 632.92h2.4v2.4h-2.4zM230.2 632.92h2.4v2.4h-2.4zM232.43 632.92h2.4v2.4h-2.4zM239.1 632.92h2.4v2.4h-2.4zM241.33 632.92h2.4v2.4h-2.4zM248 632.92h2.4v2.4h-2.4zM256.9 632.92h2.4v2.4h-2.4zM98.92 583.98h2.4v2.4h-2.4zM101.15 583.98h2.4v2.4h-2.4zM98.92 624.02h2.4v2.4h-2.4zM114.5 624.02h2.4v2.4h-2.4zM98.92 586.2h2.4v2.4h-2.4zM101.15 586.2h2.4v2.4h-2.4zM92.25 577.3h2.4v2.4h-2.4zM107.83 577.3h2.4v2.4h-2.4zM357.03 666.3h2.4v2.4h-2.4zM365.93 666.3h2.4v2.4h-2.4zM372.6 666.3h2.4v2.4h-2.4zM381.5 666.3h2.4v2.4h-2.4zM330.33 664.07h2.4v2.4h-2.4zM339.23 664.07h2.4v2.4h-2.4zM345.9 664.07h2.4v2.4h-2.4zM348.12 664.07h2.4v2.4h-2.4zM354.8 664.07h2.4v2.4h-2.4zM359.25 664.07h2.4v2.4h-2.4zM363.7 664.07h2.4v2.4h-2.4zM368.15 664.07h2.4v2.4h-2.4zM370.38 664.07h2.4v2.4h-2.4zM379.28 664.07h2.4v2.4h-2.4zM96.7 588.42h2.4v2.4h-2.4zM103.38 588.42h2.4v2.4h-2.4zM105.6 630.7h2.4v2.4h-2.4zM107.83 630.7h2.4v2.4h-2.4zM123.4 630.7h2.4v2.4h-2.4zM187.93 630.7h2.4v2.4h-2.4zM203.5 630.7h2.4v2.4h-2.4zM101.15 626.25h2.4v2.4h-2.4zM112.28 626.25h2.4v2.4h-2.4zM94.47 606.23h2.4v2.4h-2.4zM110.05 606.23h2.4v2.4h-2.4zM103.38 628.48h2.4v2.4h-2.4zM110.05 628.48h2.4v2.4h-2.4zM94.47 621.8h2.4v2.4h-2.4zM110.05 621.8h2.4v2.4h-2.4zM101.15 615.12h2.4v2.4h-2.4zM103.38 615.12h2.4v2.4h-2.4zM98.92 610.67h2.4v2.4h-2.4zM105.6 610.67h2.4v2.4h-2.4zM101.15 612.9h2.4v2.4h-2.4zM103.38 612.9h2.4v2.4h-2.4zM94.47 590.65h2.4v2.4h-2.4zM105.6 590.65h2.4v2.4h-2.4zM94.47 579.52h2.4v2.4h-2.4zM105.6 579.52h2.4v2.4h-2.4zM98.92 617.35h2.4v2.4h-2.4zM105.6 617.35h2.4v2.4h-2.4zM96.7 581.75h2.4v2.4h-2.4zM103.38 581.75h2.4v2.4h-2.4z"/>
<path d="M468.28 639.6h2.4v2.4h-2.4zM470.5 639.6h2.4v2.4h-2.4zM481.63 639.6h2.4v2.4h-2.4zM566.17 639.6h2.4v2.4h-2.4zM575.07 639.6h2.4v2.4h-2.4zM581.75 639.6h2.4v2.4h-2.4zM590.65 639.6h2.4v2.4h-2.4zM592.88 639.6h2.4v2.4h-2.4zM601.77 639.6h2.4v2.4h-2.4zM608.45 639.6h2.4v2.4h-2.4zM617.35 639.6h2.4v2.4h-2.4zM486.08 659.62h2.4v2.4h-2.4zM494.98 659.62h2.4v2.4h-2.4zM501.65 659.62h2.4v2.4h-2.4zM506.1 659.62h2.4v2.4h-2.4zM510.55 659.62h2.4v2.4h-2.4zM512.77 659.62h2.4v2.4h-2.4zM517.23 659.62h2.4v2.4h-2.4zM521.67 659.62h2.4v2.4h-2.4zM528.35 659.62h2.4v2.4h-2.4zM537.25 659.62h2.4v2.4h-2.4zM637.38 659.62h2.4v2.4h-2.4zM646.27 659.62h2.4v2.4h-2.4zM652.95 659.62h2.4v2.4h-2.4zM657.4 659.62h2.4v2.4h-2.4zM661.85 659.62h2.4v2.4h-2.4zM666.3 659.62h2.4v2.4h-2.4zM668.52 659.62h2.4v2.4h-2.4zM675.2 659.62h2.4v2.4h-2.4zM677.42 659.62h2.4v2.4h-2.4zM686.32 659.62h2.4v2.4h-2.4zM693 659.62h2.4v2.4h-2.4zM695.23 659.62h2.4v2.4h-2.4zM701.9 659.62h2.4v2.4h-2.4zM704.12 659.62h2.4v2.4h-2.4zM710.8 659.62h2.4v2.4h-2.4zM715.25 659.62h2.4v2.4h-2.4zM717.48 659.62h2.4v2.4h-2.4zM724.15 659.62h2.4v2.4h-2.4zM726.38 659.62h2.4v2.4h-2.4zM463.83 644.05h2.4v2.4h-2.4zM474.95 644.05h2.4v2.4h-2.4zM477.18 644.05h2.4v2.4h-2.4zM479.4 644.05h2.4v2.4h-2.4zM486.08 644.05h2.4v2.4h-2.4zM490.53 644.05h2.4v2.4h-2.4zM494.98 644.05h2.4v2.4h-2.4zM501.65 644.05h2.4v2.4h-2.4zM510.55 644.05h2.4v2.4h-2.4zM512.77 644.05h2.4v2.4h-2.4zM521.67 644.05h2.4v2.4h-2.4zM528.35 644.05h2.4v2.4h-2.4zM532.8 644.05h2.4v2.4h-2.4zM537.25 644.05h2.4v2.4h-2.4zM541.7 644.05h2.4v2.4h-2.4zM543.92 644.05h2.4v2.4h-2.4zM550.6 644.05h2.4v2.4h-2.4zM552.82 644.05h2.4v2.4h-2.4zM559.5 644.05h2.4v2.4h-2.4zM561.73 644.05h2.4v2.4h-2.4zM570.62 644.05h2.4v2.4h-2.4zM577.3 644.05h2.4v2.4h-2.4zM579.52 644.05h2.4v2.4h-2.4zM586.2 644.05h2.4v2.4h-2.4zM597.32 644.05h2.4v2.4h-2.4zM604 644.05h2.4v2.4h-2.4zM606.23 644.05h2.4v2.4h-2.4zM612.9 644.05h2.4v2.4h-2.4zM621.8 644.05h2.4v2.4h-2.4zM624.02 644.05h2.4v2.4h-2.4zM630.7 644.05h2.4v2.4h-2.4zM632.92 644.05h2.4v2.4h-2.4zM637.38 644.05h2.4v2.4h-2.4zM641.82 644.05h2.4v2.4h-2.4zM646.27 644.05h2.4v2.4h-2.4zM652.95 644.05h2.4v2.4h-2.4zM661.85 644.05h2.4v2.4h-2.4zM461.6 646.27h2.4v2.4h-2.4zM474.95 646.27h2.4v2.4h-2.4zM477.18 646.27h2.4v2.4h-2.4zM481.63 646.27h2.4v2.4h-2.4zM488.3 646.27h2.4v2.4h-2.4zM497.2 646.27h2.4v2.4h-2.4zM499.43 646.27h2.4v2.4h-2.4zM503.88 646.27h2.4v2.4h-2.4zM508.33 646.27h2.4v2.4h-2.4zM515 646.27h2.4v2.4h-2.4zM519.45 646.27h2.4v2.4h-2.4zM523.9 646.27h2.4v2.4h-2.4zM526.12 646.27h2.4v2.4h-2.4zM535.02 646.27h2.4v2.4h-2.4zM541.7 646.27h2.4v2.4h-2.4zM543.92 646.27h2.4v2.4h-2.4zM550.6 646.27h2.4v2.4h-2.4zM552.82 646.27h2.4v2.4h-2.4zM559.5 646.27h2.4v2.4h-2.4zM561.73 646.27h2.4v2.4h-2.4zM568.4 646.27h2.4v2.4h-2.4zM572.85 646.27h2.4v2.4h-2.4zM575.07 646.27h2.4v2.4h-2.4zM581.75 646.27h2.4v2.4h-2.4zM583.98 646.27h2.4v2.4h-2.4zM588.42 646.27h2.4v2.4h-2.4zM595.1 646.27h2.4v2.4h-2.4zM599.55 646.27h2.4v2.4h-2.4zM601.77 646.27h2.4v2.4h-2.4zM608.45 646.27h2.4v2.4h-2.4zM610.67 646.27h2.4v2.4h-2.4zM615.12 646.27h2.4v2.4h-2.4zM621.8 646.27h2.4v2.4h-2.4zM624.02 646.27h2.4v2.4h-2.4zM630.7 646.27h2.4v2.4h-2.4zM632.92 646.27h2.4v2.4h-2.4zM639.6 646.27h2.4v2.4h-2.4zM648.5 646.27h2.4v2.4h-2.4zM650.73 646.27h2.4v2.4h-2.4zM655.17 646.27h2.4v2.4h-2.4zM659.62 646.27h2.4v2.4h-2.4zM664.07 646.27h2.4v2.4h-2.4zM670.75 646.27h2.4v2.4h-2.4zM672.98 646.27h2.4v2.4h-2.4zM679.65 646.27h2.4v2.4h-2.4zM688.55 646.27h2.4v2.4h-2.4zM468.28 652.95h2.4v2.4h-2.4zM481.63 652.95h2.4v2.4h-2.4zM483.85 652.95h2.4v2.4h-2.4zM488.3 652.95h2.4v2.4h-2.4zM492.75 652.95h2.4v2.4h-2.4zM494.98 652.95h2.4v2.4h-2.4zM501.65 652.95h2.4v2.4h-2.4zM503.88 652.95h2.4v2.4h-2.4zM510.55 652.95h2.4v2.4h-2.4zM512.77 652.95h2.4v2.4h-2.4zM519.45 652.95h2.4v2.4h-2.4zM521.67 652.95h2.4v2.4h-2.4zM528.35 652.95h2.4v2.4h-2.4zM530.57 652.95h2.4v2.4h-2.4zM535.02 652.95h2.4v2.4h-2.4zM541.7 652.95h2.4v2.4h-2.4zM543.92 652.95h2.4v2.4h-2.4zM550.6 652.95h2.4v2.4h-2.4zM552.82 652.95h2.4v2.4h-2.4zM559.5 652.95h2.4v2.4h-2.4zM561.73 652.95h2.4v2.4h-2.4zM568.4 652.95h2.4v2.4h-2.4zM577.3 652.95h2.4v2.4h-2.4zM579.52 652.95h2.4v2.4h-2.4zM588.42 652.95h2.4v2.4h-2.4zM595.1 652.95h2.4v2.4h-2.4zM604 652.95h2.4v2.4h-2.4zM606.23 652.95h2.4v2.4h-2.4zM615.12 652.95h2.4v2.4h-2.4zM621.8 652.95h2.4v2.4h-2.4zM624.02 652.95h2.4v2.4h-2.4zM630.7 652.95h2.4v2.4h-2.4zM632.92 652.95h2.4v2.4h-2.4zM639.6 652.95h2.4v2.4h-2.4zM644.05 652.95h2.4v2.4h-2.4zM646.27 652.95h2.4v2.4h-2.4zM652.95 652.95h2.4v2.4h-2.4zM655.17 652.95h2.4v2.4h-2.4zM661.85 652.95h2.4v2.4h-2.4zM664.07 652.95h2.4v2.4h-2.4zM670.75 652.95h2.4v2.4h-2.4zM672.98 652.95h2.4v2.4h-2.4zM679.65 652.95h2.4v2.4h-2.4zM681.88 652.95h2.4v2.4h-2.4zM686.32 652.95h2.4v2.4h-2.4zM693 652.95h2.4v2.4h-2.4zM695.23 652.95h2.4v2.4h-2.4zM701.9 652.95h2.4v2.4h-2.4zM704.12 652.95h2.4v2.4h-2.4zM710.8 652.95h2.4v2.4h-2.4zM719.7 652.95h2.4v2.4h-2.4zM721.92 652.95h2.4v2.4h-2.4zM730.82 652.95h2.4v2.4h-2.4zM477.18 657.4h2.4v2.4h-2.4zM488.3 657.4h2.4v2.4h-2.4zM492.75 657.4h2.4v2.4h-2.4zM497.2 657.4h2.4v2.4h-2.4zM499.43 657.4h2.4v2.4h-2.4zM508.33 657.4h2.4v2.4h-2.4zM515 657.4h2.4v2.4h-2.4zM523.9 657.4h2.4v2.4h-2.4zM526.12 657.4h2.4v2.4h-2.4zM530.57 657.4h2.4v2.4h-2.4zM535.02 657.4h2.4v2.4h-2.4zM539.48 657.4h2.4v2.4h-2.4zM546.15 657.4h2.4v2.4h-2.4zM548.38 657.4h2.4v2.4h-2.4zM555.05 657.4h2.4v2.4h-2.4zM557.27 657.4h2.4v2.4h-2.4zM563.95 657.4h2.4v2.4h-2.4zM572.85 657.4h2.4v2.4h-2.4zM583.98 657.4h2.4v2.4h-2.4zM599.55 657.4h2.4v2.4h-2.4zM610.67 657.4h2.4v2.4h-2.4zM619.57 657.4h2.4v2.4h-2.4zM626.25 657.4h2.4v2.4h-2.4zM628.48 657.4h2.4v2.4h-2.4zM635.15 657.4h2.4v2.4h-2.4zM639.6 657.4h2.4v2.4h-2.4zM644.05 657.4h2.4v2.4h-2.4zM648.5 657.4h2.4v2.4h-2.4zM650.73 657.4h2.4v2.4h-2.4zM659.62 657.4h2.4v2.4h-2.4zM666.3 657.4h2.4v2.4h-2.4zM668.52 657.4h2.4v2.4h-2.4zM675.2 657.4h2.4v2.4h-2.4zM677.42 657.4h2.4v2.4h-2.4zM684.1 657.4h2.4v2.4h-2.4zM688.55 657.4h2.4v2.4h-2.4zM690.77 657.4h2.4v2.4h-2.4zM697.45 657.4h2.4v2.4h-2.4zM699.67 657.4h2.4v2.4h-2.4zM706.35 657.4h2.4v2.4h-2.4zM708.57 657.4h2.4v2.4h-2.4zM715.25 657.4h2.4v2.4h-2.4zM717.48 657.4h2.4v2.4h-2.4zM724.15 657.4h2.4v2.4h-2.4zM726.38 657.4h2.4v2.4h-2.4zM479.4 655.17h2.4v2.4h-2.4zM490.53 655.17h2.4v2.4h-2.4zM497.2 655.17h2.4v2.4h-2.4zM499.43 655.17h2.4v2.4h-2.4zM506.1 655.17h2.4v2.4h-2.4zM510.55 655.17h2.4v2.4h-2.4zM512.77 655.17h2.4v2.4h-2.4zM517.23 655.17h2.4v2.4h-2.4zM523.9 655.17h2.4v2.4h-2.4zM526.12 655.17h2.4v2.4h-2.4zM532.8 655.17h2.4v2.4h-2.4zM541.7 655.17h2.4v2.4h-2.4zM543.92 655.17h2.4v2.4h-2.4zM550.6 655.17h2.4v2.4h-2.4zM552.82 655.17h2.4v2.4h-2.4zM559.5 655.17h2.4v2.4h-2.4zM561.73 655.17h2.4v2.4h-2.4zM566.17 655.17h2.4v2.4h-2.4zM570.62 655.17h2.4v2.4h-2.4zM575.07 655.17h2.4v2.4h-2.4zM581.75 655.17h2.4v2.4h-2.4zM586.2 655.17h2.4v2.4h-2.4zM590.65 655.17h2.4v2.4h-2.4zM592.88 655.17h2.4v2.4h-2.4zM597.32 655.17h2.4v2.4h-2.4zM601.77 655.17h2.4v2.4h-2.4zM608.45 655.17h2.4v2.4h-2.4zM612.9 655.17h2.4v2.4h-2.4zM617.35 655.17h2.4v2.4h-2.4zM621.8 655.17h2.4v2.4h-2.4zM624.02 655.17h2.4v2.4h-2.4zM630.7 655.17h2.4v2.4h-2.4zM632.92 655.17h2.4v2.4h-2.4zM641.82 655.17h2.4v2.4h-2.4zM648.5 655.17h2.4v2.4h-2.4zM650.73 655.17h2.4v2.4h-2.4zM657.4 655.17h2.4v2.4h-2.4zM661.85 655.17h2.4v2.4h-2.4zM664.07 655.17h2.4v2.4h-2.4zM670.75 655.17h2.4v2.4h-2.4zM672.98 655.17h2.4v2.4h-2.4zM679.65 655.17h2.4v2.4h-2.4zM681.88 655.17h2.4v2.4h-2.4zM688.55 655.17h2.4v2.4h-2.4zM690.77 655.17h2.4v2.4h-2.4zM697.45 655.17h2.4v2.4h-2.4zM699.67 655.17h2.4v2.4h-2.4zM706.35 655.17h2.4v2.4h-2.4zM708.57 655.17h2.4v2.4h-2.4zM713.02 655.17h2.4v2.4h-2.4zM719.7 655.17h2.4v2.4h-2.4zM721.92 655.17h2.4v2.4h-2.4zM728.6 655.17h2.4v2.4h-2.4zM470.5 650.73h2.4v2.4h-2.4zM481.63 650.73h2.4v2.4h-2.4zM483.85 650.73h2.4v2.4h-2.4zM486.08 650.73h2.4v2.4h-2.4zM492.75 650.73h2.4v2.4h-2.4zM494.98 650.73h2.4v2.4h-2.4zM501.65 650.73h2.4v2.4h-2.4zM503.88 650.73h2.4v2.4h-2.4zM508.33 650.73h2.4v2.4h-2.4zM515 650.73h2.4v2.4h-2.4zM519.45 650.73h2.4v2.4h-2.4zM521.67 650.73h2.4v2.4h-2.4zM528.35 650.73h2.4v2.4h-2.4zM530.57 650.73h2.4v2.4h-2.4zM537.25 650.73h2.4v2.4h-2.4zM539.48 650.73h2.4v2.4h-2.4zM546.15 650.73h2.4v2.4h-2.4zM548.38 650.73h2.4v2.4h-2.4zM555.05 650.73h2.4v2.4h-2.4zM557.27 650.73h2.4v2.4h-2.4zM563.95 650.73h2.4v2.4h-2.4zM566.17 650.73h2.4v2.4h-2.4zM570.62 650.73h2.4v2.4h-2.4zM577.3 650.73h2.4v2.4h-2.4zM579.52 650.73h2.4v2.4h-2.4zM586.2 650.73h2.4v2.4h-2.4zM590.65 650.73h2.4v2.4h-2.4zM592.88 650.73h2.4v2.4h-2.4zM597.32 650.73h2.4v2.4h-2.4zM604 650.73h2.4v2.4h-2.4zM606.23 650.73h2.4v2.4h-2.4zM612.9 650.73h2.4v2.4h-2.4zM617.35 650.73h2.4v2.4h-2.4zM619.57 650.73h2.4v2.4h-2.4zM626.25 650.73h2.4v2.4h-2.4zM628.48 650.73h2.4v2.4h-2.4zM635.15 650.73h2.4v2.4h-2.4zM637.38 650.73h2.4v2.4h-2.4zM644.05 650.73h2.4v2.4h-2.4zM646.27 650.73h2.4v2.4h-2.4zM652.95 650.73h2.4v2.4h-2.4zM655.17 650.73h2.4v2.4h-2.4zM659.62 650.73h2.4v2.4h-2.4zM666.3 650.73h2.4v2.4h-2.4zM668.52 650.73h2.4v2.4h-2.4zM675.2 650.73h2.4v2.4h-2.4zM677.42 650.73h2.4v2.4h-2.4zM684.1 650.73h2.4v2.4h-2.4zM693 650.73h2.4v2.4h-2.4zM695.23 650.73h2.4v2.4h-2.4zM701.9 650.73h2.4v2.4h-2.4zM704.12 650.73h2.4v2.4h-2.4zM708.57 650.73h2.4v2.4h-2.4zM713.02 650.73h2.4v2.4h-2.4zM717.48 650.73h2.4v2.4h-2.4zM724.15 650.73h2.4v2.4h-2.4zM733.05 650.73h2.4v2.4h-2.4zM503.88 661.85h2.4v2.4h-2.4zM519.45 661.85h2.4v2.4h-2.4zM655.17 661.85h2.4v2.4h-2.4zM664.07 661.85h2.4v2.4h-2.4zM670.75 661.85h2.4v2.4h-2.4zM672.98 661.85h2.4v2.4h-2.4zM679.65 661.85h2.4v2.4h-2.4zM684.1 661.85h2.4v2.4h-2.4zM688.55 661.85h2.4v2.4h-2.4zM693 661.85h2.4v2.4h-2.4zM695.23 661.85h2.4v2.4h-2.4zM701.9 661.85h2.4v2.4h-2.4zM704.12 661.85h2.4v2.4h-2.4zM713.02 661.85h2.4v2.4h-2.4zM719.7 661.85h2.4v2.4h-2.4zM721.92 661.85h2.4v2.4h-2.4zM728.6 661.85h2.4v2.4h-2.4zM708.57 666.3h2.4v2.4h-2.4zM717.48 666.3h2.4v2.4h-2.4zM724.15 666.3h2.4v2.4h-2.4zM733.05 666.3h2.4v2.4h-2.4zM466.05 641.82h2.4v2.4h-2.4zM472.73 641.82h2.4v2.4h-2.4zM477.18 641.82h2.4v2.4h-2.4zM479.4 641.82h2.4v2.4h-2.4zM492.75 641.82h2.4v2.4h-2.4zM530.57 641.82h2.4v2.4h-2.4zM539.48 641.82h2.4v2.4h-2.4zM546.15 641.82h2.4v2.4h-2.4zM548.38 641.82h2.4v2.4h-2.4zM555.05 641.82h2.4v2.4h-2.4zM557.27 641.82h2.4v2.4h-2.4zM563.95 641.82h2.4v2.4h-2.4zM568.4 641.82h2.4v2.4h-2.4zM572.85 641.82h2.4v2.4h-2.4zM577.3 641.82h2.4v2.4h-2.4zM579.52 641.82h2.4v2.4h-2.4zM583.98 641.82h2.4v2.4h-2.4zM588.42 641.82h2.4v2.4h-2.4zM595.1 641.82h2.4v2.4h-2.4zM599.55 641.82h2.4v2.4h-2.4zM604 641.82h2.4v2.4h-2.4zM606.23 641.82h2.4v2.4h-2.4zM610.67 641.82h2.4v2.4h-2.4zM615.12 641.82h2.4v2.4h-2.4zM619.57 641.82h2.4v2.4h-2.4zM626.25 641.82h2.4v2.4h-2.4zM628.48 641.82h2.4v2.4h-2.4zM635.15 641.82h2.4v2.4h-2.4zM644.05 641.82h2.4v2.4h-2.4zM472.73 648.5h2.4v2.4h-2.4zM479.4 648.5h2.4v2.4h-2.4zM483.85 648.5h2.4v2.4h-2.4zM486.08 648.5h2.4v2.4h-2.4zM490.53 648.5h2.4v2.4h-2.4zM497.2 648.5h2.4v2.4h-2.4zM499.43 648.5h2.4v2.4h-2.4zM506.1 648.5h2.4v2.4h-2.4zM517.23 648.5h2.4v2.4h-2.4zM523.9 648.5h2.4v2.4h-2.4zM526.12 648.5h2.4v2.4h-2.4zM532.8 648.5h2.4v2.4h-2.4zM537.25 648.5h2.4v2.4h-2.4zM539.48 648.5h2.4v2.4h-2.4zM546.15 648.5h2.4v2.4h-2.4zM548.38 648.5h2.4v2.4h-2.4zM555.05 648.5h2.4v2.4h-2.4zM557.27 648.5h2.4v2.4h-2.4zM563.95 648.5h2.4v2.4h-2.4zM566.17 648.5h2.4v2.4h-2.4zM572.85 648.5h2.4v2.4h-2.4zM575.07 648.5h2.4v2.4h-2.4zM581.75 648.5h2.4v2.4h-2.4zM583.98 648.5h2.4v2.4h-2.4zM590.65 648.5h2.4v2.4h-2.4zM592.88 648.5h2.4v2.4h-2.4zM599.55 648.5h2.4v2.4h-2.4zM601.77 648.5h2.4v2.4h-2.4zM608.45 648.5h2.4v2.4h-2.4zM610.67 648.5h2.4v2.4h-2.4zM617.35 648.5h2.4v2.4h-2.4zM619.57 648.5h2.4v2.4h-2.4zM626.25 648.5h2.4v2.4h-2.4zM628.48 648.5h2.4v2.4h-2.4zM635.15 648.5h2.4v2.4h-2.4zM637.38 648.5h2.4v2.4h-2.4zM641.82 648.5h2.4v2.4h-2.4zM648.5 648.5h2.4v2.4h-2.4zM650.73 648.5h2.4v2.4h-2.4zM657.4 648.5h2.4v2.4h-2.4zM666.3 648.5h2.4v2.4h-2.4zM668.52 648.5h2.4v2.4h-2.4zM675.2 648.5h2.4v2.4h-2.4zM677.42 648.5h2.4v2.4h-2.4zM681.88 648.5h2.4v2.4h-2.4zM686.32 648.5h2.4v2.4h-2.4zM690.77 648.5h2.4v2.4h-2.4zM697.45 648.5h2.4v2.4h-2.4zM699.67 648.5h2.4v2.4h-2.4zM706.35 648.5h2.4v2.4h-2.4zM715.25 648.5h2.4v2.4h-2.4zM452.7 619.57h2.4v2.4h-2.4zM468.28 619.57h2.4v2.4h-2.4zM459.38 572.85h2.4v2.4h-2.4zM461.6 572.85h2.4v2.4h-2.4zM459.38 612.9h2.4v2.4h-2.4zM461.6 612.9h2.4v2.4h-2.4zM457.15 575.07h2.4v2.4h-2.4zM463.83 575.07h2.4v2.4h-2.4zM457.15 615.12h2.4v2.4h-2.4zM463.83 615.12h2.4v2.4h-2.4zM681.88 664.07h2.4v2.4h-2.4zM690.77 664.07h2.4v2.4h-2.4zM697.45 664.07h2.4v2.4h-2.4zM699.67 664.07h2.4v2.4h-2.4zM706.35 664.07h2.4v2.4h-2.4zM710.8 664.07h2.4v2.4h-2.4zM715.25 664.07h2.4v2.4h-2.4zM719.7 664.07h2.4v2.4h-2.4zM721.92 664.07h2.4v2.4h-2.4zM730.82 664.07h2.4v2.4h-2.4zM468.28 637.38h2.4v2.4h-2.4zM470.5 637.38h2.4v2.4h-2.4zM483.85 637.38h2.4v2.4h-2.4zM459.38 570.62h2.4v2.4h-2.4zM461.6 570.62h2.4v2.4h-2.4zM459.38 610.67h2.4v2.4h-2.4zM461.6 610.67h2.4v2.4h-2.4zM452.7 563.95h2.4v2.4h-2.4zM468.28 563.95h2.4v2.4h-2.4zM463.83 632.92h2.4v2.4h-2.4zM474.95 632.92h2.4v2.4h-2.4zM454.93 577.3h2.4v2.4h-2.4zM466.05 577.3h2.4v2.4h-2.4zM454.93 617.35h2.4v2.4h-2.4zM466.05 617.35h2.4v2.4h-2.4zM452.7 579.52h2.4v2.4h-2.4zM468.28 579.52h2.4v2.4h-2.4zM454.93 566.17h2.4v2.4h-2.4zM466.05 566.17h2.4v2.4h-2.4zM454.93 606.23h2.4v2.4h-2.4zM466.05 606.23h2.4v2.4h-2.4zM457.15 568.4h2.4v2.4h-2.4zM463.83 568.4h2.4v2.4h-2.4zM461.6 630.7h2.4v2.4h-2.4zM477.18 630.7h2.4v2.4h-2.4zM452.7 604h2.4v2.4h-2.4zM468.28 604h2.4v2.4h-2.4zM466.05 635.15h2.4v2.4h-2.4zM472.73 635.15h2.4v2.4h-2.4zM457.15 608.45h2.4v2.4h-2.4zM463.83 608.45h2.4v2.4h-2.4z"/>
</g>
<g stroke="#000" stroke-width="1.7" fill="none" stroke-linejoin="round">
<path d="M101.3 60 L101.85 72.46 L102.4 80.43 L102.95 87.94 L103.49 92.82 L104.04 96.21 L104.59 98.62 L105.14 100.41 L105.69 101.54 L106.24 102.48 L106.78 103.26 L107.33 103.79 L107.88 104 L108.43 103.97 L108.98 103.87 L109.53 103.72 L110.08 103.53 L110.62 103.33 L111.17 103.12 L111.72 102.92 L112.27 102.69 L112.82 102.43 L113.37 102.15 L113.92 101.85 L114.46 101.53 L115.01 101.19 L115.56 100.85 L116.11 100.5 L116.66 100.12 L117.21 99.72 L117.75 99.3 L118.3 98.86 L118.85 98.4 L119.4 97.94 L119.95 97.46 L120.5 96.99 L121.05 96.51 L121.59 96.03 L122.14 95.57 L122.69 95.11 L123.24 94.66 L123.79 94.23 L124.34 93.82 L124.89 93.41 L125.43 93 L125.98 92.6 L126.53 92.21 L127.08 91.81 L127.63 91.42 L128.18 91.03 L128.72 90.64 L129.27 90.24 L129.82 89.84 L130.37 89.43 L130.92 89.02 L131.47 88.6 L132.02 88.18 L132.56 87.74 L133.11 87.31 L133.66 86.87 L134.21 86.43 L134.76 85.99 L135.31 85.54 L135.86 85.09 L136.4 84.63 L136.95 84.18 L137.5 83.72 L138.05 83.25 L138.6 82.79 L139.15 82.32 L139.69 81.85 L140.24 81.38 L140.79 80.9 L141.34 80.43 L141.89 79.95 L142.44 79.47 L142.99 78.98 L143.53 78.49 L144.08 78 L144.63 77.5 L145.18 77.01 L145.73 76.5 L146.28 76 L146.83 75.49 L147.37 74.98 L147.92 74.47 L148.47 73.95 L149.02 73.43 L149.57 72.91 L150.12 72.39 L150.66 71.86 L151.21 71.32 L151.76 70.77 L152.31 70.22 L152.86 69.67 L153.41 69.11 L153.96 68.55 L154.5 67.99 L155.05 67.43 L155.6 66.88 L156.15 66.33 L156.7 65.78 L157.25 65.24 L157.8 64.71 L158.34 64.18 L158.89 63.65 L159.44 63.12 L159.99 62.6 L160.54 62.07 L161.09 61.55 L161.63 61.04 L162.18 60.53 L162.73 60.02 L163.28 59.52 L163.83 59.03 L164.38 58.54 L164.93 58.06 L165.47 57.59 L166.02 57.13 L166.57 56.67 L167.12 56.21 L167.67 55.76 L168.22 55.31 L168.77 54.87 L169.31 54.44 L169.86 54.02 L170.41 53.6 L170.96 53.19 L171.51 52.79 L172.06 52.4 L172.6 52 L173.15 51.61 L173.7 51.22 L174.25 50.83 L174.8 50.44 L175.35 50.06 L175.9 49.69 L176.44 49.33 L176.99 48.98 L177.54 48.64 L178.09 48.31 L178.64 48 L179.19 47.71 L179.74 47.43 L180.28 47.17 L180.83 46.91 L181.38 46.67 L181.93 46.43 L182.48 46.21 L183.03 45.99 L183.57 45.79 L184.12 45.59 L184.67 45.4 L185.22 45.23 L185.77 45.07 L186.32 44.91 L186.87 44.76 L187.41 44.61 L187.96 44.46 L188.51 44.32 L189.06 44.18 L189.61 44.04 L190.16 43.92 L190.71 43.8 L191.25 43.7 L191.8 43.6 L192.35 43.52 L192.9 43.45 L193.45 43.4 L194 43.36 L194.54 43.32 L195.09 43.29 L195.64 43.25 L196.19 43.22 L196.74 43.19 L197.29 43.16 L197.84 43.14 L198.38 43.12 L198.93 43.11 L199.48 43.1 L200.03 43.1 L200.58 43.11 L201.13 43.12 L201.67 43.15 L202.22 43.18 L202.77 43.22 L203.32 43.27 L203.87 43.33 L204.42 43.38 L204.97 43.45 L205.51 43.51 L206.06 43.58 L206.61 43.65 L207.16 43.72 L207.71 43.8 L208.26 43.89 L208.81 44 L209.35 44.12 L209.9 44.24 L210.45 44.38 L211 44.53 L211.55 44.68 L212.1 44.85 L212.64 45.02 L213.19 45.19 L213.74 45.38 L214.29 45.56 L214.84 45.76 L215.39 45.95 L215.94 46.15 L216.48 46.35 L217.03 46.55 L217.58 46.76 L218.13 46.96 L218.68 47.19 L219.23 47.42 L219.78 47.67 L220.32 47.93 L220.87 48.2 L221.42 48.48 L221.97 48.76 L222.52 49.05 L223.07 49.35 L223.61 49.65 L224.16 49.95 L224.71 50.25 L225.26 50.55 L225.81 50.85 L226.36 51.15 L226.91 51.44 L227.45 51.73 L228 52.02 L228.55 52.31 L229.1 52.6 L229.65 52.89 L230.2 53.19 L230.75 53.48 L231.29 53.77 L231.84 54.07 L232.39 54.36 L232.94 54.66 L233.49 54.96 L234.04 55.26 L234.58 55.56 L235.13 55.87 L235.68 56.17 L236.23 56.48 L236.78 56.79 L237.33 57.1 L237.88 57.41 L238.42 57.73 L238.97 58.04 L239.52 58.36 L240.07 58.69 L240.62 59.01 L241.17 59.34 L241.72 59.67 L242.26 60 L242.81 60.34 L243.36 60.68 L243.91 61.02 L244.46 61.37 L245.01 61.71 L245.55 62.06 L246.1 62.41 L246.65 62.77 L247.2 63.12 L247.75 63.48 L248.3 63.84 L248.85 64.2 L249.39 64.56 L249.94 64.92 L250.49 65.28 L251.04 65.65 L251.59 66.02 L252.14 66.38 L252.69 66.75 L253.23 67.12 L253.78 67.49 L254.33 67.86 L254.88 68.23 L255.43 68.6 L255.98 68.97 L256.52 69.35 L257.07 69.73 L257.62 70.11 L258.17 70.49 L258.72 70.87 L259.27 71.26 L259.82 71.64 L260.36 72.03 L260.91 72.42 L261.46 72.81 L262.01 73.2 L262.56 73.59 L263.11 73.98 L263.66 74.37 L264.2 74.76 L264.75 75.16 L265.3 75.55 L265.85 75.94 L266.4 76.34 L266.95 76.73 L267.49 77.12 L268.04 77.52 L268.59 77.92 L269.14 78.32 L269.69 78.72 L270.24 79.12 L270.79 79.52 L271.33 79.93 L271.88 80.33 L272.43 80.74 L272.98 81.14 L273.53 81.54 L274.08 81.94 L274.63 82.33 L275.17 82.72 L275.72 83.12 L276.27 83.51 L276.82 83.91 L277.37 84.31 L277.92 84.71 L278.46 85.11 L279.01 85.52 L279.56 85.92 L280.11 86.32 L280.66 86.71 L281.21 87.11 L281.76 87.51 L282.3 87.9 L282.85 88.29 L283.4 88.67 L283.95 89.05 L284.5 89.43 L285.05 89.8 L285.59 90.17 L286.14 90.53 L286.69 90.88 L287.24 91.23 L287.79 91.57 L288.34 91.9 L288.89 92.23 L289.43 92.55 L289.98 92.87 L290.53 93.18 L291.08 93.49 L291.63 93.8 L292.18 94.1 L292.73 94.4 L293.27 94.7 L293.82 94.99 L294.37 95.28 L294.92 95.57 L295.47 95.85 L296.02 96.13 L296.56 96.41 L297.11 96.68 L297.66 96.95 L298.21 97.22 L298.76 97.49 L299.31 97.75 L299.86 98.01 L300.4 98.27 L300.95 98.52 L301.5 98.77 L302.05 99.02 L302.6 99.27 L303.15 99.51 L303.7 99.75 L304.24 99.99 L304.79 100.23 L305.34 100.46 L305.89 100.69 L306.44 100.92 L306.99 101.14 L307.53 101.37 L308.08 101.59 L308.63 101.81 L309.18 102.02 L309.73 102.24 L310.28 102.45 L310.83 102.67 L311.37 102.88 L311.92 103.09 L312.47 103.3 L313.02 103.51 L313.57 103.71 L314.12 103.92 L314.67 104.13 L315.21 104.33 L315.76 104.54 L316.31 104.74 L316.86 104.94 L317.41 105.15 L317.96 105.35 L318.5 105.55 L319.05 105.75 L319.6 105.95 L320.15 106.14 L320.7 106.34 L321.25 106.54 L321.8 106.73 L322.34 106.92 L322.89 107.11 L323.44 107.3 L323.99 107.49 L324.54 107.68 L325.09 107.86 L325.64 108.05 L326.18 108.23 L326.73 108.41 L327.28 108.59 L327.83 108.76 L328.38 108.94 L328.93 109.11 L329.47 109.28 L330.02 109.45 L330.57 109.62 L331.12 109.78 L331.67 109.95 L332.22 110.11 L332.77 110.28 L333.31 110.44 L333.86 110.6 L334.41 110.76 L334.96 110.92 L335.51 111.07 L336.06 111.23 L336.61 111.38 L337.15 111.53 L337.7 111.68 L338.25 111.83 L338.8 111.98 L339.35 112.13 L339.9 112.27 L340.44 112.41 L340.99 112.55 L341.54 112.69 L342.09 112.82 L342.64 112.96 L343.19 113.09 L343.74 113.22 L344.28 113.35 L344.83 113.48 L345.38 113.61 L345.93 113.74 L346.48 113.87 L347.03 113.99 L347.58 114.12 L348.12 114.24 L348.67 114.36 L349.22 114.48 L349.77 114.6 L350.32 114.71 L350.87 114.83 L351.41 114.94 L351.96 115.05 L352.51 115.16 L353.06 115.27 L353.61 115.38 L354.16 115.48 L354.71 115.58 L355.25 115.68 L355.8 115.78 L356.35 115.88 L356.9 115.97 L357.45 116.07 L358 116.16 L358.55 116.25 L359.09 116.34 L359.64 116.42 L360.19 116.51 L360.74 116.59 L361.29 116.68 L361.84 116.76 L362.38 116.84 L362.93 116.92 L363.48 117 L364.03 117.08 L364.58 117.16 L365.13 117.23 L365.68 117.31 L366.22 117.39 L366.77 117.46 L367.32 117.53 L367.87 117.61 L368.42 117.68 L368.97 117.76 L369.52 117.83 L370.06 117.9 L370.61 117.97 L371.16 118.04 L371.71 118.11 L372.26 118.18 L372.81 118.24 L373.35 118.31 L373.9 118.37 L374.45 118.44 L375 118.5"/>
<path d="M462.2 44 L462.74 47.5 L463.29 51.06 L463.83 54.37 L464.38 57.45 L464.92 60.17 L465.47 62.33 L466.01 64.43 L466.56 66.2 L467.1 67.2 L467.65 67.32 L468.19 67.34 L468.74 67.36 L469.28 67.38 L469.83 67.39 L470.37 67.4 L470.92 67.4 L471.46 67.37 L472 67.22 L472.55 67 L473.09 66.74 L473.64 66.48 L474.18 66.28 L474.73 66.16 L475.27 66.06 L475.82 65.96 L476.36 65.88 L476.91 65.83 L477.45 65.8 L478 65.83 L478.54 65.94 L479.09 66.14 L479.63 66.41 L480.17 66.73 L480.72 67.1 L481.26 67.49 L481.81 67.91 L482.35 68.32 L482.9 68.73 L483.44 69.14 L483.99 69.61 L484.53 70.14 L485.08 70.7 L485.62 71.29 L486.17 71.89 L486.71 72.5 L487.26 73.11 L487.8 73.69 L488.35 74.24 L488.89 74.81 L489.43 75.39 L489.98 75.99 L490.52 76.59 L491.07 77.18 L491.61 77.74 L492.16 78.26 L492.7 78.73 L493.25 79.13 L493.79 79.45 L494.34 79.74 L494.88 80.03 L495.43 80.31 L495.97 80.57 L496.52 80.81 L497.06 81.02 L497.6 81.19 L498.15 81.31 L498.69 81.38 L499.24 81.4 L499.78 81.37 L500.33 81.31 L500.87 81.21 L501.42 81.09 L501.96 80.95 L502.51 80.78 L503.05 80.61 L503.6 80.42 L504.14 80.23 L504.69 80.03 L505.23 79.79 L505.78 79.5 L506.32 79.16 L506.86 78.79 L507.41 78.39 L507.95 77.97 L508.5 77.54 L509.04 77.09 L509.59 76.65 L510.13 76.21 L510.68 75.76 L511.22 75.28 L511.77 74.78 L512.31 74.27 L512.86 73.74 L513.4 73.2 L513.95 72.64 L514.49 72.07 L515.03 71.49 L515.58 70.89 L516.12 70.26 L516.67 69.6 L517.21 68.92 L517.76 68.22 L518.3 67.51 L518.85 66.8 L519.39 66.1 L519.94 65.42 L520.48 64.76 L521.03 64.12 L521.57 63.5 L522.12 62.89 L522.66 62.29 L523.21 61.7 L523.75 61.11 L524.29 60.52 L524.84 59.94 L525.38 59.36 L525.93 58.78 L526.47 58.2 L527.02 57.62 L527.56 57.04 L528.11 56.47 L528.65 55.89 L529.2 55.33 L529.74 54.76 L530.29 54.21 L530.83 53.66 L531.38 53.12 L531.92 52.59 L532.46 52.04 L533.01 51.5 L533.55 50.96 L534.1 50.43 L534.64 49.91 L535.19 49.43 L535.73 48.97 L536.28 48.56 L536.82 48.18 L537.37 47.8 L537.91 47.43 L538.46 47.07 L539 46.72 L539.55 46.37 L540.09 46.05 L540.64 45.74 L541.18 45.45 L541.72 45.18 L542.27 44.95 L542.81 44.74 L543.36 44.56 L543.9 44.42 L544.45 44.31 L544.99 44.19 L545.54 44.09 L546.08 43.98 L546.63 43.89 L547.17 43.8 L547.72 43.71 L548.26 43.64 L548.81 43.57 L549.35 43.51 L549.89 43.47 L550.44 43.43 L550.98 43.41 L551.53 43.4 L552.07 43.4 L552.62 43.41 L553.16 43.41 L553.71 43.42 L554.25 43.43 L554.8 43.45 L555.34 43.47 L555.89 43.49 L556.43 43.51 L556.98 43.53 L557.52 43.56 L558.07 43.59 L558.61 43.62 L559.15 43.65 L559.7 43.69 L560.24 43.72 L560.79 43.76 L561.33 43.8 L561.88 43.86 L562.42 43.94 L562.97 44.05 L563.51 44.19 L564.06 44.34 L564.6 44.51 L565.15 44.7 L565.69 44.9 L566.24 45.11 L566.78 45.34 L567.33 45.56 L567.87 45.8 L568.41 46.03 L568.96 46.27 L569.5 46.53 L570.05 46.83 L570.59 47.15 L571.14 47.5 L571.68 47.86 L572.23 48.24 L572.77 48.63 L573.32 49.02 L573.86 49.41 L574.41 49.79 L574.95 50.17 L575.5 50.53 L576.04 50.89 L576.58 51.25 L577.13 51.61 L577.67 51.97 L578.22 52.33 L578.76 52.7 L579.31 53.06 L579.85 53.43 L580.4 53.8 L580.94 54.17 L581.49 54.54 L582.03 54.91 L582.58 55.28 L583.12 55.66 L583.67 56.04 L584.21 56.42 L584.76 56.8 L585.3 57.18 L585.84 57.56 L586.39 57.95 L586.93 58.33 L587.48 58.72 L588.02 59.11 L588.57 59.5 L589.11 59.89 L589.66 60.29 L590.2 60.68 L590.75 61.08 L591.29 61.48 L591.84 61.88 L592.38 62.28 L592.93 62.68 L593.47 63.08 L594.01 63.49 L594.56 63.89 L595.1 64.3 L595.65 64.71 L596.19 65.12 L596.74 65.53 L597.28 65.94 L597.83 66.36 L598.37 66.77 L598.92 67.19 L599.46 67.6 L600.01 68.02 L600.55 68.45 L601.1 68.87 L601.64 69.3 L602.19 69.73 L602.73 70.16 L603.27 70.6 L603.82 71.04 L604.36 71.48 L604.91 71.92 L605.45 72.38 L606 72.84 L606.54 73.31 L607.09 73.78 L607.63 74.26 L608.18 74.75 L608.72 75.24 L609.27 75.74 L609.81 76.24 L610.36 76.74 L610.9 77.24 L611.44 77.75 L611.99 78.25 L612.53 78.75 L613.08 79.25 L613.62 79.74 L614.17 80.23 L614.71 80.72 L615.26 81.2 L615.8 81.68 L616.35 82.14 L616.89 82.6 L617.44 83.05 L617.98 83.49 L618.53 83.92 L619.07 84.34 L619.62 84.76 L620.16 85.17 L620.7 85.59 L621.25 85.99 L621.79 86.4 L622.34 86.8 L622.88 87.19 L623.43 87.59 L623.97 87.97 L624.52 88.36 L625.06 88.74 L625.61 89.12 L626.15 89.5 L626.7 89.87 L627.24 90.24 L627.79 90.6 L628.33 90.96 L628.87 91.32 L629.42 91.67 L629.96 92.02 L630.51 92.37 L631.05 92.71 L631.6 93.05 L632.14 93.39 L632.69 93.72 L633.23 94.05 L633.78 94.38 L634.32 94.71 L634.87 95.04 L635.41 95.36 L635.96 95.68 L636.5 96 L637.05 96.32 L637.59 96.63 L638.13 96.94 L638.68 97.24 L639.22 97.55 L639.77 97.84 L640.31 98.14 L640.86 98.43 L641.4 98.72 L641.95 99 L642.49 99.28 L643.04 99.56 L643.58 99.83 L644.13 100.1 L644.67 100.36 L645.22 100.61 L645.76 100.87 L646.31 101.11 L646.85 101.36 L647.39 101.6 L647.94 101.83 L648.48 102.07 L649.03 102.3 L649.57 102.52 L650.12 102.74 L650.66 102.97 L651.21 103.18 L651.75 103.4 L652.3 103.61 L652.84 103.82 L653.39 104.03 L653.93 104.24 L654.48 104.45 L655.02 104.65 L655.56 104.86 L656.11 105.06 L656.65 105.26 L657.2 105.47 L657.74 105.67 L658.29 105.87 L658.83 106.08 L659.38 106.28 L659.92 106.48 L660.47 106.68 L661.01 106.88 L661.56 107.08 L662.1 107.27 L662.65 107.47 L663.19 107.66 L663.74 107.86 L664.28 108.05 L664.82 108.24 L665.37 108.43 L665.91 108.62 L666.46 108.81 L667 109 L667.55 109.18 L668.09 109.37 L668.64 109.55 L669.18 109.74 L669.73 109.92 L670.27 110.1 L670.82 110.28 L671.36 110.46 L671.91 110.64 L672.45 110.82 L672.99 110.99 L673.54 111.17 L674.08 111.34 L674.63 111.52 L675.17 111.69 L675.72 111.87 L676.26 112.04 L676.81 112.21 L677.35 112.38 L677.9 112.55 L678.44 112.72 L678.99 112.89 L679.53 113.06 L680.08 113.22 L680.62 113.38 L681.17 113.55 L681.71 113.71 L682.25 113.87 L682.8 114.03 L683.34 114.19 L683.89 114.34 L684.43 114.49 L684.98 114.65 L685.52 114.8 L686.07 114.95 L686.61 115.09 L687.16 115.24 L687.7 115.39 L688.25 115.53 L688.79 115.67 L689.34 115.82 L689.88 115.96 L690.42 116.1 L690.97 116.24 L691.51 116.38 L692.06 116.52 L692.6 116.65 L693.15 116.79 L693.69 116.92 L694.24 117.05 L694.78 117.18 L695.33 117.31 L695.87 117.44 L696.42 117.56 L696.96 117.69 L697.51 117.81 L698.05 117.93 L698.6 118.05 L699.14 118.17 L699.68 118.28 L700.23 118.4 L700.77 118.52 L701.32 118.63 L701.86 118.75 L702.41 118.87 L702.95 118.99 L703.5 119.1 L704.04 119.22 L704.59 119.33 L705.13 119.45 L705.68 119.56 L706.22 119.67 L706.77 119.77 L707.31 119.88 L707.85 119.98 L708.4 120.08 L708.94 120.18 L709.49 120.27 L710.03 120.36 L710.58 120.44 L711.12 120.52 L711.67 120.6 L712.21 120.67 L712.76 120.74 L713.3 120.8 L713.85 120.86 L714.39 120.92 L714.94 120.97 L715.48 121.03 L716.03 121.09 L716.57 121.15 L717.11 121.2 L717.66 121.26 L718.2 121.31 L718.75 121.37 L719.29 121.42 L719.84 121.48 L720.38 121.53 L720.93 121.58 L721.47 121.63 L722.02 121.68 L722.56 121.72 L723.11 121.77 L723.65 121.81 L724.2 121.86 L724.74 121.9 L725.28 121.94 L725.83 121.98 L726.37 122.01 L726.92 122.05 L727.46 122.08 L728.01 122.11 L728.55 122.14 L729.1 122.17 L729.64 122.19 L730.19 122.22 L730.73 122.23 L731.28 122.25 L731.82 122.27 L732.37 122.28 L732.91 122.29 L733.46 122.3 L734 122.3"/>
<path d="M101.3 239.5 L101.85 245.2 L102.4 249.62 L102.95 252.25 L103.49 254.25 L104.04 255.89 L104.59 257.41 L105.14 259.02 L105.69 260.64 L106.24 262.19 L106.78 263.62 L107.33 264.87 L107.88 265.99 L108.43 267.05 L108.98 268.02 L109.53 268.92 L110.08 269.72 L110.62 270.43 L111.17 271.07 L111.72 271.66 L112.27 272.22 L112.82 272.73 L113.37 273.19 L113.92 273.62 L114.46 274.01 L115.01 274.36 L115.56 274.7 L116.11 275.01 L116.66 275.3 L117.21 275.58 L117.75 275.84 L118.3 276.09 L118.85 276.32 L119.4 276.55 L119.95 276.77 L120.5 276.97 L121.05 277.18 L121.59 277.37 L122.14 277.56 L122.69 277.74 L123.24 277.92 L123.79 278.09 L124.34 278.26 L124.89 278.42 L125.43 278.57 L125.98 278.72 L126.53 278.87 L127.08 279.01 L127.63 279.14 L128.18 279.27 L128.72 279.4 L129.27 279.52 L129.82 279.64 L130.37 279.77 L130.92 279.88 L131.47 280 L132.02 280.11 L132.56 280.22 L133.11 280.32 L133.66 280.41 L134.21 280.51 L134.76 280.59 L135.31 280.67 L135.86 280.74 L136.4 280.8 L136.95 280.86 L137.5 280.91 L138.05 280.96 L138.6 281 L139.15 281.04 L139.69 281.08 L140.24 281.12 L140.79 281.16 L141.34 281.19 L141.89 281.23 L142.44 281.26 L142.99 281.3 L143.53 281.33 L144.08 281.37 L144.63 281.41 L145.18 281.45 L145.73 281.5 L146.28 281.55 L146.83 281.6 L147.37 281.64 L147.92 281.69 L148.47 281.73 L149.02 281.76 L149.57 281.79 L150.12 281.8 L150.66 281.82 L151.21 281.83 L151.76 281.84 L152.31 281.85 L152.86 281.87 L153.41 281.88 L153.96 281.89 L154.5 281.9 L155.05 281.91 L155.6 281.92 L156.15 281.93 L156.7 281.94 L157.25 281.94 L157.8 281.95 L158.34 281.96 L158.89 281.96 L159.44 281.97 L159.99 281.98 L160.54 281.98 L161.09 281.99 L161.63 281.99 L162.18 281.99 L162.73 282 L163.28 282 L163.83 282 L164.38 282 L164.93 282 L165.47 282 L166.02 282 L166.57 282 L167.12 281.99 L167.67 281.99 L168.22 281.98 L168.77 281.98 L169.31 281.97 L169.86 281.96 L170.41 281.95 L170.96 281.95 L171.51 281.94 L172.06 281.93 L172.6 281.92 L173.15 281.91 L173.7 281.9 L174.25 281.89 L174.8 281.88 L175.35 281.87 L175.9 281.86 L176.44 281.85 L176.99 281.85 L177.54 281.84 L178.09 281.83 L178.64 281.82 L179.19 281.82 L179.74 281.81 L180.28 281.81 L180.83 281.8 L181.38 281.8 L181.93 281.8 L182.48 281.8 L183.03 281.8 L183.57 281.8 L184.12 281.8 L184.67 281.8 L185.22 281.81 L185.77 281.81 L186.32 281.81 L186.87 281.82 L187.41 281.82 L187.96 281.82 L188.51 281.83 L189.06 281.83 L189.61 281.84 L190.16 281.85 L190.71 281.85 L191.25 281.86 L191.8 281.87 L192.35 281.87 L192.9 281.88 L193.45 281.89 L194 281.9 L194.54 281.9 L195.09 281.91 L195.64 281.92 L196.19 281.93 L196.74 281.94 L197.29 281.95 L197.84 281.96 L198.38 281.97 L198.93 281.98 L199.48 281.99 L200.03 282 L200.58 282.01 L201.13 282.03 L201.67 282.04 L202.22 282.06 L202.77 282.08 L203.32 282.1 L203.87 282.12 L204.42 282.15 L204.97 282.17 L205.51 282.2 L206.06 282.23 L206.61 282.26 L207.16 282.29 L207.71 282.32 L208.26 282.35 L208.81 282.39 L209.35 282.42 L209.9 282.46 L210.45 282.5 L211 282.53 L211.55 282.57 L212.1 282.61 L212.64 282.65 L213.19 282.69 L213.74 282.73 L214.29 282.77 L214.84 282.81 L215.39 282.85 L215.94 282.9 L216.48 282.95 L217.03 283 L217.58 283.06 L218.13 283.11 L218.68 283.17 L219.23 283.23 L219.78 283.3 L220.32 283.36 L220.87 283.43 L221.42 283.5 L221.97 283.57 L222.52 283.64 L223.07 283.71 L223.61 283.78 L224.16 283.85 L224.71 283.93 L225.26 284 L225.81 284.07 L226.36 284.14 L226.91 284.21 L227.45 284.28 L228 284.35 L228.55 284.42 L229.1 284.49 L229.65 284.56 L230.2 284.62 L230.75 284.68 L231.29 284.74 L231.84 284.8 L232.39 284.86 L232.94 284.92 L233.49 284.98 L234.04 285.04 L234.58 285.1 L235.13 285.16 L235.68 285.22 L236.23 285.27 L236.78 285.33 L237.33 285.39 L237.88 285.44 L238.42 285.5 L238.97 285.56 L239.52 285.61 L240.07 285.67 L240.62 285.73 L241.17 285.78 L241.72 285.84 L242.26 285.9 L242.81 285.95 L243.36 286.01 L243.91 286.07 L244.46 286.12 L245.01 286.18 L245.55 286.24 L246.1 286.3 L246.65 286.35 L247.2 286.41 L247.75 286.47 L248.3 286.53 L248.85 286.58 L249.39 286.64 L249.94 286.7 L250.49 286.76 L251.04 286.81 L251.59 286.87 L252.14 286.93 L252.69 286.98 L253.23 287.04 L253.78 287.1 L254.33 287.15 L254.88 287.21 L255.43 287.27 L255.98 287.32 L256.52 287.38 L257.07 287.44 L257.62 287.49 L258.17 287.55 L258.72 287.61 L259.27 287.67 L259.82 287.72 L260.36 287.78 L260.91 287.84 L261.46 287.9 L262.01 287.96 L262.56 288.01 L263.11 288.07 L263.66 288.13 L264.2 288.19 L264.75 288.25 L265.3 288.31 L265.85 288.37 L266.4 288.43 L266.95 288.49 L267.49 288.55 L268.04 288.61 L268.59 288.67 L269.14 288.74 L269.69 288.8 L270.24 288.86 L270.79 288.93 L271.33 288.99 L271.88 289.05 L272.43 289.12 L272.98 289.19 L273.53 289.25 L274.08 289.32 L274.63 289.39 L275.17 289.46 L275.72 289.53 L276.27 289.59 L276.82 289.66 L277.37 289.73 L277.92 289.8 L278.46 289.87 L279.01 289.95 L279.56 290.02 L280.11 290.09 L280.66 290.16 L281.21 290.23 L281.76 290.3 L282.3 290.37 L282.85 290.44 L283.4 290.51 L283.95 290.58 L284.5 290.65 L285.05 290.73 L285.59 290.8 L286.14 290.87 L286.69 290.94 L287.24 291.01 L287.79 291.07 L288.34 291.14 L288.89 291.21 L289.43 291.28 L289.98 291.35 L290.53 291.41 L291.08 291.48 L291.63 291.55 L292.18 291.61 L292.73 291.67 L293.27 291.74 L293.82 291.8 L294.37 291.86 L294.92 291.93 L295.47 291.99 L296.02 292.05 L296.56 292.1 L297.11 292.16 L297.66 292.22 L298.21 292.28 L298.76 292.34 L299.31 292.39 L299.86 292.45 L300.4 292.5 L300.95 292.56 L301.5 292.61 L302.05 292.67 L302.6 292.72 L303.15 292.77 L303.7 292.83 L304.24 292.88 L304.79 292.93 L305.34 292.99 L305.89 293.04 L306.44 293.09 L306.99 293.14 L307.53 293.2 L308.08 293.25 L308.63 293.3 L309.18 293.35 L309.73 293.41 L310.28 293.46 L310.83 293.51 L311.37 293.56 L311.92 293.61 L312.47 293.67 L313.02 293.72 L313.57 293.77 L314.12 293.83 L314.67 293.88 L315.21 293.93 L315.76 293.99 L316.31 294.04 L316.86 294.09 L317.41 294.15 L317.96 294.2 L318.5 294.26 L319.05 294.31 L319.6 294.37 L320.15 294.42 L320.7 294.47 L321.25 294.53 L321.8 294.58 L322.34 294.64 L322.89 294.69 L323.44 294.75 L323.99 294.8 L324.54 294.85 L325.09 294.91 L325.64 294.96 L326.18 295.02 L326.73 295.07 L327.28 295.13 L327.83 295.18 L328.38 295.23 L328.93 295.29 L329.47 295.34 L330.02 295.4 L330.57 295.45 L331.12 295.51 L331.67 295.56 L332.22 295.62 L332.77 295.67 L333.31 295.72 L333.86 295.78 L334.41 295.83 L334.96 295.89 L335.51 295.94 L336.06 296 L336.61 296.05 L337.15 296.1 L337.7 296.16 L338.25 296.22 L338.8 296.27 L339.35 296.33 L339.9 296.38 L340.44 296.44 L340.99 296.49 L341.54 296.55 L342.09 296.61 L342.64 296.66 L343.19 296.72 L343.74 296.77 L344.28 296.83 L344.83 296.89 L345.38 296.94 L345.93 297 L346.48 297.05 L347.03 297.11 L347.58 297.17 L348.12 297.22 L348.67 297.28 L349.22 297.33 L349.77 297.38 L350.32 297.44 L350.87 297.49 L351.41 297.55 L351.96 297.6 L352.51 297.65 L353.06 297.7 L353.61 297.75 L354.16 297.81 L354.71 297.86 L355.25 297.91 L355.8 297.96 L356.35 298 L356.9 298.05 L357.45 298.1 L358 298.15 L358.55 298.2 L359.09 298.24 L359.64 298.29 L360.19 298.34 L360.74 298.38 L361.29 298.43 L361.84 298.48 L362.38 298.52 L362.93 298.57 L363.48 298.61 L364.03 298.66 L364.58 298.7 L365.13 298.75 L365.68 298.79 L366.22 298.84 L366.77 298.88 L367.32 298.92 L367.87 298.97 L368.42 299.01 L368.97 299.05 L369.52 299.09 L370.06 299.14 L370.61 299.18 L371.16 299.22 L371.71 299.26 L372.26 299.3 L372.81 299.34 L373.35 299.38 L373.9 299.42 L374.45 299.46 L375 299.5"/>
<path d="M462.9 216.5 L463.44 230.42 L463.99 237.14 L464.53 241.94 L465.07 245.62 L465.62 248.88 L466.16 251.94 L466.7 254.66 L467.25 256.93 L467.79 258.63 L468.33 259.85 L468.88 260.92 L469.42 261.86 L469.96 262.7 L470.51 263.43 L471.05 264.06 L471.59 264.61 L472.14 265.07 L472.68 265.47 L473.22 265.82 L473.77 266.13 L474.31 266.41 L474.85 266.66 L475.4 266.89 L475.94 267.11 L476.48 267.33 L477.03 267.55 L477.57 267.79 L478.11 268.05 L478.66 268.33 L479.2 268.63 L479.74 268.94 L480.29 269.25 L480.83 269.56 L481.37 269.89 L481.92 270.22 L482.46 270.56 L483 270.9 L483.54 271.25 L484.09 271.62 L484.63 271.98 L485.17 272.36 L485.72 272.75 L486.26 273.16 L486.8 273.58 L487.35 274 L487.89 274.44 L488.43 274.88 L488.98 275.33 L489.52 275.78 L490.06 276.23 L490.61 276.69 L491.15 277.14 L491.69 277.62 L492.24 278.11 L492.78 278.63 L493.32 279.16 L493.87 279.69 L494.41 280.21 L494.95 280.72 L495.5 281.22 L496.04 281.69 L496.58 282.12 L497.13 282.52 L497.67 282.87 L498.21 283.22 L498.76 283.57 L499.3 283.91 L499.84 284.23 L500.39 284.54 L500.93 284.83 L501.47 285.1 L502.02 285.33 L502.56 285.53 L503.1 285.69 L503.65 285.81 L504.19 285.91 L504.73 286 L505.28 286.09 L505.82 286.17 L506.36 286.24 L506.91 286.31 L507.45 286.37 L507.99 286.42 L508.54 286.46 L509.08 286.48 L509.62 286.5 L510.17 286.5 L510.71 286.46 L511.25 286.4 L511.8 286.32 L512.34 286.21 L512.88 286.09 L513.43 285.97 L513.97 285.84 L514.51 285.71 L515.06 285.59 L515.6 285.47 L516.14 285.34 L516.69 285.21 L517.23 285.07 L517.77 284.93 L518.32 284.78 L518.86 284.62 L519.4 284.46 L519.95 284.3 L520.49 284.13 L521.03 283.95 L521.57 283.77 L522.12 283.58 L522.66 283.39 L523.2 283.19 L523.75 282.98 L524.29 282.76 L524.83 282.51 L525.38 282.24 L525.92 281.95 L526.46 281.65 L527.01 281.35 L527.55 281.03 L528.09 280.72 L528.64 280.41 L529.18 280.1 L529.72 279.81 L530.27 279.53 L530.81 279.27 L531.35 279.03 L531.9 278.8 L532.44 278.57 L532.98 278.34 L533.53 278.11 L534.07 277.89 L534.61 277.66 L535.16 277.44 L535.7 277.22 L536.24 277 L536.79 276.78 L537.33 276.57 L537.87 276.36 L538.42 276.15 L538.96 275.95 L539.5 275.75 L540.05 275.55 L540.59 275.36 L541.13 275.18 L541.68 275 L542.22 274.83 L542.76 274.66 L543.31 274.5 L543.85 274.34 L544.39 274.19 L544.94 274.05 L545.48 273.91 L546.02 273.79 L546.57 273.67 L547.11 273.56 L547.65 273.45 L548.2 273.35 L548.74 273.25 L549.28 273.14 L549.83 273.04 L550.37 272.94 L550.91 272.84 L551.46 272.74 L552 272.64 L552.54 272.54 L553.09 272.45 L553.63 272.36 L554.17 272.27 L554.72 272.18 L555.26 272.1 L555.8 272.02 L556.35 271.94 L556.89 271.87 L557.43 271.8 L557.98 271.74 L558.52 271.68 L559.06 271.62 L559.61 271.57 L560.15 271.53 L560.69 271.49 L561.23 271.46 L561.78 271.44 L562.32 271.42 L562.86 271.4 L563.41 271.4 L563.95 271.4 L564.49 271.41 L565.04 271.42 L565.58 271.43 L566.12 271.44 L566.67 271.46 L567.21 271.49 L567.75 271.51 L568.3 271.54 L568.84 271.58 L569.38 271.61 L569.93 271.65 L570.47 271.69 L571.01 271.74 L571.56 271.78 L572.1 271.83 L572.64 271.88 L573.19 271.94 L573.73 271.99 L574.27 272.05 L574.82 272.11 L575.36 272.17 L575.9 272.23 L576.45 272.29 L576.99 272.36 L577.53 272.42 L578.08 272.49 L578.62 272.56 L579.16 272.63 L579.71 272.7 L580.25 272.78 L580.79 272.87 L581.34 272.98 L581.88 273.1 L582.42 273.23 L582.97 273.37 L583.51 273.52 L584.05 273.68 L584.6 273.85 L585.14 274.03 L585.68 274.22 L586.23 274.41 L586.77 274.62 L587.31 274.82 L587.86 275.03 L588.4 275.25 L588.94 275.47 L589.49 275.69 L590.03 275.92 L590.57 276.14 L591.12 276.37 L591.66 276.6 L592.2 276.82 L592.75 277.05 L593.29 277.27 L593.83 277.5 L594.38 277.71 L594.92 277.93 L595.46 278.14 L596.01 278.34 L596.55 278.54 L597.09 278.75 L597.64 278.97 L598.18 279.18 L598.72 279.4 L599.26 279.62 L599.81 279.85 L600.35 280.07 L600.89 280.3 L601.44 280.53 L601.98 280.76 L602.52 280.99 L603.07 281.22 L603.61 281.45 L604.15 281.68 L604.7 281.91 L605.24 282.14 L605.78 282.37 L606.33 282.6 L606.87 282.82 L607.41 283.04 L607.96 283.26 L608.5 283.47 L609.04 283.69 L609.59 283.9 L610.13 284.1 L610.67 284.3 L611.22 284.49 L611.76 284.68 L612.3 284.87 L612.85 285.05 L613.39 285.23 L613.93 285.4 L614.48 285.58 L615.02 285.75 L615.56 285.91 L616.11 286.08 L616.65 286.24 L617.19 286.41 L617.74 286.57 L618.28 286.72 L618.82 286.88 L619.37 287.03 L619.91 287.19 L620.45 287.34 L621 287.49 L621.54 287.64 L622.08 287.79 L622.63 287.94 L623.17 288.09 L623.71 288.23 L624.26 288.38 L624.8 288.53 L625.34 288.67 L625.89 288.82 L626.43 288.97 L626.97 289.11 L627.52 289.26 L628.06 289.41 L628.6 289.56 L629.15 289.71 L629.69 289.86 L630.23 290.01 L630.78 290.16 L631.32 290.31 L631.86 290.47 L632.41 290.62 L632.95 290.78 L633.49 290.94 L634.04 291.1 L634.58 291.26 L635.12 291.43 L635.67 291.6 L636.21 291.77 L636.75 291.94 L637.29 292.12 L637.84 292.3 L638.38 292.48 L638.92 292.66 L639.47 292.84 L640.01 293.03 L640.55 293.21 L641.1 293.4 L641.64 293.59 L642.18 293.77 L642.73 293.96 L643.27 294.14 L643.81 294.33 L644.36 294.51 L644.9 294.69 L645.44 294.88 L645.99 295.05 L646.53 295.23 L647.07 295.41 L647.62 295.58 L648.16 295.75 L648.7 295.92 L649.25 296.08 L649.79 296.24 L650.33 296.4 L650.88 296.55 L651.42 296.7 L651.96 296.84 L652.51 296.98 L653.05 297.11 L653.59 297.24 L654.14 297.38 L654.68 297.51 L655.22 297.64 L655.77 297.77 L656.31 297.89 L656.85 298.02 L657.4 298.14 L657.94 298.27 L658.48 298.39 L659.03 298.51 L659.57 298.63 L660.11 298.75 L660.66 298.86 L661.2 298.98 L661.74 299.09 L662.29 299.21 L662.83 299.32 L663.37 299.43 L663.92 299.53 L664.46 299.64 L665 299.75 L665.55 299.85 L666.09 299.95 L666.63 300.05 L667.18 300.15 L667.72 300.25 L668.26 300.35 L668.81 300.44 L669.35 300.53 L669.89 300.62 L670.44 300.71 L670.98 300.8 L671.52 300.89 L672.07 300.97 L672.61 301.06 L673.15 301.14 L673.7 301.22 L674.24 301.3 L674.78 301.37 L675.33 301.45 L675.87 301.53 L676.41 301.6 L676.95 301.68 L677.5 301.75 L678.04 301.82 L678.58 301.89 L679.13 301.96 L679.67 302.03 L680.21 302.1 L680.76 302.17 L681.3 302.23 L681.84 302.3 L682.39 302.37 L682.93 302.43 L683.47 302.49 L684.02 302.56 L684.56 302.62 L685.1 302.68 L685.65 302.74 L686.19 302.8 L686.73 302.86 L687.28 302.92 L687.82 302.97 L688.36 303.03 L688.91 303.09 L689.45 303.14 L689.99 303.2 L690.54 303.25 L691.08 303.3 L691.62 303.36 L692.17 303.41 L692.71 303.46 L693.25 303.51 L693.8 303.57 L694.34 303.62 L694.88 303.67 L695.43 303.72 L695.97 303.78 L696.51 303.83 L697.06 303.88 L697.6 303.94 L698.14 303.99 L698.69 304.04 L699.23 304.09 L699.77 304.15 L700.32 304.2 L700.86 304.25 L701.4 304.3 L701.95 304.35 L702.49 304.4 L703.03 304.45 L703.58 304.49 L704.12 304.54 L704.66 304.59 L705.21 304.63 L705.75 304.67 L706.29 304.71 L706.84 304.75 L707.38 304.79 L707.92 304.83 L708.47 304.87 L709.01 304.9 L709.55 304.93 L710.1 304.96 L710.64 304.99 L711.18 305.02 L711.73 305.04 L712.27 305.06 L712.81 305.08 L713.36 305.1 L713.9 305.12 L714.44 305.14 L714.98 305.15 L715.53 305.17 L716.07 305.18 L716.61 305.2 L717.16 305.22 L717.7 305.23 L718.24 305.25 L718.79 305.26 L719.33 305.28 L719.87 305.29 L720.42 305.3 L720.96 305.32 L721.5 305.33 L722.05 305.34 L722.59 305.36 L723.13 305.37 L723.68 305.38 L724.22 305.39 L724.76 305.4 L725.31 305.41 L725.85 305.42 L726.39 305.43 L726.94 305.44 L727.48 305.45 L728.02 305.46 L728.57 305.46 L729.11 305.47 L729.65 305.48 L730.2 305.48 L730.74 305.49 L731.28 305.49 L731.83 305.49 L732.37 305.5 L732.91 305.5 L733.46 305.5 L734 305.5"/>
<path d="M100 413 L100.55 417.24 L101.1 419.29 L101.65 420.72 L102.2 421.94 L102.76 422.99 L103.31 423.91 L103.86 424.79 L104.41 425.74 L104.96 426.71 L105.51 427.67 L106.06 428.56 L106.61 429.35 L107.16 430.06 L107.72 430.72 L108.27 431.34 L108.82 431.92 L109.37 432.47 L109.92 433 L110.47 433.52 L111.02 434.04 L111.57 434.54 L112.12 435.02 L112.68 435.49 L113.23 435.95 L113.78 436.38 L114.33 436.79 L114.88 437.18 L115.43 437.54 L115.98 437.88 L116.53 438.18 L117.08 438.47 L117.64 438.75 L118.19 439.01 L118.74 439.26 L119.29 439.49 L119.84 439.72 L120.39 439.94 L120.94 440.15 L121.49 440.36 L122.04 440.56 L122.6 440.76 L123.15 440.95 L123.7 441.14 L124.25 441.33 L124.8 441.51 L125.35 441.68 L125.9 441.85 L126.45 442.02 L127 442.19 L127.56 442.35 L128.11 442.5 L128.66 442.66 L129.21 442.81 L129.76 442.97 L130.31 443.12 L130.86 443.27 L131.41 443.42 L131.96 443.56 L132.52 443.71 L133.07 443.86 L133.62 444.01 L134.17 444.17 L134.72 444.32 L135.27 444.47 L135.82 444.63 L136.37 444.79 L136.92 444.95 L137.47 445.12 L138.03 445.28 L138.58 445.44 L139.13 445.6 L139.68 445.77 L140.23 445.93 L140.78 446.09 L141.33 446.26 L141.88 446.42 L142.43 446.58 L142.99 446.75 L143.54 446.91 L144.09 447.07 L144.64 447.24 L145.19 447.4 L145.74 447.57 L146.29 447.73 L146.84 447.89 L147.39 448.06 L147.95 448.22 L148.5 448.38 L149.05 448.55 L149.6 448.71 L150.15 448.87 L150.7 449.04 L151.25 449.2 L151.8 449.37 L152.35 449.54 L152.91 449.7 L153.46 449.87 L154.01 450.04 L154.56 450.21 L155.11 450.37 L155.66 450.54 L156.21 450.71 L156.76 450.87 L157.31 451.04 L157.87 451.21 L158.42 451.37 L158.97 451.53 L159.52 451.7 L160.07 451.86 L160.62 452.02 L161.17 452.18 L161.72 452.33 L162.27 452.49 L162.83 452.64 L163.38 452.79 L163.93 452.94 L164.48 453.09 L165.03 453.24 L165.58 453.39 L166.13 453.54 L166.68 453.68 L167.23 453.83 L167.79 453.97 L168.34 454.12 L168.89 454.26 L169.44 454.4 L169.99 454.54 L170.54 454.68 L171.09 454.82 L171.64 454.96 L172.19 455.09 L172.75 455.23 L173.3 455.36 L173.85 455.49 L174.4 455.62 L174.95 455.75 L175.5 455.88 L176.05 456.01 L176.6 456.13 L177.15 456.26 L177.71 456.38 L178.26 456.5 L178.81 456.63 L179.36 456.75 L179.91 456.87 L180.46 456.99 L181.01 457.11 L181.56 457.23 L182.11 457.35 L182.67 457.46 L183.22 457.58 L183.77 457.69 L184.32 457.81 L184.87 457.92 L185.42 458.03 L185.97 458.13 L186.52 458.24 L187.07 458.34 L187.63 458.44 L188.18 458.54 L188.73 458.64 L189.28 458.73 L189.83 458.82 L190.38 458.91 L190.93 459 L191.48 459.08 L192.03 459.17 L192.59 459.25 L193.14 459.33 L193.69 459.4 L194.24 459.48 L194.79 459.56 L195.34 459.63 L195.89 459.7 L196.44 459.77 L196.99 459.84 L197.55 459.91 L198.1 459.98 L198.65 460.04 L199.2 460.11 L199.75 460.17 L200.3 460.23 L200.85 460.3 L201.4 460.36 L201.95 460.42 L202.51 460.48 L203.06 460.54 L203.61 460.59 L204.16 460.65 L204.71 460.71 L205.26 460.76 L205.81 460.82 L206.36 460.87 L206.91 460.93 L207.46 460.98 L208.02 461.03 L208.57 461.09 L209.12 461.14 L209.67 461.19 L210.22 461.24 L210.77 461.29 L211.32 461.34 L211.87 461.4 L212.42 461.45 L212.98 461.5 L213.53 461.55 L214.08 461.6 L214.63 461.65 L215.18 461.7 L215.73 461.75 L216.28 461.8 L216.83 461.85 L217.38 461.9 L217.94 461.95 L218.49 462 L219.04 462.05 L219.59 462.1 L220.14 462.15 L220.69 462.21 L221.24 462.26 L221.79 462.31 L222.34 462.36 L222.9 462.41 L223.45 462.46 L224 462.51 L224.55 462.56 L225.1 462.61 L225.65 462.66 L226.2 462.71 L226.75 462.75 L227.3 462.8 L227.86 462.85 L228.41 462.9 L228.96 462.94 L229.51 462.99 L230.06 463.03 L230.61 463.08 L231.16 463.12 L231.71 463.16 L232.26 463.2 L232.82 463.25 L233.37 463.29 L233.92 463.33 L234.47 463.36 L235.02 463.4 L235.57 463.44 L236.12 463.47 L236.67 463.51 L237.22 463.55 L237.78 463.58 L238.33 463.62 L238.88 463.65 L239.43 463.68 L239.98 463.72 L240.53 463.75 L241.08 463.78 L241.63 463.81 L242.18 463.85 L242.74 463.88 L243.29 463.91 L243.84 463.94 L244.39 463.97 L244.94 464 L245.49 464.03 L246.04 464.06 L246.59 464.09 L247.14 464.12 L247.7 464.15 L248.25 464.17 L248.8 464.2 L249.35 464.23 L249.9 464.26 L250.45 464.28 L251 464.31 L251.55 464.34 L252.1 464.36 L252.66 464.39 L253.21 464.42 L253.76 464.44 L254.31 464.47 L254.86 464.49 L255.41 464.52 L255.96 464.54 L256.51 464.57 L257.06 464.59 L257.62 464.62 L258.17 464.64 L258.72 464.67 L259.27 464.69 L259.82 464.71 L260.37 464.74 L260.92 464.76 L261.47 464.78 L262.02 464.81 L262.58 464.83 L263.13 464.85 L263.68 464.87 L264.23 464.89 L264.78 464.92 L265.33 464.94 L265.88 464.96 L266.43 464.98 L266.98 465 L267.54 465.02 L268.09 465.04 L268.64 465.06 L269.19 465.08 L269.74 465.1 L270.29 465.12 L270.84 465.14 L271.39 465.16 L271.94 465.18 L272.49 465.2 L273.05 465.22 L273.6 465.24 L274.15 465.26 L274.7 465.28 L275.25 465.3 L275.8 465.31 L276.35 465.33 L276.9 465.35 L277.45 465.37 L278.01 465.38 L278.56 465.4 L279.11 465.42 L279.66 465.44 L280.21 465.45 L280.76 465.47 L281.31 465.49 L281.86 465.5 L282.41 465.52 L282.97 465.54 L283.52 465.55 L284.07 465.57 L284.62 465.59 L285.17 465.6 L285.72 465.62 L286.27 465.64 L286.82 465.65 L287.37 465.67 L287.93 465.68 L288.48 465.7 L289.03 465.72 L289.58 465.73 L290.13 465.75 L290.68 465.76 L291.23 465.78 L291.78 465.79 L292.33 465.81 L292.89 465.82 L293.44 465.84 L293.99 465.85 L294.54 465.87 L295.09 465.88 L295.64 465.9 L296.19 465.91 L296.74 465.93 L297.29 465.94 L297.85 465.96 L298.4 465.97 L298.95 465.98 L299.5 466 L300.05 466.01 L300.6 466.03 L301.15 466.04 L301.7 466.06 L302.25 466.07 L302.81 466.08 L303.36 466.1 L303.91 466.11 L304.46 466.13 L305.01 466.14 L305.56 466.15 L306.11 466.17 L306.66 466.18 L307.21 466.19 L307.77 466.21 L308.32 466.22 L308.87 466.23 L309.42 466.25 L309.97 466.26 L310.52 466.27 L311.07 466.29 L311.62 466.3 L312.17 466.31 L312.73 466.33 L313.28 466.34 L313.83 466.35 L314.38 466.36 L314.93 466.38 L315.48 466.39 L316.03 466.4 L316.58 466.42 L317.13 466.43 L317.69 466.44 L318.24 466.45 L318.79 466.47 L319.34 466.48 L319.89 466.49 L320.44 466.5 L320.99 466.52 L321.54 466.53 L322.09 466.54 L322.65 466.55 L323.2 466.56 L323.75 466.58 L324.3 466.59 L324.85 466.6 L325.4 466.61 L325.95 466.62 L326.5 466.64 L327.05 466.65 L327.61 466.66 L328.16 466.67 L328.71 466.68 L329.26 466.69 L329.81 466.7 L330.36 466.72 L330.91 466.73 L331.46 466.74 L332.01 466.75 L332.57 466.76 L333.12 466.77 L333.67 466.78 L334.22 466.79 L334.77 466.8 L335.32 466.82 L335.87 466.83 L336.42 466.84 L336.97 466.85 L337.53 466.86 L338.08 466.87 L338.63 466.88 L339.18 466.89 L339.73 466.9 L340.28 466.91 L340.83 466.92 L341.38 466.93 L341.93 466.94 L342.48 466.95 L343.04 466.96 L343.59 466.97 L344.14 466.98 L344.69 466.99 L345.24 467 L345.79 467.01 L346.34 467.02 L346.89 467.03 L347.44 467.04 L348 467.05 L348.55 467.06 L349.1 467.07 L349.65 467.08 L350.2 467.09 L350.75 467.1 L351.3 467.11 L351.85 467.12 L352.4 467.13 L352.96 467.14 L353.51 467.15 L354.06 467.16 L354.61 467.17 L355.16 467.18 L355.71 467.19 L356.26 467.2 L356.81 467.21 L357.36 467.22 L357.92 467.23 L358.47 467.24 L359.02 467.25 L359.57 467.26 L360.12 467.27 L360.67 467.28 L361.22 467.28 L361.77 467.29 L362.32 467.3 L362.88 467.31 L363.43 467.32 L363.98 467.33 L364.53 467.34 L365.08 467.35 L365.63 467.36 L366.18 467.37 L366.73 467.37 L367.28 467.38 L367.84 467.39 L368.39 467.4 L368.94 467.41 L369.49 467.42 L370.04 467.43 L370.59 467.43 L371.14 467.44 L371.69 467.45 L372.24 467.46 L372.8 467.47 L373.35 467.48 L373.9 467.48 L374.45 467.49 L375 467.5"/>
<path d="M462.4 405.5 L462.94 411.76 L463.49 416.53 L464.03 419.76 L464.58 422.44 L465.12 424.59 L465.67 426.22 L466.21 427.54 L466.75 428.78 L467.3 429.88 L467.84 430.74 L468.39 431.31 L468.93 431.5 L469.48 431.39 L470.02 431.11 L470.56 430.68 L471.11 430.13 L471.65 429.49 L472.2 428.79 L472.74 428.06 L473.29 427.32 L473.83 426.44 L474.37 425.29 L474.92 423.97 L475.46 422.55 L476.01 421.11 L476.55 419.74 L477.1 418.53 L477.64 417.54 L478.18 416.67 L478.73 415.83 L479.27 415.03 L479.82 414.29 L480.36 413.62 L480.91 413.04 L481.45 412.58 L481.99 412.25 L482.54 411.97 L483.08 411.71 L483.63 411.49 L484.17 411.32 L484.72 411.22 L485.26 411.21 L485.8 411.39 L486.35 411.75 L486.89 412.27 L487.44 412.89 L487.98 413.6 L488.53 414.33 L489.07 415.07 L489.61 415.78 L490.16 416.59 L490.7 417.49 L491.25 418.47 L491.79 419.49 L492.34 420.52 L492.88 421.55 L493.42 422.53 L493.97 423.45 L494.51 424.37 L495.06 425.3 L495.6 426.22 L496.15 427.14 L496.69 428.04 L497.23 428.92 L497.78 429.77 L498.32 430.59 L498.87 431.38 L499.41 432.13 L499.96 432.89 L500.5 433.65 L501.04 434.41 L501.59 435.14 L502.13 435.83 L502.68 436.48 L503.22 437.06 L503.77 437.56 L504.31 437.98 L504.85 438.31 L505.4 438.64 L505.94 438.96 L506.49 439.26 L507.03 439.53 L507.58 439.77 L508.12 439.98 L508.66 440.14 L509.21 440.25 L509.75 440.3 L510.3 440.3 L510.84 440.28 L511.39 440.24 L511.93 440.2 L512.47 440.14 L513.02 440.07 L513.56 440 L514.11 439.91 L514.65 439.82 L515.2 439.72 L515.74 439.59 L516.28 439.4 L516.83 439.15 L517.37 438.85 L517.92 438.51 L518.46 438.14 L519.01 437.75 L519.55 437.34 L520.09 436.94 L520.64 436.54 L521.18 436.14 L521.73 435.7 L522.27 435.24 L522.82 434.75 L523.36 434.24 L523.9 433.73 L524.45 433.21 L524.99 432.7 L525.54 432.2 L526.08 431.72 L526.63 431.25 L527.17 430.79 L527.71 430.33 L528.26 429.88 L528.8 429.43 L529.35 428.98 L529.89 428.52 L530.44 428.05 L530.98 427.58 L531.52 427.1 L532.07 426.62 L532.61 426.13 L533.16 425.63 L533.7 425.14 L534.25 424.64 L534.79 424.15 L535.33 423.66 L535.88 423.17 L536.42 422.7 L536.97 422.23 L537.51 421.78 L538.06 421.34 L538.6 420.9 L539.14 420.45 L539.69 420 L540.23 419.54 L540.78 419.09 L541.32 418.64 L541.87 418.19 L542.41 417.75 L542.95 417.32 L543.5 416.91 L544.04 416.51 L544.59 416.12 L545.13 415.76 L545.68 415.43 L546.22 415.11 L546.76 414.83 L547.31 414.58 L547.85 414.36 L548.4 414.13 L548.94 413.91 L549.49 413.69 L550.03 413.47 L550.57 413.26 L551.12 413.06 L551.66 412.86 L552.21 412.68 L552.75 412.51 L553.3 412.35 L553.84 412.21 L554.38 412.09 L554.93 411.98 L555.47 411.9 L556.02 411.84 L556.56 411.81 L557.11 411.8 L557.65 411.8 L558.19 411.8 L558.74 411.8 L559.28 411.8 L559.83 411.8 L560.37 411.8 L560.92 411.8 L561.46 411.8 L562 411.8 L562.55 411.8 L563.09 411.8 L563.64 411.8 L564.18 411.8 L564.73 411.8 L565.27 411.8 L565.81 411.8 L566.36 411.8 L566.9 411.82 L567.45 411.87 L567.99 411.96 L568.54 412.08 L569.08 412.23 L569.62 412.4 L570.17 412.6 L570.71 412.81 L571.26 413.04 L571.8 413.29 L572.35 413.54 L572.89 413.8 L573.43 414.07 L573.98 414.34 L574.52 414.6 L575.07 414.86 L575.61 415.12 L576.16 415.36 L576.7 415.62 L577.24 415.9 L577.79 416.19 L578.33 416.48 L578.88 416.79 L579.42 417.11 L579.97 417.43 L580.51 417.77 L581.05 418.1 L581.6 418.44 L582.14 418.79 L582.69 419.13 L583.23 419.48 L583.78 419.82 L584.32 420.17 L584.86 420.52 L585.41 420.88 L585.95 421.25 L586.5 421.62 L587.04 421.99 L587.59 422.38 L588.13 422.76 L588.67 423.15 L589.22 423.54 L589.76 423.93 L590.31 424.33 L590.85 424.73 L591.4 425.12 L591.94 425.52 L592.48 425.92 L593.03 426.32 L593.57 426.71 L594.12 427.1 L594.66 427.49 L595.21 427.88 L595.75 428.27 L596.29 428.65 L596.84 429.02 L597.38 429.39 L597.93 429.75 L598.47 430.12 L599.02 430.49 L599.56 430.85 L600.11 431.21 L600.65 431.58 L601.19 431.94 L601.74 432.3 L602.28 432.66 L602.83 433.02 L603.37 433.37 L603.92 433.73 L604.46 434.08 L605 434.43 L605.55 434.78 L606.09 435.13 L606.64 435.48 L607.18 435.82 L607.73 436.16 L608.27 436.5 L608.81 436.84 L609.36 437.17 L609.9 437.5 L610.45 437.83 L610.99 438.15 L611.54 438.48 L612.08 438.79 L612.62 439.11 L613.17 439.42 L613.71 439.73 L614.26 440.03 L614.8 440.34 L615.35 440.64 L615.89 440.94 L616.43 441.23 L616.98 441.53 L617.52 441.83 L618.07 442.12 L618.61 442.41 L619.16 442.71 L619.7 443 L620.24 443.29 L620.79 443.59 L621.33 443.88 L621.88 444.17 L622.42 444.47 L622.97 444.77 L623.51 445.06 L624.05 445.36 L624.6 445.67 L625.14 445.97 L625.69 446.29 L626.23 446.6 L626.78 446.92 L627.32 447.24 L627.86 447.56 L628.41 447.87 L628.95 448.18 L629.5 448.49 L630.04 448.79 L630.59 449.09 L631.13 449.37 L631.67 449.65 L632.22 449.91 L632.76 450.17 L633.31 450.42 L633.85 450.67 L634.4 450.92 L634.94 451.17 L635.48 451.42 L636.03 451.66 L636.57 451.9 L637.12 452.15 L637.66 452.38 L638.21 452.62 L638.75 452.85 L639.29 453.09 L639.84 453.32 L640.38 453.54 L640.93 453.77 L641.47 453.99 L642.02 454.21 L642.56 454.42 L643.1 454.64 L643.65 454.85 L644.19 455.05 L644.74 455.26 L645.28 455.46 L645.83 455.66 L646.37 455.85 L646.91 456.04 L647.46 456.23 L648 456.41 L648.55 456.59 L649.09 456.77 L649.64 456.94 L650.18 457.1 L650.72 457.27 L651.27 457.43 L651.81 457.58 L652.36 457.73 L652.9 457.88 L653.45 458.02 L653.99 458.17 L654.53 458.3 L655.08 458.44 L655.62 458.57 L656.17 458.71 L656.71 458.83 L657.26 458.96 L657.8 459.09 L658.34 459.21 L658.89 459.33 L659.43 459.45 L659.98 459.57 L660.52 459.68 L661.07 459.79 L661.61 459.91 L662.15 460.02 L662.7 460.13 L663.24 460.23 L663.79 460.34 L664.33 460.45 L664.88 460.55 L665.42 460.65 L665.96 460.75 L666.51 460.86 L667.05 460.96 L667.6 461.06 L668.14 461.15 L668.69 461.25 L669.23 461.35 L669.77 461.45 L670.32 461.54 L670.86 461.64 L671.41 461.74 L671.95 461.83 L672.5 461.93 L673.04 462.02 L673.58 462.12 L674.13 462.22 L674.67 462.31 L675.22 462.41 L675.76 462.5 L676.31 462.6 L676.85 462.69 L677.39 462.79 L677.94 462.88 L678.48 462.98 L679.03 463.07 L679.57 463.16 L680.12 463.26 L680.66 463.35 L681.2 463.44 L681.75 463.53 L682.29 463.62 L682.84 463.7 L683.38 463.79 L683.93 463.88 L684.47 463.96 L685.01 464.05 L685.56 464.13 L686.1 464.21 L686.65 464.29 L687.19 464.37 L687.74 464.44 L688.28 464.52 L688.82 464.59 L689.37 464.66 L689.91 464.73 L690.46 464.8 L691 464.86 L691.55 464.93 L692.09 464.99 L692.63 465.05 L693.18 465.11 L693.72 465.16 L694.27 465.22 L694.81 465.28 L695.36 465.33 L695.9 465.39 L696.44 465.45 L696.99 465.5 L697.53 465.56 L698.08 465.61 L698.62 465.66 L699.17 465.72 L699.71 465.77 L700.25 465.82 L700.8 465.87 L701.34 465.92 L701.89 465.97 L702.43 466.02 L702.98 466.07 L703.52 466.11 L704.06 466.16 L704.61 466.2 L705.15 466.24 L705.7 466.29 L706.24 466.33 L706.79 466.36 L707.33 466.4 L707.87 466.44 L708.42 466.47 L708.96 466.5 L709.51 466.53 L710.05 466.56 L710.6 466.59 L711.14 466.62 L711.68 466.64 L712.23 466.66 L712.77 466.68 L713.32 466.7 L713.86 466.72 L714.41 466.73 L714.95 466.75 L715.49 466.77 L716.04 466.78 L716.58 466.8 L717.13 466.82 L717.67 466.83 L718.22 466.85 L718.76 466.86 L719.3 466.88 L719.85 466.89 L720.39 466.9 L720.94 466.92 L721.48 466.93 L722.03 466.94 L722.57 466.96 L723.11 466.97 L723.66 466.98 L724.2 466.99 L724.75 467 L725.29 467.01 L725.84 467.02 L726.38 467.03 L726.92 467.04 L727.47 467.05 L728.01 467.06 L728.56 467.06 L729.1 467.07 L729.65 467.08 L730.19 467.08 L730.73 467.09 L731.28 467.09 L731.82 467.09 L732.37 467.1 L732.91 467.1 L733.46 467.1 L734 467.1"/>
<path d="M100.7 574 L101.25 580.57 L101.8 587.23 L102.34 593.64 L102.89 599.86 L103.44 605.35 L103.99 609.95 L104.53 613.7 L105.08 616.62 L105.63 619.11 L106.18 621.4 L106.72 623.7 L107.27 625.94 L107.82 627.97 L108.37 629.66 L108.92 630.99 L109.46 632.21 L110.01 633.33 L110.56 634.36 L111.11 635.3 L111.65 636.15 L112.2 636.91 L112.75 637.6 L113.3 638.21 L113.84 638.77 L114.39 639.28 L114.94 639.75 L115.49 640.19 L116.04 640.59 L116.58 640.97 L117.13 641.34 L117.68 641.69 L118.23 642.03 L118.77 642.36 L119.32 642.69 L119.87 643 L120.42 643.31 L120.96 643.61 L121.51 643.89 L122.06 644.18 L122.61 644.45 L123.16 644.71 L123.7 644.97 L124.25 645.21 L124.8 645.45 L125.35 645.69 L125.89 645.91 L126.44 646.13 L126.99 646.33 L127.54 646.54 L128.08 646.74 L128.63 646.95 L129.18 647.15 L129.73 647.35 L130.28 647.54 L130.82 647.73 L131.37 647.91 L131.92 648.08 L132.47 648.25 L133.01 648.41 L133.56 648.55 L134.11 648.69 L134.66 648.82 L135.2 648.93 L135.75 649.03 L136.3 649.11 L136.85 649.2 L137.4 649.28 L137.94 649.35 L138.49 649.43 L139.04 649.5 L139.59 649.58 L140.13 649.64 L140.68 649.71 L141.23 649.77 L141.78 649.82 L142.32 649.87 L142.87 649.91 L143.42 649.94 L143.97 649.97 L144.52 649.99 L145.06 650 L145.61 650 L146.16 649.99 L146.71 649.96 L147.25 649.93 L147.8 649.89 L148.35 649.83 L148.9 649.77 L149.44 649.7 L149.99 649.63 L150.54 649.54 L151.09 649.46 L151.64 649.37 L152.18 649.28 L152.73 649.18 L153.28 649.09 L153.83 648.99 L154.37 648.9 L154.92 648.8 L155.47 648.71 L156.02 648.63 L156.56 648.54 L157.11 648.46 L157.66 648.37 L158.21 648.28 L158.76 648.19 L159.3 648.09 L159.85 648 L160.4 647.9 L160.95 647.8 L161.49 647.7 L162.04 647.6 L162.59 647.49 L163.14 647.39 L163.68 647.28 L164.23 647.18 L164.78 647.07 L165.33 646.96 L165.88 646.86 L166.42 646.75 L166.97 646.64 L167.52 646.53 L168.07 646.43 L168.61 646.32 L169.16 646.21 L169.71 646.11 L170.26 646 L170.81 645.9 L171.35 645.79 L171.9 645.69 L172.45 645.59 L173 645.49 L173.54 645.39 L174.09 645.28 L174.64 645.18 L175.19 645.07 L175.73 644.97 L176.28 644.86 L176.83 644.75 L177.38 644.65 L177.93 644.54 L178.47 644.43 L179.02 644.33 L179.57 644.22 L180.12 644.11 L180.66 644.01 L181.21 643.9 L181.76 643.8 L182.31 643.7 L182.85 643.6 L183.4 643.5 L183.95 643.41 L184.5 643.31 L185.05 643.22 L185.59 643.13 L186.14 643.04 L186.69 642.96 L187.24 642.88 L187.78 642.8 L188.33 642.72 L188.88 642.65 L189.43 642.57 L189.97 642.5 L190.52 642.42 L191.07 642.34 L191.62 642.27 L192.17 642.19 L192.71 642.11 L193.26 642.03 L193.81 641.95 L194.36 641.88 L194.9 641.8 L195.45 641.73 L196 641.66 L196.55 641.59 L197.09 641.52 L197.64 641.46 L198.19 641.4 L198.74 641.34 L199.29 641.28 L199.83 641.23 L200.38 641.19 L200.93 641.14 L201.48 641.11 L202.02 641.07 L202.57 641.05 L203.12 641.03 L203.67 641.01 L204.21 641 L204.76 641 L205.31 641 L205.86 641 L206.41 641 L206.95 641 L207.5 641.01 L208.05 641.01 L208.6 641.01 L209.14 641.02 L209.69 641.02 L210.24 641.03 L210.79 641.03 L211.33 641.04 L211.88 641.05 L212.43 641.05 L212.98 641.06 L213.53 641.07 L214.07 641.07 L214.62 641.08 L215.17 641.09 L215.72 641.1 L216.26 641.11 L216.81 641.12 L217.36 641.13 L217.91 641.14 L218.45 641.15 L219 641.16 L219.55 641.17 L220.1 641.18 L220.65 641.19 L221.19 641.21 L221.74 641.22 L222.29 641.24 L222.84 641.27 L223.38 641.29 L223.93 641.32 L224.48 641.35 L225.03 641.39 L225.57 641.43 L226.12 641.47 L226.67 641.51 L227.22 641.56 L227.77 641.6 L228.31 641.65 L228.86 641.7 L229.41 641.75 L229.96 641.8 L230.5 641.86 L231.05 641.91 L231.6 641.96 L232.15 642.02 L232.69 642.07 L233.24 642.13 L233.79 642.18 L234.34 642.24 L234.89 642.29 L235.43 642.35 L235.98 642.4 L236.53 642.45 L237.08 642.5 L237.62 642.55 L238.17 642.6 L238.72 642.64 L239.27 642.69 L239.81 642.74 L240.36 642.79 L240.91 642.84 L241.46 642.88 L242.01 642.93 L242.55 642.98 L243.1 643.03 L243.65 643.08 L244.2 643.13 L244.74 643.18 L245.29 643.23 L245.84 643.28 L246.39 643.33 L246.93 643.38 L247.48 643.43 L248.03 643.48 L248.58 643.53 L249.13 643.59 L249.67 643.64 L250.22 643.69 L250.77 643.75 L251.32 643.81 L251.86 643.86 L252.41 643.92 L252.96 643.98 L253.51 644.04 L254.05 644.1 L254.6 644.16 L255.15 644.23 L255.7 644.29 L256.25 644.36 L256.79 644.42 L257.34 644.49 L257.89 644.56 L258.44 644.63 L258.98 644.7 L259.53 644.78 L260.08 644.85 L260.63 644.94 L261.17 645.02 L261.72 645.12 L262.27 645.22 L262.82 645.32 L263.37 645.43 L263.91 645.54 L264.46 645.65 L265.01 645.76 L265.56 645.87 L266.1 645.98 L266.65 646.1 L267.2 646.21 L267.75 646.32 L268.29 646.42 L268.84 646.53 L269.39 646.63 L269.94 646.72 L270.49 646.81 L271.03 646.9 L271.58 646.99 L272.13 647.07 L272.68 647.16 L273.22 647.24 L273.77 647.33 L274.32 647.41 L274.87 647.49 L275.41 647.57 L275.96 647.65 L276.51 647.73 L277.06 647.81 L277.61 647.89 L278.15 647.96 L278.7 648.04 L279.25 648.11 L279.8 648.19 L280.34 648.26 L280.89 648.34 L281.44 648.41 L281.99 648.49 L282.53 648.56 L283.08 648.63 L283.63 648.7 L284.18 648.77 L284.73 648.85 L285.27 648.92 L285.82 648.99 L286.37 649.06 L286.92 649.13 L287.46 649.2 L288.01 649.27 L288.56 649.34 L289.11 649.41 L289.65 649.48 L290.2 649.55 L290.75 649.62 L291.3 649.69 L291.85 649.76 L292.39 649.82 L292.94 649.89 L293.49 649.96 L294.04 650.02 L294.58 650.09 L295.13 650.15 L295.68 650.21 L296.23 650.28 L296.77 650.34 L297.32 650.4 L297.87 650.46 L298.42 650.52 L298.97 650.59 L299.51 650.65 L300.06 650.71 L300.61 650.77 L301.16 650.83 L301.7 650.89 L302.25 650.95 L302.8 651.02 L303.35 651.08 L303.89 651.14 L304.44 651.2 L304.99 651.27 L305.54 651.33 L306.09 651.4 L306.63 651.46 L307.18 651.53 L307.73 651.59 L308.28 651.66 L308.82 651.73 L309.37 651.8 L309.92 651.87 L310.47 651.94 L311.02 652.02 L311.56 652.09 L312.11 652.17 L312.66 652.24 L313.21 652.32 L313.75 652.4 L314.3 652.48 L314.85 652.57 L315.4 652.65 L315.94 652.74 L316.49 652.82 L317.04 652.91 L317.59 653 L318.14 653.08 L318.68 653.17 L319.23 653.26 L319.78 653.35 L320.33 653.44 L320.87 653.53 L321.42 653.62 L321.97 653.71 L322.52 653.8 L323.06 653.89 L323.61 653.97 L324.16 654.06 L324.71 654.15 L325.26 654.24 L325.8 654.32 L326.35 654.41 L326.9 654.49 L327.45 654.58 L327.99 654.66 L328.54 654.74 L329.09 654.82 L329.64 654.9 L330.18 654.97 L330.73 655.05 L331.28 655.12 L331.83 655.2 L332.38 655.27 L332.92 655.34 L333.47 655.41 L334.02 655.48 L334.57 655.55 L335.11 655.62 L335.66 655.69 L336.21 655.76 L336.76 655.83 L337.3 655.9 L337.85 655.97 L338.4 656.03 L338.95 656.1 L339.5 656.16 L340.04 656.23 L340.59 656.3 L341.14 656.36 L341.69 656.43 L342.23 656.49 L342.78 656.55 L343.33 656.62 L343.88 656.68 L344.42 656.74 L344.97 656.8 L345.52 656.87 L346.07 656.93 L346.62 656.99 L347.16 657.05 L347.71 657.11 L348.26 657.17 L348.81 657.23 L349.35 657.29 L349.9 657.35 L350.45 657.41 L351 657.47 L351.54 657.53 L352.09 657.58 L352.64 657.64 L353.19 657.7 L353.74 657.76 L354.28 657.82 L354.83 657.87 L355.38 657.93 L355.93 657.99 L356.47 658.04 L357.02 658.1 L357.57 658.16 L358.12 658.21 L358.66 658.27 L359.21 658.32 L359.76 658.38 L360.31 658.43 L360.86 658.49 L361.4 658.54 L361.95 658.59 L362.5 658.65 L363.05 658.7 L363.59 658.75 L364.14 658.81 L364.69 658.86 L365.24 658.91 L365.78 658.96 L366.33 659.01 L366.88 659.06 L367.43 659.12 L367.98 659.17 L368.52 659.22 L369.07 659.27 L369.62 659.32 L370.17 659.36 L370.71 659.41 L371.26 659.46 L371.81 659.51 L372.36 659.56 L372.9 659.61 L373.45 659.65 L374 659.7"/>
<path d="M462.3 544 L462.84 561.63 L463.39 579.73 L463.93 590.89 L464.48 598.6 L465.02 604.2 L465.57 608.3 L466.11 612.3 L466.66 618.05 L467.2 623.66 L467.74 626.66 L468.29 628.77 L468.83 630.45 L469.38 631.91 L469.92 633.38 L470.47 634.98 L471.01 636.59 L471.56 638.13 L472.1 639.53 L472.65 640.7 L473.19 641.58 L473.73 642.33 L474.28 643.02 L474.82 643.64 L475.37 644.21 L475.91 644.72 L476.46 645.2 L477 645.64 L477.55 646.04 L478.09 646.43 L478.63 646.79 L479.18 647.13 L479.72 647.46 L480.27 647.76 L480.81 648.06 L481.36 648.33 L481.9 648.6 L482.45 648.85 L482.99 649.09 L483.54 649.32 L484.08 649.54 L484.62 649.76 L485.17 649.96 L485.71 650.17 L486.26 650.37 L486.8 650.57 L487.35 650.76 L487.89 650.95 L488.44 651.13 L488.98 651.3 L489.52 651.47 L490.07 651.64 L490.61 651.79 L491.16 651.94 L491.7 652.08 L492.25 652.21 L492.79 652.34 L493.34 652.45 L493.88 652.55 L494.42 652.66 L494.97 652.76 L495.51 652.87 L496.06 652.97 L496.6 653.07 L497.15 653.17 L497.69 653.27 L498.24 653.36 L498.78 653.45 L499.33 653.54 L499.87 653.62 L500.41 653.69 L500.96 653.76 L501.5 653.82 L502.05 653.88 L502.59 653.92 L503.14 653.96 L503.68 653.98 L504.23 654 L504.77 654 L505.31 654 L505.86 654 L506.4 653.99 L506.95 653.99 L507.49 653.98 L508.04 653.98 L508.58 653.97 L509.13 653.96 L509.67 653.95 L510.22 653.94 L510.76 653.93 L511.3 653.92 L511.85 653.91 L512.39 653.9 L512.94 653.89 L513.48 653.87 L514.03 653.86 L514.57 653.84 L515.12 653.83 L515.66 653.81 L516.2 653.8 L516.75 653.78 L517.29 653.76 L517.84 653.74 L518.38 653.71 L518.93 653.68 L519.47 653.65 L520.02 653.62 L520.56 653.58 L521.1 653.54 L521.65 653.5 L522.19 653.46 L522.74 653.41 L523.28 653.36 L523.83 653.32 L524.37 653.27 L524.92 653.22 L525.46 653.17 L526.01 653.11 L526.55 653.06 L527.09 653.01 L527.64 652.95 L528.18 652.9 L528.73 652.85 L529.27 652.79 L529.82 652.74 L530.36 652.69 L530.91 652.64 L531.45 652.59 L531.99 652.54 L532.54 652.49 L533.08 652.44 L533.63 652.39 L534.17 652.33 L534.72 652.28 L535.26 652.22 L535.81 652.16 L536.35 652.11 L536.89 652.05 L537.44 651.99 L537.98 651.93 L538.53 651.87 L539.07 651.81 L539.62 651.75 L540.16 651.69 L540.71 651.63 L541.25 651.57 L541.8 651.51 L542.34 651.45 L542.88 651.39 L543.43 651.34 L543.97 651.28 L544.52 651.23 L545.06 651.18 L545.61 651.13 L546.15 651.08 L546.7 651.03 L547.24 650.99 L547.78 650.95 L548.33 650.91 L548.87 650.88 L549.42 650.84 L549.96 650.81 L550.51 650.77 L551.05 650.74 L551.6 650.71 L552.14 650.68 L552.69 650.65 L553.23 650.62 L553.77 650.59 L554.32 650.56 L554.86 650.53 L555.41 650.5 L555.95 650.47 L556.5 650.45 L557.04 650.42 L557.59 650.4 L558.13 650.37 L558.67 650.35 L559.22 650.32 L559.76 650.3 L560.31 650.28 L560.85 650.25 L561.4 650.23 L561.94 650.21 L562.49 650.19 L563.03 650.16 L563.57 650.14 L564.12 650.12 L564.66 650.1 L565.21 650.08 L565.75 650.06 L566.3 650.04 L566.84 650.01 L567.39 649.99 L567.93 649.97 L568.48 649.95 L569.02 649.92 L569.56 649.9 L570.11 649.88 L570.65 649.86 L571.2 649.83 L571.74 649.81 L572.29 649.79 L572.83 649.77 L573.38 649.75 L573.92 649.73 L574.46 649.72 L575.01 649.7 L575.55 649.68 L576.1 649.67 L576.64 649.65 L577.19 649.64 L577.73 649.63 L578.28 649.62 L578.82 649.61 L579.37 649.61 L579.91 649.6 L580.45 649.6 L581 649.6 L581.54 649.6 L582.09 649.6 L582.63 649.6 L583.18 649.6 L583.72 649.6 L584.27 649.6 L584.81 649.6 L585.35 649.6 L585.9 649.6 L586.44 649.6 L586.99 649.6 L587.53 649.6 L588.08 649.6 L588.62 649.6 L589.17 649.6 L589.71 649.6 L590.25 649.6 L590.8 649.6 L591.34 649.6 L591.89 649.6 L592.43 649.6 L592.98 649.6 L593.52 649.6 L594.07 649.6 L594.61 649.6 L595.16 649.6 L595.7 649.6 L596.24 649.6 L596.79 649.6 L597.33 649.6 L597.88 649.6 L598.42 649.6 L598.97 649.6 L599.51 649.61 L600.06 649.61 L600.6 649.61 L601.14 649.62 L601.69 649.62 L602.23 649.63 L602.78 649.64 L603.32 649.64 L603.87 649.65 L604.41 649.66 L604.96 649.67 L605.5 649.68 L606.05 649.69 L606.59 649.7 L607.13 649.71 L607.68 649.72 L608.22 649.74 L608.77 649.75 L609.31 649.76 L609.86 649.78 L610.4 649.79 L610.95 649.81 L611.49 649.82 L612.03 649.84 L612.58 649.85 L613.12 649.87 L613.67 649.89 L614.21 649.9 L614.76 649.92 L615.3 649.94 L615.85 649.96 L616.39 649.98 L616.93 650 L617.48 650.02 L618.02 650.04 L618.57 650.06 L619.11 650.08 L619.66 650.1 L620.2 650.12 L620.75 650.15 L621.29 650.19 L621.84 650.23 L622.38 650.27 L622.92 650.32 L623.47 650.38 L624.01 650.43 L624.56 650.49 L625.1 650.56 L625.65 650.62 L626.19 650.69 L626.74 650.75 L627.28 650.82 L627.82 650.89 L628.37 650.95 L628.91 651.02 L629.46 651.09 L630 651.15 L630.55 651.21 L631.09 651.27 L631.64 651.33 L632.18 651.38 L632.73 651.43 L633.27 651.48 L633.81 651.52 L634.36 651.57 L634.9 651.62 L635.45 651.66 L635.99 651.71 L636.54 651.75 L637.08 651.79 L637.63 651.83 L638.17 651.88 L638.71 651.92 L639.26 651.96 L639.8 652 L640.35 652.04 L640.89 652.08 L641.44 652.12 L641.98 652.16 L642.53 652.2 L643.07 652.24 L643.61 652.28 L644.16 652.32 L644.7 652.36 L645.25 652.41 L645.79 652.45 L646.34 652.49 L646.88 652.53 L647.43 652.57 L647.97 652.61 L648.52 652.66 L649.06 652.7 L649.6 652.74 L650.15 652.79 L650.69 652.83 L651.24 652.88 L651.78 652.93 L652.33 652.98 L652.87 653.02 L653.42 653.07 L653.96 653.12 L654.5 653.18 L655.05 653.23 L655.59 653.28 L656.14 653.33 L656.68 653.39 L657.23 653.44 L657.77 653.5 L658.32 653.55 L658.86 653.61 L659.41 653.67 L659.95 653.72 L660.49 653.78 L661.04 653.84 L661.58 653.9 L662.13 653.95 L662.67 654.01 L663.22 654.07 L663.76 654.13 L664.31 654.19 L664.85 654.25 L665.39 654.31 L665.94 654.37 L666.48 654.42 L667.03 654.48 L667.57 654.54 L668.12 654.6 L668.66 654.66 L669.21 654.72 L669.75 654.77 L670.29 654.83 L670.84 654.89 L671.38 654.94 L671.93 655 L672.47 655.06 L673.02 655.11 L673.56 655.17 L674.11 655.22 L674.65 655.28 L675.2 655.34 L675.74 655.39 L676.28 655.45 L676.83 655.51 L677.37 655.56 L677.92 655.62 L678.46 655.68 L679.01 655.73 L679.55 655.79 L680.1 655.85 L680.64 655.9 L681.18 655.96 L681.73 656.02 L682.27 656.07 L682.82 656.13 L683.36 656.19 L683.91 656.24 L684.45 656.3 L685 656.35 L685.54 656.41 L686.08 656.46 L686.63 656.51 L687.17 656.57 L687.72 656.62 L688.26 656.67 L688.81 656.72 L689.35 656.77 L689.9 656.82 L690.44 656.87 L690.99 656.92 L691.53 656.97 L692.07 657.01 L692.62 657.06 L693.16 657.11 L693.71 657.15 L694.25 657.19 L694.8 657.24 L695.34 657.28 L695.89 657.32 L696.43 657.36 L696.97 657.4 L697.52 657.44 L698.06 657.48 L698.61 657.52 L699.15 657.56 L699.7 657.6 L700.24 657.64 L700.79 657.68 L701.33 657.72 L701.88 657.76 L702.42 657.79 L702.96 657.83 L703.51 657.87 L704.05 657.9 L704.6 657.94 L705.14 657.98 L705.69 658.01 L706.23 658.05 L706.78 658.08 L707.32 658.12 L707.86 658.15 L708.41 658.19 L708.95 658.22 L709.5 658.26 L710.04 658.29 L710.59 658.33 L711.13 658.36 L711.68 658.4 L712.22 658.43 L712.76 658.47 L713.31 658.5 L713.85 658.53 L714.4 658.57 L714.94 658.6 L715.49 658.64 L716.03 658.67 L716.58 658.7 L717.12 658.74 L717.67 658.77 L718.21 658.8 L718.75 658.84 L719.3 658.87 L719.84 658.9 L720.39 658.94 L720.93 658.97 L721.48 659 L722.02 659.03 L722.57 659.06 L723.11 659.1 L723.65 659.13 L724.2 659.16 L724.74 659.19 L725.29 659.22 L725.83 659.25 L726.38 659.28 L726.92 659.32 L727.47 659.35 L728.01 659.38 L728.56 659.41 L729.1 659.44 L729.64 659.47 L730.19 659.5 L730.73 659.53 L731.28 659.56 L731.82 659.58 L732.37 659.61 L732.91 659.64 L733.46 659.67 L734 659.7"/>
</g>
<g stroke="#000" stroke-width="2" fill="none">
<rect x="99.8" y="3.55" width="275.3" height="129.9"/>
<rect x="460.5" y="3.55" width="273.6" height="129.9"/>
<rect x="99.8" y="185.2" width="275.3" height="128"/>
<rect x="460.5" y="185.2" width="273.6" height="128"/>
<rect x="99.8" y="364.8" width="275.3" height="111.8"/>
<rect x="460.5" y="364.8" width="273.6" height="111.8"/>
<rect x="99.8" y="544" width="275.3" height="123.4"/>
<rect x="460.5" y="544" width="273.6" height="123.4"/>
</g>
<path stroke="#000" stroke-width="1" fill="none" d="M99.8 133.45V130.45 M99.8 3.55V6.55 M252.74 133.45V130.45 M252.74 3.55V6.55 M99.8 133.45H102.8 M375.1 133.45H372.1 M99.8 25.2H102.8 M375.1 25.2H372.1 M460.5 133.45V130.45 M460.5 3.55V6.55 M612.5 133.45V130.45 M612.5 3.55V6.55 M460.5 133.45H463.5 M734.1 133.45H731.1 M460.5 25.2H463.5 M734.1 25.2H731.1 M99.8 313.2V310.2 M99.8 185.2V188.2 M252.74 313.2V310.2 M252.74 185.2V188.2 M99.8 313.2H102.8 M375.1 313.2H372.1 M99.8 249.2H102.8 M375.1 249.2H372.1 M99.8 185.2H102.8 M375.1 185.2H372.1 M460.5 313.2V310.2 M460.5 185.2V188.2 M612.5 313.2V310.2 M612.5 185.2V188.2 M460.5 313.2H463.5 M734.1 313.2H731.1 M460.5 249.2H463.5 M734.1 249.2H731.1 M460.5 185.2H463.5 M734.1 185.2H731.1 M99.8 476.6V473.6 M99.8 364.8V367.8 M252.74 476.6V473.6 M252.74 364.8V367.8 M99.8 476.6H102.8 M375.1 476.6H372.1 M99.8 374.96H102.8 M375.1 374.96H372.1 M460.5 476.6V473.6 M460.5 364.8V367.8 M612.5 476.6V473.6 M612.5 364.8V367.8 M460.5 476.6H463.5 M734.1 476.6H731.1 M460.5 374.96H463.5 M734.1 374.96H731.1 M99.8 667.4V664.4 M99.8 544V547 M252.74 667.4V664.4 M252.74 544V547 M99.8 667.4H102.8 M375.1 667.4H372.1 M99.8 585.13H102.8 M375.1 585.13H372.1 M460.5 667.4V664.4 M460.5 544V547 M612.5 667.4V664.4 M612.5 544V547 M460.5 667.4H463.5 M734.1 667.4H731.1 M460.5 585.13H463.5 M734.1 585.13H731.1"/>
<g font-family="Liberation Sans, sans-serif" font-size="31" fill="#000">
<text transform="translate(70.59 146.95) scale(0.8 1)" font-size="30.5">0</text>
<text transform="translate(70.03 38.1) scale(0.84 1)" font-size="30.5">5</text>
<text transform="translate(90.52 178.65) scale(0.8 1)" font-size="30.5">0</text>
<text transform="translate(235.07 178.65) scale(0.84 1)" font-size="30.5">5</text>
<text transform="translate(251.78 178.65) scale(0.8 1)" font-size="30.5">0</text>
<text class="pl thin" x="363.9" y="38.2" text-anchor="end">a)</text>
<text transform="translate(431.29 146.95) scale(0.8 1)" font-size="30.5">0</text>
<text transform="translate(430.73 38.1) scale(0.84 1)" font-size="30.5">5</text>
<text transform="translate(451.22 178.65) scale(0.8 1)" font-size="30.5">0</text>
<text transform="translate(594.82 178.65) scale(0.84 1)" font-size="30.5">5</text>
<text transform="translate(611.54 178.65) scale(0.8 1)" font-size="30.5">0</text>
<text class="pl thin" x="727" y="38.2" text-anchor="end">b)</text>
<text transform="translate(70.59 326.7) scale(0.8 1)" font-size="30.5">0</text>
<text transform="translate(70.03 262.1) scale(0.84 1)" font-size="30.5">5</text>
<rect x="62.74" y="177.2" width="2.3" height="21.6"/>
<path d="M63.04 178.6L56.74 182.8" stroke="#000" stroke-width="2.1" fill="none"/>
<text transform="translate(70.59 198.8) scale(0.8 1)" font-size="30.5">0</text>
<text transform="translate(90.52 358.4) scale(0.8 1)" font-size="30.5">0</text>
<text transform="translate(235.07 358.4) scale(0.84 1)" font-size="30.5">5</text>
<text transform="translate(251.78 358.4) scale(0.8 1)" font-size="30.5">0</text>
<text class="pl thin" x="363" y="219.8" text-anchor="end">c)</text>
<text transform="translate(431.29 326.7) scale(0.8 1)" font-size="30.5">0</text>
<text transform="translate(430.73 262.1) scale(0.84 1)" font-size="30.5">5</text>
<rect x="423.44" y="177.2" width="2.3" height="21.6"/>
<path d="M423.74 178.6L417.44 182.8" stroke="#000" stroke-width="2.1" fill="none"/>
<text transform="translate(431.29 198.8) scale(0.8 1)" font-size="30.5">0</text>
<text transform="translate(451.22 358.4) scale(0.8 1)" font-size="30.5">0</text>
<text transform="translate(594.82 358.4) scale(0.84 1)" font-size="30.5">5</text>
<text transform="translate(611.54 358.4) scale(0.8 1)" font-size="30.5">0</text>
<text class="pl thin" x="726.7" y="217.8" text-anchor="end">d)</text>
<text transform="translate(70.59 490.1) scale(0.8 1)" font-size="30.5">0</text>
<text transform="translate(70.03 387.86) scale(0.84 1)" font-size="30.5">5</text>
<text transform="translate(90.52 521.8) scale(0.8 1)" font-size="30.5">0</text>
<text transform="translate(235.07 521.8) scale(0.84 1)" font-size="30.5">5</text>
<text transform="translate(251.78 521.8) scale(0.8 1)" font-size="30.5">0</text>
<text class="pl thin" x="366.5" y="394.6" text-anchor="end">e)</text>
<text transform="translate(431.29 490.1) scale(0.8 1)" font-size="30.5">0</text>
<text transform="translate(430.73 387.86) scale(0.84 1)" font-size="30.5">5</text>
<text transform="translate(451.22 521.8) scale(0.8 1)" font-size="30.5">0</text>
<text transform="translate(594.82 521.8) scale(0.84 1)" font-size="30.5">5</text>
<text transform="translate(611.54 521.8) scale(0.8 1)" font-size="30.5">0</text>
<text class="pl thin" x="724.6" y="397.1" text-anchor="end">f)</text>
<text transform="translate(70.59 680.9) scale(0.8 1)" font-size="30.5">0</text>
<rect x="62.74" y="577.13" width="2.3" height="21.6"/>
<path d="M63.04 578.53L56.74 582.73" stroke="#000" stroke-width="2.1" fill="none"/>
<text transform="translate(70.59 598.73) scale(0.8 1)" font-size="30.5">0</text>
<text transform="translate(90.52 712.6) scale(0.8 1)" font-size="30.5">0</text>
<text transform="translate(235.07 712.6) scale(0.84 1)" font-size="30.5">5</text>
<text transform="translate(251.78 712.6) scale(0.8 1)" font-size="30.5">0</text>
<text class="pl thin" x="369.9" y="574.2" text-anchor="end">g)</text>
<text transform="translate(431.29 680.9) scale(0.8 1)" font-size="30.5">0</text>
<rect x="423.44" y="577.13" width="2.3" height="21.6"/>
<path d="M423.74 578.53L417.44 582.73" stroke="#000" stroke-width="2.1" fill="none"/>
<text transform="translate(431.29 598.73) scale(0.8 1)" font-size="30.5">0</text>
<text transform="translate(451.22 712.6) scale(0.8 1)" font-size="30.5">0</text>
<text transform="translate(594.82 712.6) scale(0.84 1)" font-size="30.5">5</text>
<text transform="translate(611.54 712.6) scale(0.8 1)" font-size="30.5">0</text>
<text class="pl thin" x="726.7" y="578.7" text-anchor="end">h)</text>
</g>
<text class="thin" x="331" y="748.3" font-family="Liberation Sans, sans-serif" font-size="36.3" fill="#000">Time (h)</text>
<g class="thin" transform="translate(0 572.1) rotate(-90)" font-family="Liberation Sans, sans-serif" fill="#000">
<text transform="translate(-2.39 35.6) scale(0.964 1)" font-size="34">Respiration rate</text>
<text transform="translate(238.3 35.6) scale(1.0 1)" font-size="34">(</text>
<text transform="translate(258.8 40.1) scale(0.9 1)" font-size="34" font-style="italic">μ</text>
<text transform="translate(281.82 35.6) scale(0.975 1)" font-size="34">gCO</text>
<text transform="translate(350.21 53.6) scale(0.9 1)" font-size="25">2</text>
<text transform="translate(365.52 35.6) scale(0.975 1)" font-size="34">-C</text>
<text transform="translate(410.95 35.6) scale(0.975 1)" font-size="34">h</text>
<text transform="translate(430.47 22.5) scale(0.9 1)" font-size="25">-1</text>
<text transform="translate(454.7 35.6) scale(1.0 1)" font-size="34">)</text>
</g>
</svg>
</body></html>
